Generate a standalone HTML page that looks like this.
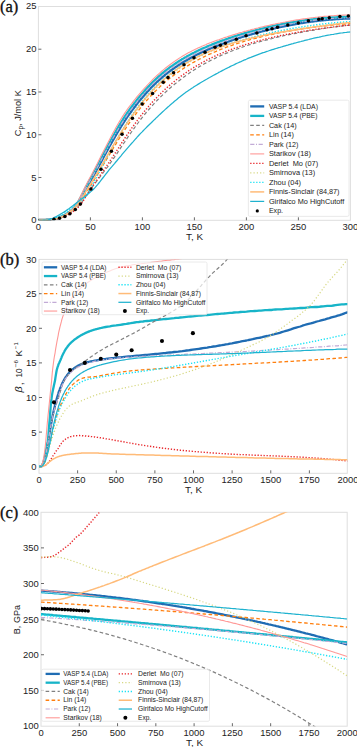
<!DOCTYPE html>
<html><head><meta charset="utf-8"><style>
html,body{margin:0;padding:0;background:#fff;}
body{width:357px;height:747px;overflow:hidden;}
svg{display:block;}
</style></head><body>
<svg width="357" height="747" viewBox="0 0 357 747">
<defs>
<clipPath id="ca"><rect x="38.4" y="6.5" width="312" height="213.8"/></clipPath>
<clipPath id="cb"><rect x="39" y="259.4" width="308.3" height="214"/></clipPath>
<clipPath id="cc"><rect x="41" y="512.3" width="306.2" height="213.9"/></clipPath>
</defs>
<rect x="38.4" y="6.5" width="312.0" height="213.8" fill="none" stroke="#dedede" stroke-width="1"/>
<line x1="38.4" y1="177.53" x2="41.4" y2="177.53" stroke="#444" stroke-width="0.8"/>
<line x1="38.4" y1="134.75" x2="41.4" y2="134.75" stroke="#444" stroke-width="0.8"/>
<line x1="38.4" y1="91.98" x2="41.4" y2="91.98" stroke="#444" stroke-width="0.8"/>
<line x1="38.4" y1="49.20" x2="41.4" y2="49.20" stroke="#444" stroke-width="0.8"/>
<line x1="90.40" y1="217.3" x2="90.40" y2="220.3" stroke="#444" stroke-width="0.8"/>
<line x1="142.40" y1="217.3" x2="142.40" y2="220.3" stroke="#444" stroke-width="0.8"/>
<line x1="194.40" y1="217.3" x2="194.40" y2="220.3" stroke="#444" stroke-width="0.8"/>
<line x1="246.40" y1="217.3" x2="246.40" y2="220.3" stroke="#444" stroke-width="0.8"/>
<line x1="298.40" y1="217.3" x2="298.40" y2="220.3" stroke="#444" stroke-width="0.8"/>
<line x1="38.4" y1="219.6" x2="51" y2="219.6" stroke="#111" stroke-width="1.6"/>
<path d="M38.9,220.3 L40.2,220.3 L41.5,220.2 L42.8,220.2 L44.1,220.2 L45.4,220.1 L46.7,220.0 L48.0,219.9 L49.3,219.8 L50.6,219.6 L52.0,219.5 L53.3,219.2 L54.6,219.0 L55.9,218.6 L57.2,218.3 L58.5,217.9 L59.8,217.4 L61.1,216.9 L62.4,216.4 L63.7,215.7 L65.0,215.0 L66.3,214.3 L67.6,213.5 L68.9,212.6 L70.2,211.6 L71.5,210.6 L72.8,209.4 L74.1,208.1 L75.4,206.6 L76.7,204.9 L78.0,203.1 L79.3,201.0 L80.6,198.8 L81.9,196.4 L83.2,194.0 L84.5,191.6 L85.8,189.3 L87.1,186.9 L88.4,184.6 L89.7,182.3 L91.1,180.1 L92.4,177.7 L93.7,175.4 L95.0,173.1 L96.3,170.7 L97.6,168.3 L98.9,165.9 L100.2,163.5 L101.5,161.1 L102.8,158.7 L104.1,156.3 L105.4,153.9 L106.7,151.5 L108.0,149.2 L109.3,146.8 L110.6,144.5 L111.9,142.2 L113.2,139.9 L114.5,137.6 L115.8,135.4 L117.1,133.1 L118.4,131.0 L119.7,128.8 L121.0,126.7 L122.3,124.6 L123.6,122.6 L124.9,120.6 L126.2,118.7 L127.5,116.7 L128.8,114.8 L130.1,113.0 L131.5,111.2 L132.8,109.4 L134.1,107.7 L135.4,106.0 L136.7,104.3 L138.0,102.6 L139.3,101.0 L140.6,99.4 L141.9,97.9 L143.2,96.4 L144.5,94.9 L145.8,93.4 L147.1,92.0 L148.4,90.6 L149.7,89.2 L151.0,87.8 L152.3,86.5 L153.6,85.2 L154.9,83.9 L156.2,82.7 L157.5,81.5 L158.8,80.3 L160.1,79.1 L161.4,78.0 L162.7,76.9 L164.0,75.8 L165.3,74.7 L166.6,73.7 L167.9,72.7 L169.2,71.7 L170.5,70.7 L171.9,69.7 L173.2,68.8 L174.5,67.9 L175.8,67.0 L177.1,66.1 L178.4,65.3 L179.7,64.4 L181.0,63.6 L182.3,62.8 L183.6,62.0 L184.9,61.2 L186.2,60.4 L187.5,59.7 L188.8,59.0 L190.1,58.2 L191.4,57.5 L192.7,56.9 L194.0,56.2 L195.3,55.5 L196.6,54.8 L197.9,54.2 L199.2,53.6 L200.5,52.9 L201.8,52.3 L203.1,51.7 L204.4,51.1 L205.7,50.6 L207.0,50.0 L208.3,49.4 L209.6,48.9 L211.0,48.3 L212.3,47.8 L213.6,47.2 L214.9,46.7 L216.2,46.2 L217.5,45.7 L218.8,45.2 L220.1,44.7 L221.4,44.2 L222.7,43.7 L224.0,43.2 L225.3,42.7 L226.6,42.2 L227.9,41.8 L229.2,41.3 L230.5,40.9 L231.8,40.4 L233.1,40.0 L234.4,39.5 L235.7,39.1 L237.0,38.7 L238.3,38.3 L239.6,37.8 L240.9,37.4 L242.2,37.0 L243.5,36.6 L244.8,36.2 L246.1,35.8 L247.4,35.4 L248.7,35.1 L250.0,34.7 L251.4,34.3 L252.7,33.9 L254.0,33.6 L255.3,33.2 L256.6,32.9 L257.9,32.5 L259.2,32.1 L260.5,31.8 L261.8,31.5 L263.1,31.1 L264.4,30.8 L265.7,30.5 L267.0,30.1 L268.3,29.8 L269.6,29.5 L270.9,29.2 L272.2,28.9 L273.5,28.6 L274.8,28.3 L276.1,28.0 L277.4,27.7 L278.7,27.4 L280.0,27.1 L281.3,26.9 L282.6,26.6 L283.9,26.3 L285.2,26.1 L286.5,25.8 L287.8,25.5 L289.1,25.3 L290.4,25.0 L291.8,24.8 L293.1,24.6 L294.4,24.3 L295.7,24.1 L297.0,23.9 L298.3,23.6 L299.6,23.4 L300.9,23.2 L302.2,23.0 L303.5,22.8 L304.8,22.6 L306.1,22.4 L307.4,22.2 L308.7,22.0 L310.0,21.8 L311.3,21.7 L312.6,21.5 L313.9,21.3 L315.2,21.2 L316.5,21.0 L317.8,20.9 L319.1,20.7 L320.4,20.6 L321.7,20.4 L323.0,20.3 L324.3,20.2 L325.6,20.0 L326.9,19.9 L328.2,19.8 L329.5,19.7 L330.9,19.6 L332.2,19.5 L333.5,19.4 L334.8,19.3 L336.1,19.2 L337.4,19.1 L338.7,19.0 L340.0,18.9 L341.3,18.9 L342.6,18.8 L343.9,18.7 L345.2,18.7 L346.5,18.6 L347.8,18.6 L349.1,18.6 L350.4,18.5" fill="none" stroke="#1f6cb3" stroke-width="2.3" stroke-linecap="butt" stroke-linejoin="round" clip-path="url(#ca)"/>
<path d="M38.9,220.3 L40.2,220.3 L41.5,220.2 L42.8,220.2 L44.1,220.2 L45.4,220.1 L46.7,220.0 L48.0,219.9 L49.3,219.8 L50.6,219.6 L52.0,219.4 L53.3,219.2 L54.6,218.9 L55.9,218.6 L57.2,218.2 L58.5,217.8 L59.8,217.4 L61.1,216.8 L62.4,216.3 L63.7,215.6 L65.0,214.9 L66.3,214.1 L67.6,213.3 L68.9,212.4 L70.2,211.4 L71.5,210.3 L72.8,209.1 L74.1,207.7 L75.4,206.0 L76.7,204.2 L78.0,202.2 L79.3,199.9 L80.6,197.5 L81.9,195.0 L83.2,192.4 L84.5,189.9 L85.8,187.4 L87.1,185.0 L88.4,182.6 L89.7,180.2 L91.1,177.8 L92.4,175.4 L93.7,173.0 L95.0,170.5 L96.3,168.1 L97.6,165.6 L98.9,163.1 L100.2,160.6 L101.5,158.1 L102.8,155.6 L104.1,153.1 L105.4,150.6 L106.7,148.1 L108.0,145.6 L109.3,143.2 L110.6,140.8 L111.9,138.4 L113.2,136.0 L114.5,133.7 L115.8,131.4 L117.1,129.1 L118.4,126.9 L119.7,124.7 L121.0,122.6 L122.3,120.5 L123.6,118.4 L124.9,116.4 L126.2,114.5 L127.5,112.5 L128.8,110.7 L130.1,108.8 L131.5,107.0 L132.8,105.3 L134.1,103.5 L135.4,101.9 L136.7,100.2 L138.0,98.6 L139.3,97.0 L140.6,95.4 L141.9,93.9 L143.2,92.4 L144.5,90.9 L145.8,89.5 L147.1,88.0 L148.4,86.6 L149.7,85.3 L151.0,83.9 L152.3,82.6 L153.6,81.3 L154.9,80.0 L156.2,78.8 L157.5,77.6 L158.8,76.4 L160.1,75.3 L161.4,74.1 L162.7,73.0 L164.0,72.0 L165.3,70.9 L166.6,69.9 L167.9,68.9 L169.2,67.9 L170.5,66.9 L171.9,66.0 L173.2,65.1 L174.5,64.2 L175.8,63.3 L177.1,62.4 L178.4,61.6 L179.7,60.8 L181.0,59.9 L182.3,59.1 L183.6,58.4 L184.9,57.6 L186.2,56.9 L187.5,56.1 L188.8,55.4 L190.1,54.7 L191.4,54.0 L192.7,53.3 L194.0,52.7 L195.3,52.0 L196.6,51.4 L197.9,50.7 L199.2,50.1 L200.5,49.5 L201.8,48.9 L203.1,48.3 L204.4,47.7 L205.7,47.2 L207.0,46.6 L208.3,46.0 L209.6,45.5 L211.0,45.0 L212.3,44.4 L213.6,43.9 L214.9,43.4 L216.2,42.9 L217.5,42.4 L218.8,41.9 L220.1,41.4 L221.4,40.9 L222.7,40.4 L224.0,40.0 L225.3,39.5 L226.6,39.0 L227.9,38.6 L229.2,38.1 L230.5,37.7 L231.8,37.3 L233.1,36.8 L234.4,36.4 L235.7,36.0 L237.0,35.6 L238.3,35.2 L239.6,34.8 L240.9,34.4 L242.2,34.0 L243.5,33.6 L244.8,33.2 L246.1,32.8 L247.4,32.4 L248.7,32.1 L250.0,31.7 L251.4,31.3 L252.7,31.0 L254.0,30.6 L255.3,30.3 L256.6,29.9 L257.9,29.6 L259.2,29.3 L260.5,28.9 L261.8,28.6 L263.1,28.3 L264.4,28.0 L265.7,27.7 L267.0,27.3 L268.3,27.0 L269.6,26.7 L270.9,26.4 L272.2,26.2 L273.5,25.9 L274.8,25.6 L276.1,25.3 L277.4,25.0 L278.7,24.8 L280.0,24.5 L281.3,24.2 L282.6,24.0 L283.9,23.7 L285.2,23.5 L286.5,23.2 L287.8,23.0 L289.1,22.8 L290.4,22.5 L291.8,22.3 L293.1,22.1 L294.4,21.9 L295.7,21.7 L297.0,21.4 L298.3,21.2 L299.6,21.0 L300.9,20.8 L302.2,20.6 L303.5,20.5 L304.8,20.3 L306.1,20.1 L307.4,19.9 L308.7,19.8 L310.0,19.6 L311.3,19.4 L312.6,19.3 L313.9,19.1 L315.2,19.0 L316.5,18.8 L317.8,18.7 L319.1,18.6 L320.4,18.4 L321.7,18.3 L323.0,18.2 L324.3,18.1 L325.6,18.0 L326.9,17.9 L328.2,17.8 L329.5,17.7 L330.9,17.6 L332.2,17.5 L333.5,17.4 L334.8,17.3 L336.1,17.3 L337.4,17.2 L338.7,17.1 L340.0,17.1 L341.3,17.0 L342.6,17.0 L343.9,16.9 L345.2,16.9 L346.5,16.9 L347.8,16.8 L349.1,16.8 L350.4,16.8" fill="none" stroke="#17b4c8" stroke-width="2.3" stroke-linecap="butt" stroke-linejoin="round" clip-path="url(#ca)"/>
<path d="M38.9,220.3 L40.2,220.3 L41.5,220.3 L42.8,220.2 L44.1,220.2 L45.4,220.1 L46.7,220.1 L48.0,220.0 L49.3,219.9 L50.6,219.8 L52.0,219.6 L53.3,219.4 L54.6,219.2 L55.9,218.9 L57.2,218.6 L58.5,218.3 L59.8,217.9 L61.1,217.5 L62.4,217.0 L63.7,216.5 L65.0,215.9 L66.3,215.2 L67.6,214.6 L68.9,213.8 L70.2,213.0 L71.5,212.1 L72.8,211.2 L74.1,210.2 L75.4,209.1 L76.7,208.0 L78.0,206.7 L79.3,205.2 L80.6,203.7 L81.9,202.0 L83.2,200.1 L84.5,198.2 L85.8,196.3 L87.1,194.3 L88.4,192.4 L89.7,190.5 L91.1,188.7 L92.4,186.9 L93.7,185.2 L95.0,183.4 L96.3,181.7 L97.6,180.0 L98.9,178.3 L100.2,176.6 L101.5,174.9 L102.8,173.2 L104.1,171.5 L105.4,169.8 L106.7,168.0 L108.0,166.3 L109.3,164.5 L110.6,162.7 L111.9,160.8 L113.2,159.0 L114.5,157.1 L115.8,155.2 L117.1,153.3 L118.4,151.3 L119.7,149.4 L121.0,147.4 L122.3,145.5 L123.6,143.5 L124.9,141.6 L126.2,139.7 L127.5,137.7 L128.8,135.8 L130.1,133.9 L131.5,132.0 L132.8,130.2 L134.1,128.3 L135.4,126.5 L136.7,124.7 L138.0,123.0 L139.3,121.2 L140.6,119.5 L141.9,117.9 L143.2,116.2 L144.5,114.6 L145.8,113.0 L147.1,111.5 L148.4,110.0 L149.7,108.5 L151.0,107.0 L152.3,105.6 L153.6,104.1 L154.9,102.8 L156.2,101.4 L157.5,100.0 L158.8,98.7 L160.1,97.4 L161.4,96.1 L162.7,94.8 L164.0,93.6 L165.3,92.4 L166.6,91.2 L167.9,90.0 L169.2,88.8 L170.5,87.7 L171.9,86.5 L173.2,85.4 L174.5,84.3 L175.8,83.3 L177.1,82.2 L178.4,81.2 L179.7,80.2 L181.0,79.2 L182.3,78.2 L183.6,77.2 L184.9,76.3 L186.2,75.3 L187.5,74.4 L188.8,73.5 L190.1,72.6 L191.4,71.7 L192.7,70.9 L194.0,70.0 L195.3,69.2 L196.6,68.4 L197.9,67.6 L199.2,66.8 L200.5,66.0 L201.8,65.3 L203.1,64.5 L204.4,63.8 L205.7,63.1 L207.0,62.4 L208.3,61.7 L209.6,61.0 L211.0,60.3 L212.3,59.7 L213.6,59.0 L214.9,58.4 L216.2,57.7 L217.5,57.1 L218.8,56.5 L220.1,55.9 L221.4,55.3 L222.7,54.8 L224.0,54.2 L225.3,53.6 L226.6,53.1 L227.9,52.6 L229.2,52.0 L230.5,51.5 L231.8,51.0 L233.1,50.5 L234.4,50.0 L235.7,49.5 L237.0,49.0 L238.3,48.6 L239.6,48.1 L240.9,47.6 L242.2,47.2 L243.5,46.7 L244.8,46.3 L246.1,45.9 L247.4,45.5 L248.7,45.0 L250.0,44.6 L251.4,44.2 L252.7,43.8 L254.0,43.4 L255.3,43.0 L256.6,42.7 L257.9,42.3 L259.2,41.9 L260.5,41.5 L261.8,41.2 L263.1,40.8 L264.4,40.5 L265.7,40.1 L267.0,39.8 L268.3,39.5 L269.6,39.1 L270.9,38.8 L272.2,38.5 L273.5,38.1 L274.8,37.8 L276.1,37.5 L277.4,37.2 L278.7,36.9 L280.0,36.6 L281.3,36.3 L282.6,36.0 L283.9,35.7 L285.2,35.5 L286.5,35.2 L287.8,34.9 L289.1,34.6 L290.4,34.4 L291.8,34.1 L293.1,33.8 L294.4,33.6 L295.7,33.3 L297.0,33.1 L298.3,32.8 L299.6,32.6 L300.9,32.3 L302.2,32.1 L303.5,31.9 L304.8,31.6 L306.1,31.4 L307.4,31.2 L308.7,30.9 L310.0,30.7 L311.3,30.5 L312.6,30.3 L313.9,30.1 L315.2,29.8 L316.5,29.6 L317.8,29.4 L319.1,29.2 L320.4,29.0 L321.7,28.8 L323.0,28.6 L324.3,28.4 L325.6,28.2 L326.9,28.0 L328.2,27.9 L329.5,27.7 L330.9,27.5 L332.2,27.3 L333.5,27.1 L334.8,26.9 L336.1,26.8 L337.4,26.6 L338.7,26.4 L340.0,26.2 L341.3,26.1 L342.6,25.9 L343.9,25.7 L345.2,25.6 L346.5,25.4 L347.8,25.3 L349.1,25.2 L350.4,25.1" fill="none" stroke="#808080" stroke-width="1.2" stroke-dasharray="3.6,2.4" stroke-linecap="butt" stroke-linejoin="round" clip-path="url(#ca)"/>
<path d="M38.9,220.3 L40.2,220.3 L41.5,220.3 L42.8,220.2 L44.1,220.2 L45.4,220.1 L46.7,220.1 L48.0,220.0 L49.3,219.8 L50.6,219.7 L52.0,219.5 L53.3,219.3 L54.6,219.1 L55.9,218.8 L57.2,218.4 L58.5,218.1 L59.8,217.6 L61.1,217.1 L62.4,216.6 L63.7,216.0 L65.0,215.4 L66.3,214.6 L67.6,213.9 L68.9,213.0 L70.2,212.1 L71.5,211.1 L72.8,210.0 L74.1,208.8 L75.4,207.5 L76.7,206.1 L78.0,204.5 L79.3,202.8 L80.6,201.0 L81.9,199.1 L83.2,197.1 L84.5,195.1 L85.8,193.0 L87.1,191.0 L88.4,188.9 L89.7,186.8 L91.1,184.8 L92.4,182.7 L93.7,180.6 L95.0,178.5 L96.3,176.4 L97.6,174.3 L98.9,172.1 L100.2,170.0 L101.5,167.8 L102.8,165.7 L104.1,163.5 L105.4,161.3 L106.7,159.2 L108.0,157.0 L109.3,154.8 L110.6,152.7 L111.9,150.5 L113.2,148.4 L114.5,146.2 L115.8,144.1 L117.1,141.9 L118.4,139.8 L119.7,137.7 L121.0,135.7 L122.3,133.6 L123.6,131.6 L124.9,129.6 L126.2,127.6 L127.5,125.7 L128.8,123.7 L130.1,121.9 L131.5,120.0 L132.8,118.2 L134.1,116.4 L135.4,114.6 L136.7,112.8 L138.0,111.1 L139.3,109.4 L140.6,107.8 L141.9,106.2 L143.2,104.6 L144.5,103.0 L145.8,101.5 L147.1,100.0 L148.4,98.6 L149.7,97.1 L151.0,95.7 L152.3,94.3 L153.6,93.0 L154.9,91.7 L156.2,90.4 L157.5,89.1 L158.8,87.9 L160.1,86.6 L161.4,85.4 L162.7,84.3 L164.0,83.1 L165.3,82.0 L166.6,80.9 L167.9,79.8 L169.2,78.8 L170.5,77.7 L171.9,76.7 L173.2,75.7 L174.5,74.7 L175.8,73.8 L177.1,72.8 L178.4,71.9 L179.7,71.0 L181.0,70.1 L182.3,69.2 L183.6,68.4 L184.9,67.5 L186.2,66.7 L187.5,65.9 L188.8,65.1 L190.1,64.3 L191.4,63.6 L192.7,62.8 L194.0,62.1 L195.3,61.4 L196.6,60.6 L197.9,59.9 L199.2,59.2 L200.5,58.6 L201.8,57.9 L203.1,57.3 L204.4,56.6 L205.7,56.0 L207.0,55.4 L208.3,54.7 L209.6,54.2 L211.0,53.6 L212.3,53.0 L213.6,52.4 L214.9,51.9 L216.2,51.3 L217.5,50.8 L218.8,50.2 L220.1,49.7 L221.4,49.2 L222.7,48.7 L224.0,48.2 L225.3,47.7 L226.6,47.2 L227.9,46.7 L229.2,46.3 L230.5,45.8 L231.8,45.4 L233.1,44.9 L234.4,44.5 L235.7,44.0 L237.0,43.6 L238.3,43.2 L239.6,42.8 L240.9,42.4 L242.2,42.0 L243.5,41.6 L244.8,41.2 L246.1,40.8 L247.4,40.4 L248.7,40.1 L250.0,39.7 L251.4,39.3 L252.7,39.0 L254.0,38.6 L255.3,38.3 L256.6,38.0 L257.9,37.6 L259.2,37.3 L260.5,37.0 L261.8,36.7 L263.1,36.3 L264.4,36.0 L265.7,35.7 L267.0,35.4 L268.3,35.1 L269.6,34.9 L270.9,34.6 L272.2,34.3 L273.5,34.0 L274.8,33.7 L276.1,33.5 L277.4,33.2 L278.7,32.9 L280.0,32.7 L281.3,32.4 L282.6,32.2 L283.9,31.9 L285.2,31.7 L286.5,31.5 L287.8,31.2 L289.1,31.0 L290.4,30.8 L291.8,30.5 L293.1,30.3 L294.4,30.1 L295.7,29.9 L297.0,29.7 L298.3,29.5 L299.6,29.3 L300.9,29.1 L302.2,28.9 L303.5,28.7 L304.8,28.5 L306.1,28.3 L307.4,28.1 L308.7,27.9 L310.0,27.7 L311.3,27.6 L312.6,27.4 L313.9,27.2 L315.2,27.1 L316.5,26.9 L317.8,26.7 L319.1,26.6 L320.4,26.4 L321.7,26.3 L323.0,26.1 L324.3,26.0 L325.6,25.8 L326.9,25.7 L328.2,25.5 L329.5,25.4 L330.9,25.3 L332.2,25.1 L333.5,25.0 L334.8,24.9 L336.1,24.8 L337.4,24.6 L338.7,24.5 L340.0,24.4 L341.3,24.3 L342.6,24.2 L343.9,24.1 L345.2,24.0 L346.5,23.9 L347.8,23.8 L349.1,23.7 L350.4,23.7" fill="none" stroke="#ff7f0e" stroke-width="1.3" stroke-dasharray="3.6,2.4" stroke-linecap="butt" stroke-linejoin="round" clip-path="url(#ca)"/>
<path d="M38.9,220.3 L40.2,220.3 L41.5,220.2 L42.8,220.2 L44.1,220.2 L45.4,220.1 L46.7,220.0 L48.0,219.9 L49.3,219.8 L50.6,219.6 L52.0,219.4 L53.3,219.2 L54.6,218.9 L55.9,218.6 L57.2,218.3 L58.5,217.9 L59.8,217.4 L61.1,216.9 L62.4,216.3 L63.7,215.7 L65.0,215.0 L66.3,214.2 L67.6,213.4 L68.9,212.5 L70.2,211.5 L71.5,210.5 L72.8,209.3 L74.1,207.9 L75.4,206.4 L76.7,204.6 L78.0,202.7 L79.3,200.5 L80.6,198.2 L81.9,195.7 L83.2,193.3 L84.5,190.8 L85.8,188.4 L87.1,186.0 L88.4,183.7 L89.7,181.3 L91.1,179.0 L92.4,176.6 L93.7,174.2 L95.0,171.8 L96.3,169.4 L97.6,167.0 L98.9,164.5 L100.2,162.1 L101.5,159.6 L102.8,157.2 L104.1,154.7 L105.4,152.3 L106.7,149.9 L108.0,147.4 L109.3,145.0 L110.6,142.7 L111.9,140.3 L113.2,138.0 L114.5,135.7 L115.8,133.4 L117.1,131.2 L118.4,129.0 L119.7,126.8 L121.0,124.7 L122.3,122.6 L123.6,120.6 L124.9,118.6 L126.2,116.6 L127.5,114.7 L128.8,112.8 L130.1,110.9 L131.5,109.1 L132.8,107.4 L134.1,105.6 L135.4,103.9 L136.7,102.3 L138.0,100.6 L139.3,99.0 L140.6,97.5 L141.9,95.9 L143.2,94.4 L144.5,92.9 L145.8,91.4 L147.1,90.0 L148.4,88.6 L149.7,87.2 L151.0,85.9 L152.3,84.5 L153.6,83.2 L154.9,82.0 L156.2,80.7 L157.5,79.5 L158.8,78.3 L160.1,77.2 L161.4,76.1 L162.7,74.9 L164.0,73.9 L165.3,72.8 L166.6,71.8 L167.9,70.8 L169.2,69.8 L170.5,68.8 L171.9,67.8 L173.2,66.9 L174.5,66.0 L175.8,65.1 L177.1,64.2 L178.4,63.4 L179.7,62.5 L181.0,61.7 L182.3,60.9 L183.6,60.1 L184.9,59.4 L186.2,58.6 L187.5,57.9 L188.8,57.1 L190.1,56.4 L191.4,55.7 L192.7,55.0 L194.0,54.4 L195.3,53.7 L196.6,53.1 L197.9,52.4 L199.2,51.8 L200.5,51.2 L201.8,50.6 L203.1,50.0 L204.4,49.4 L205.7,48.8 L207.0,48.2 L208.3,47.7 L209.6,47.1 L211.0,46.6 L212.3,46.0 L213.6,45.5 L214.9,45.0 L216.2,44.5 L217.5,44.0 L218.8,43.5 L220.1,43.0 L221.4,42.5 L222.7,42.0 L224.0,41.5 L225.3,41.1 L226.6,40.6 L227.9,40.2 L229.2,39.7 L230.5,39.3 L231.8,38.8 L233.1,38.4 L234.4,38.0 L235.7,37.5 L237.0,37.1 L238.3,36.7 L239.6,36.3 L240.9,35.9 L242.2,35.5 L243.5,35.1 L244.8,34.7 L246.1,34.3 L247.4,33.9 L248.7,33.6 L250.0,33.2 L251.4,32.8 L252.7,32.4 L254.0,32.1 L255.3,31.7 L256.6,31.4 L257.9,31.0 L259.2,30.7 L260.5,30.4 L261.8,30.0 L263.1,29.7 L264.4,29.4 L265.7,29.1 L267.0,28.7 L268.3,28.4 L269.6,28.1 L270.9,27.8 L272.2,27.5 L273.5,27.2 L274.8,26.9 L276.1,26.7 L277.4,26.4 L278.7,26.1 L280.0,25.8 L281.3,25.6 L282.6,25.3 L283.9,25.0 L285.2,24.8 L286.5,24.5 L287.8,24.3 L289.1,24.0 L290.4,23.8 L291.8,23.6 L293.1,23.3 L294.4,23.1 L295.7,22.9 L297.0,22.7 L298.3,22.4 L299.6,22.2 L300.9,22.0 L302.2,21.8 L303.5,21.6 L304.8,21.4 L306.1,21.3 L307.4,21.1 L308.7,20.9 L310.0,20.7 L311.3,20.6 L312.6,20.4 L313.9,20.2 L315.2,20.1 L316.5,19.9 L317.8,19.8 L319.1,19.6 L320.4,19.5 L321.7,19.4 L323.0,19.2 L324.3,19.1 L325.6,19.0 L326.9,18.9 L328.2,18.8 L329.5,18.7 L330.9,18.6 L332.2,18.5 L333.5,18.4 L334.8,18.3 L336.1,18.2 L337.4,18.2 L338.7,18.1 L340.0,18.0 L341.3,18.0 L342.6,17.9 L343.9,17.8 L345.2,17.8 L346.5,17.8 L347.8,17.7 L349.1,17.7 L350.4,17.7" fill="none" stroke="#c2abd6" stroke-width="1.2" stroke-dasharray="4.2,1.6,1,1.6" stroke-linecap="butt" stroke-linejoin="round" clip-path="url(#ca)"/>
<path d="M38.9,220.3 L40.2,220.3 L41.5,220.2 L42.8,220.2 L44.1,220.2 L45.4,220.1 L46.7,220.0 L48.0,219.9 L49.3,219.8 L50.6,219.6 L52.0,219.4 L53.3,219.2 L54.6,218.9 L55.9,218.6 L57.2,218.2 L58.5,217.8 L59.8,217.3 L61.1,216.8 L62.4,216.2 L63.7,215.5 L65.0,214.8 L66.3,214.0 L67.6,213.2 L68.9,212.2 L70.2,211.2 L71.5,210.1 L72.8,208.8 L74.1,207.3 L75.4,205.5 L76.7,203.5 L78.0,201.2 L79.3,198.7 L80.6,196.1 L81.9,193.4 L83.2,190.7 L84.5,188.1 L85.8,185.5 L87.1,183.0 L88.4,180.5 L89.7,178.0 L91.1,175.6 L92.4,173.1 L93.7,170.5 L95.0,168.0 L96.3,165.5 L97.6,162.9 L98.9,160.3 L100.2,157.7 L101.5,155.1 L102.8,152.6 L104.1,150.0 L105.4,147.4 L106.7,144.9 L108.0,142.4 L109.3,139.9 L110.6,137.4 L111.9,134.9 L113.2,132.5 L114.5,130.2 L115.8,127.8 L117.1,125.5 L118.4,123.3 L119.7,121.1 L121.0,119.0 L122.3,116.9 L123.6,114.9 L124.9,112.9 L126.2,111.0 L127.5,109.1 L128.8,107.3 L130.1,105.5 L131.5,103.8 L132.8,102.1 L134.1,100.4 L135.4,98.8 L136.7,97.2 L138.0,95.6 L139.3,94.1 L140.6,92.6 L141.9,91.1 L143.2,89.6 L144.5,88.2 L145.8,86.8 L147.1,85.4 L148.4,84.0 L149.7,82.6 L151.0,81.3 L152.3,80.0 L153.6,78.7 L154.9,77.4 L156.2,76.2 L157.5,75.0 L158.8,73.8 L160.1,72.6 L161.4,71.5 L162.7,70.4 L164.0,69.3 L165.3,68.2 L166.6,67.2 L167.9,66.2 L169.2,65.2 L170.5,64.2 L171.9,63.2 L173.2,62.3 L174.5,61.4 L175.8,60.5 L177.1,59.6 L178.4,58.8 L179.7,57.9 L181.0,57.1 L182.3,56.3 L183.6,55.5 L184.9,54.8 L186.2,54.0 L187.5,53.3 L188.8,52.6 L190.1,51.9 L191.4,51.2 L192.7,50.6 L194.0,49.9 L195.3,49.3 L196.6,48.7 L197.9,48.1 L199.2,47.5 L200.5,46.9 L201.8,46.3 L203.1,45.8 L204.4,45.2 L205.7,44.7 L207.0,44.1 L208.3,43.6 L209.6,43.1 L211.0,42.6 L212.3,42.1 L213.6,41.6 L214.9,41.1 L216.2,40.6 L217.5,40.1 L218.8,39.7 L220.1,39.2 L221.4,38.7 L222.7,38.3 L224.0,37.8 L225.3,37.4 L226.6,37.0 L227.9,36.5 L229.2,36.1 L230.5,35.7 L231.8,35.3 L233.1,34.9 L234.4,34.5 L235.7,34.1 L237.0,33.7 L238.3,33.3 L239.6,32.9 L240.9,32.5 L242.2,32.2 L243.5,31.8 L244.8,31.4 L246.1,31.1 L247.4,30.7 L248.7,30.3 L250.0,30.0 L251.4,29.6 L252.7,29.3 L254.0,29.0 L255.3,28.6 L256.6,28.3 L257.9,28.0 L259.2,27.6 L260.5,27.3 L261.8,27.0 L263.1,26.7 L264.4,26.4 L265.7,26.1 L267.0,25.8 L268.3,25.5 L269.6,25.2 L270.9,24.9 L272.2,24.6 L273.5,24.3 L274.8,24.1 L276.1,23.8 L277.4,23.5 L278.7,23.2 L280.0,23.0 L281.3,22.7 L282.6,22.5 L283.9,22.2 L285.2,22.0 L286.5,21.7 L287.8,21.5 L289.1,21.2 L290.4,21.0 L291.8,20.8 L293.1,20.6 L294.4,20.3 L295.7,20.1 L297.0,19.9 L298.3,19.7 L299.6,19.5 L300.9,19.3 L302.2,19.1 L303.5,18.9 L304.8,18.7 L306.1,18.5 L307.4,18.4 L308.7,18.2 L310.0,18.0 L311.3,17.8 L312.6,17.7 L313.9,17.5 L315.2,17.4 L316.5,17.2 L317.8,17.1 L319.1,16.9 L320.4,16.8 L321.7,16.7 L323.0,16.5 L324.3,16.4 L325.6,16.3 L326.9,16.2 L328.2,16.1 L329.5,15.9 L330.9,15.8 L332.2,15.7 L333.5,15.7 L334.8,15.6 L336.1,15.5 L337.4,15.4 L338.7,15.3 L340.0,15.2 L341.3,15.2 L342.6,15.1 L343.9,15.1 L345.2,15.0 L346.5,15.0 L347.8,14.9 L349.1,14.9 L350.4,14.9" fill="none" stroke="#ff9896" stroke-width="1.1" stroke-linecap="butt" stroke-linejoin="round" clip-path="url(#ca)"/>
<path d="M38.9,220.3 L40.2,220.3 L41.5,220.3 L42.8,220.2 L44.1,220.2 L45.4,220.2 L46.7,220.1 L48.0,220.0 L49.3,219.9 L50.6,219.8 L52.0,219.7 L53.3,219.5 L54.6,219.3 L55.9,219.1 L57.2,218.8 L58.5,218.5 L59.8,218.2 L61.1,217.8 L62.4,217.3 L63.7,216.8 L65.0,216.3 L66.3,215.7 L67.6,215.1 L68.9,214.4 L70.2,213.6 L71.5,212.8 L72.8,212.0 L74.1,211.0 L75.4,210.0 L76.7,208.8 L78.0,207.6 L79.3,206.1 L80.6,204.5 L81.9,202.8 L83.2,200.9 L84.5,198.8 L85.8,196.7 L87.1,194.5 L88.4,192.4 L89.7,190.4 L91.1,188.4 L92.4,186.4 L93.7,184.5 L95.0,182.6 L96.3,180.8 L97.6,178.9 L98.9,177.1 L100.2,175.2 L101.5,173.4 L102.8,171.5 L104.1,169.6 L105.4,167.7 L106.7,165.8 L108.0,163.9 L109.3,162.0 L110.6,160.0 L111.9,158.1 L113.2,156.1 L114.5,154.1 L115.8,152.1 L117.1,150.1 L118.4,148.1 L119.7,146.0 L121.0,144.0 L122.3,142.0 L123.6,140.1 L124.9,138.1 L126.2,136.1 L127.5,134.2 L128.8,132.3 L130.1,130.4 L131.5,128.5 L132.8,126.7 L134.1,124.9 L135.4,123.1 L136.7,121.3 L138.0,119.5 L139.3,117.8 L140.6,116.1 L141.9,114.5 L143.2,112.9 L144.5,111.2 L145.8,109.7 L147.1,108.1 L148.4,106.6 L149.7,105.1 L151.0,103.7 L152.3,102.2 L153.6,100.8 L154.9,99.4 L156.2,98.1 L157.5,96.7 L158.8,95.4 L160.1,94.1 L161.4,92.8 L162.7,91.6 L164.0,90.4 L165.3,89.1 L166.6,88.0 L167.9,86.8 L169.2,85.6 L170.5,84.5 L171.9,83.4 L173.2,82.3 L174.5,81.3 L175.8,80.2 L177.1,79.2 L178.4,78.2 L179.7,77.2 L181.0,76.2 L182.3,75.3 L183.6,74.3 L184.9,73.4 L186.2,72.5 L187.5,71.6 L188.8,70.7 L190.1,69.9 L191.4,69.0 L192.7,68.2 L194.0,67.4 L195.3,66.6 L196.6,65.8 L197.9,65.0 L199.2,64.3 L200.5,63.5 L201.8,62.8 L203.1,62.1 L204.4,61.4 L205.7,60.7 L207.0,60.0 L208.3,59.4 L209.6,58.7 L211.0,58.1 L212.3,57.4 L213.6,56.8 L214.9,56.2 L216.2,55.6 L217.5,55.0 L218.8,54.5 L220.1,53.9 L221.4,53.3 L222.7,52.8 L224.0,52.3 L225.3,51.7 L226.6,51.2 L227.9,50.7 L229.2,50.2 L230.5,49.7 L231.8,49.2 L233.1,48.7 L234.4,48.3 L235.7,47.8 L237.0,47.4 L238.3,46.9 L239.6,46.5 L240.9,46.1 L242.2,45.6 L243.5,45.2 L244.8,44.8 L246.1,44.4 L247.4,44.0 L248.7,43.6 L250.0,43.2 L251.4,42.8 L252.7,42.5 L254.0,42.1 L255.3,41.7 L256.6,41.4 L257.9,41.0 L259.2,40.7 L260.5,40.3 L261.8,40.0 L263.1,39.7 L264.4,39.3 L265.7,39.0 L267.0,38.7 L268.3,38.4 L269.6,38.1 L270.9,37.7 L272.2,37.4 L273.5,37.1 L274.8,36.9 L276.1,36.6 L277.4,36.3 L278.7,36.0 L280.0,35.7 L281.3,35.4 L282.6,35.2 L283.9,34.9 L285.2,34.6 L286.5,34.4 L287.8,34.1 L289.1,33.9 L290.4,33.6 L291.8,33.4 L293.1,33.1 L294.4,32.9 L295.7,32.6 L297.0,32.4 L298.3,32.2 L299.6,31.9 L300.9,31.7 L302.2,31.5 L303.5,31.3 L304.8,31.1 L306.1,30.9 L307.4,30.6 L308.7,30.4 L310.0,30.2 L311.3,30.0 L312.6,29.8 L313.9,29.6 L315.2,29.4 L316.5,29.2 L317.8,29.0 L319.1,28.9 L320.4,28.7 L321.7,28.5 L323.0,28.3 L324.3,28.1 L325.6,27.9 L326.9,27.8 L328.2,27.6 L329.5,27.4 L330.9,27.3 L332.2,27.1 L333.5,26.9 L334.8,26.8 L336.1,26.6 L337.4,26.4 L338.7,26.3 L340.0,26.1 L341.3,26.0 L342.6,25.8 L343.9,25.7 L345.2,25.5 L346.5,25.4 L347.8,25.3 L349.1,25.2 L350.4,25.1" fill="none" stroke="#e8262a" stroke-width="1.4" stroke-dasharray="1.3,1.7" stroke-linecap="butt" stroke-linejoin="round" clip-path="url(#ca)"/>
<path d="M38.9,220.3 L40.2,220.3 L41.5,220.3 L42.8,220.2 L44.1,220.2 L45.4,220.1 L46.7,220.1 L48.0,220.0 L49.3,219.8 L50.6,219.7 L52.0,219.5 L53.3,219.3 L54.6,219.0 L55.9,218.8 L57.2,218.4 L58.5,218.0 L59.8,217.6 L61.1,217.1 L62.4,216.6 L63.7,216.0 L65.0,215.3 L66.3,214.6 L67.6,213.8 L68.9,212.9 L70.2,212.0 L71.5,210.9 L72.8,209.8 L74.1,208.6 L75.4,207.2 L76.7,205.7 L78.0,204.0 L79.3,202.2 L80.6,200.3 L81.9,198.2 L83.2,196.1 L84.5,193.9 L85.8,191.7 L87.1,189.6 L88.4,187.5 L89.7,185.3 L91.1,183.2 L92.4,181.1 L93.7,179.0 L95.0,176.8 L96.3,174.7 L97.6,172.5 L98.9,170.4 L100.2,168.2 L101.5,166.0 L102.8,163.8 L104.1,161.6 L105.4,159.4 L106.7,157.2 L108.0,155.0 L109.3,152.8 L110.6,150.6 L111.9,148.5 L113.2,146.3 L114.5,144.1 L115.8,141.9 L117.1,139.8 L118.4,137.7 L119.7,135.6 L121.0,133.5 L122.3,131.4 L123.6,129.4 L124.9,127.4 L126.2,125.4 L127.5,123.4 L128.8,121.5 L130.1,119.6 L131.5,117.7 L132.8,115.9 L134.1,114.1 L135.4,112.3 L136.7,110.6 L138.0,108.9 L139.3,107.2 L140.6,105.5 L141.9,103.9 L143.2,102.3 L144.5,100.8 L145.8,99.2 L147.1,97.7 L148.4,96.3 L149.7,94.8 L151.0,93.4 L152.3,92.0 L153.6,90.6 L154.9,89.3 L156.2,88.0 L157.5,86.7 L158.8,85.4 L160.1,84.2 L161.4,83.0 L162.7,81.8 L164.0,80.6 L165.3,79.5 L166.6,78.4 L167.9,77.3 L169.2,76.2 L170.5,75.2 L171.9,74.1 L173.2,73.1 L174.5,72.1 L175.8,71.2 L177.1,70.2 L178.4,69.3 L179.7,68.4 L181.0,67.5 L182.3,66.6 L183.6,65.8 L184.9,64.9 L186.2,64.1 L187.5,63.3 L188.8,62.5 L190.1,61.7 L191.4,61.0 L192.7,60.2 L194.0,59.5 L195.3,58.8 L196.6,58.1 L197.9,57.4 L199.2,56.8 L200.5,56.1 L201.8,55.4 L203.1,54.8 L204.4,54.2 L205.7,53.6 L207.0,53.0 L208.3,52.4 L209.6,51.8 L211.0,51.3 L212.3,50.7 L213.6,50.2 L214.9,49.6 L216.2,49.1 L217.5,48.6 L218.8,48.1 L220.1,47.6 L221.4,47.1 L222.7,46.6 L224.0,46.2 L225.3,45.7 L226.6,45.3 L227.9,44.8 L229.2,44.4 L230.5,44.0 L231.8,43.5 L233.1,43.1 L234.4,42.7 L235.7,42.3 L237.0,41.9 L238.3,41.5 L239.6,41.2 L240.9,40.8 L242.2,40.4 L243.5,40.1 L244.8,39.7 L246.1,39.3 L247.4,39.0 L248.7,38.7 L250.0,38.3 L251.4,38.0 L252.7,37.7 L254.0,37.4 L255.3,37.0 L256.6,36.7 L257.9,36.4 L259.2,36.1 L260.5,35.8 L261.8,35.5 L263.1,35.3 L264.4,35.0 L265.7,34.7 L267.0,34.4 L268.3,34.1 L269.6,33.9 L270.9,33.6 L272.2,33.3 L273.5,33.1 L274.8,32.8 L276.1,32.6 L277.4,32.3 L278.7,32.1 L280.0,31.8 L281.3,31.6 L282.6,31.4 L283.9,31.1 L285.2,30.9 L286.5,30.7 L287.8,30.4 L289.1,30.2 L290.4,30.0 L291.8,29.8 L293.1,29.6 L294.4,29.4 L295.7,29.1 L297.0,28.9 L298.3,28.7 L299.6,28.5 L300.9,28.3 L302.2,28.1 L303.5,27.9 L304.8,27.7 L306.1,27.5 L307.4,27.3 L308.7,27.2 L310.0,27.0 L311.3,26.8 L312.6,26.6 L313.9,26.4 L315.2,26.2 L316.5,26.1 L317.8,25.9 L319.1,25.7 L320.4,25.5 L321.7,25.3 L323.0,25.2 L324.3,25.0 L325.6,24.8 L326.9,24.7 L328.2,24.5 L329.5,24.3 L330.9,24.2 L332.2,24.0 L333.5,23.8 L334.8,23.7 L336.1,23.5 L337.4,23.4 L338.7,23.2 L340.0,23.0 L341.3,22.9 L342.6,22.7 L343.9,22.6 L345.2,22.4 L346.5,22.3 L347.8,22.2 L349.1,22.1 L350.4,22.0" fill="none" stroke="#d6d882" stroke-width="1.2" stroke-dasharray="1.2,2.1" stroke-linecap="butt" stroke-linejoin="round" clip-path="url(#ca)"/>
<path d="M38.9,220.3 L40.2,220.3 L41.5,220.3 L42.8,220.3 L44.1,220.2 L45.4,220.2 L46.7,220.1 L48.0,220.0 L49.3,219.8 L50.6,219.5 L52.0,219.2 L53.3,218.8 L54.6,218.3 L55.9,217.8 L57.2,217.3 L58.5,216.7 L59.8,216.1 L61.1,215.3 L62.4,214.5 L63.7,213.7 L65.0,212.8 L66.3,212.0 L67.6,211.1 L68.9,210.1 L70.2,209.2 L71.5,208.2 L72.8,207.2 L74.1,206.2 L75.4,205.3 L76.7,204.3 L78.0,203.4 L79.3,202.4 L80.6,201.3 L81.9,200.2 L83.2,198.9 L84.5,197.6 L85.8,196.0 L87.1,194.0 L88.4,191.8 L89.7,189.4 L91.1,187.1 L92.4,184.8 L93.7,182.4 L95.0,180.1 L96.3,177.7 L97.6,175.2 L98.9,172.8 L100.2,170.3 L101.5,167.8 L102.8,165.3 L104.1,162.9 L105.4,160.4 L106.7,157.9 L108.0,155.5 L109.3,153.0 L110.6,150.6 L111.9,148.2 L113.2,145.8 L114.5,143.5 L115.8,141.2 L117.1,138.9 L118.4,136.6 L119.7,134.4 L121.0,132.2 L122.3,130.0 L123.6,127.9 L124.9,125.8 L126.2,123.7 L127.5,121.7 L128.8,119.7 L130.1,117.7 L131.5,115.8 L132.8,113.9 L134.1,112.0 L135.4,110.2 L136.7,108.4 L138.0,106.6 L139.3,104.9 L140.6,103.2 L141.9,101.6 L143.2,99.9 L144.5,98.4 L145.8,96.8 L147.1,95.3 L148.4,93.8 L149.7,92.4 L151.0,91.0 L152.3,89.6 L153.6,88.2 L154.9,86.9 L156.2,85.6 L157.5,84.4 L158.8,83.1 L160.1,81.9 L161.4,80.8 L162.7,79.6 L164.0,78.5 L165.3,77.4 L166.6,76.4 L167.9,75.3 L169.2,74.3 L170.5,73.3 L171.9,72.3 L173.2,71.4 L174.5,70.5 L175.8,69.6 L177.1,68.7 L178.4,67.8 L179.7,66.9 L181.0,66.1 L182.3,65.3 L183.6,64.5 L184.9,63.7 L186.2,63.0 L187.5,62.2 L188.8,61.5 L190.1,60.7 L191.4,60.0 L192.7,59.3 L194.0,58.7 L195.3,58.0 L196.6,57.3 L197.9,56.7 L199.2,56.0 L200.5,55.4 L201.8,54.8 L203.1,54.2 L204.4,53.6 L205.7,53.0 L207.0,52.5 L208.3,51.9 L209.6,51.4 L211.0,50.8 L212.3,50.3 L213.6,49.8 L214.9,49.2 L216.2,48.7 L217.5,48.2 L218.8,47.7 L220.1,47.2 L221.4,46.8 L222.7,46.3 L224.0,45.8 L225.3,45.4 L226.6,44.9 L227.9,44.5 L229.2,44.0 L230.5,43.6 L231.8,43.2 L233.1,42.8 L234.4,42.3 L235.7,41.9 L237.0,41.5 L238.3,41.1 L239.6,40.7 L240.9,40.3 L242.2,40.0 L243.5,39.6 L244.8,39.2 L246.1,38.8 L247.4,38.5 L248.7,38.1 L250.0,37.8 L251.4,37.4 L252.7,37.1 L254.0,36.7 L255.3,36.4 L256.6,36.1 L257.9,35.7 L259.2,35.4 L260.5,35.1 L261.8,34.8 L263.1,34.5 L264.4,34.2 L265.7,33.9 L267.0,33.6 L268.3,33.3 L269.6,33.0 L270.9,32.7 L272.2,32.4 L273.5,32.1 L274.8,31.8 L276.1,31.6 L277.4,31.3 L278.7,31.0 L280.0,30.8 L281.3,30.5 L282.6,30.3 L283.9,30.0 L285.2,29.8 L286.5,29.5 L287.8,29.3 L289.1,29.0 L290.4,28.8 L291.8,28.6 L293.1,28.3 L294.4,28.1 L295.7,27.9 L297.0,27.7 L298.3,27.4 L299.6,27.2 L300.9,27.0 L302.2,26.8 L303.5,26.6 L304.8,26.4 L306.1,26.2 L307.4,26.0 L308.7,25.8 L310.0,25.6 L311.3,25.4 L312.6,25.3 L313.9,25.1 L315.2,24.9 L316.5,24.7 L317.8,24.6 L319.1,24.4 L320.4,24.2 L321.7,24.1 L323.0,23.9 L324.3,23.8 L325.6,23.6 L326.9,23.5 L328.2,23.3 L329.5,23.2 L330.9,23.1 L332.2,22.9 L333.5,22.8 L334.8,22.7 L336.1,22.6 L337.4,22.4 L338.7,22.3 L340.0,22.2 L341.3,22.1 L342.6,22.0 L343.9,21.9 L345.2,21.8 L346.5,21.8 L347.8,21.7 L349.1,21.6 L350.4,21.6" fill="none" stroke="#1de3f5" stroke-width="1.4" stroke-dasharray="1.3,1.7" stroke-linecap="butt" stroke-linejoin="round" clip-path="url(#ca)"/>
<path d="M38.9,220.3 L40.2,220.3 L41.5,220.3 L42.8,220.2 L44.1,220.2 L45.4,220.1 L46.7,220.1 L48.0,220.0 L49.3,219.8 L50.6,219.7 L52.0,219.5 L53.3,219.3 L54.6,219.0 L55.9,218.7 L57.2,218.4 L58.5,218.0 L59.8,217.6 L61.1,217.1 L62.4,216.6 L63.7,216.0 L65.0,215.3 L66.3,214.6 L67.6,213.8 L68.9,212.9 L70.2,211.9 L71.5,210.9 L72.8,209.8 L74.1,208.6 L75.4,207.2 L76.7,205.7 L78.0,204.0 L79.3,202.2 L80.6,200.3 L81.9,198.2 L83.2,196.1 L84.5,193.9 L85.8,191.7 L87.1,189.6 L88.4,187.4 L89.7,185.3 L91.1,183.1 L92.4,181.0 L93.7,178.8 L95.0,176.7 L96.3,174.5 L97.6,172.3 L98.9,170.1 L100.2,167.8 L101.5,165.6 L102.8,163.4 L104.1,161.1 L105.4,158.9 L106.7,156.7 L108.0,154.4 L109.3,152.2 L110.6,149.9 L111.9,147.7 L113.2,145.5 L114.5,143.3 L115.8,141.1 L117.1,138.9 L118.4,136.8 L119.7,134.6 L121.0,132.5 L122.3,130.4 L123.6,128.3 L124.9,126.3 L126.2,124.3 L127.5,122.3 L128.8,120.4 L130.1,118.5 L131.5,116.6 L132.8,114.7 L134.1,112.9 L135.4,111.1 L136.7,109.4 L138.0,107.6 L139.3,105.9 L140.6,104.3 L141.9,102.6 L143.2,101.0 L144.5,99.5 L145.8,97.9 L147.1,96.4 L148.4,94.9 L149.7,93.5 L151.0,92.1 L152.3,90.7 L153.6,89.3 L154.9,88.0 L156.2,86.7 L157.5,85.4 L158.8,84.1 L160.1,82.9 L161.4,81.7 L162.7,80.5 L164.0,79.4 L165.3,78.2 L166.6,77.1 L167.9,76.1 L169.2,75.0 L170.5,74.0 L171.9,73.0 L173.2,72.0 L174.5,71.0 L175.8,70.0 L177.1,69.1 L178.4,68.2 L179.7,67.3 L181.0,66.4 L182.3,65.6 L183.6,64.7 L184.9,63.9 L186.2,63.1 L187.5,62.3 L188.8,61.6 L190.1,60.8 L191.4,60.1 L192.7,59.4 L194.0,58.7 L195.3,58.0 L196.6,57.3 L197.9,56.6 L199.2,56.0 L200.5,55.4 L201.8,54.7 L203.1,54.1 L204.4,53.5 L205.7,52.9 L207.0,52.4 L208.3,51.8 L209.6,51.2 L211.0,50.7 L212.3,50.2 L213.6,49.7 L214.9,49.2 L216.2,48.7 L217.5,48.2 L218.8,47.7 L220.1,47.2 L221.4,46.8 L222.7,46.3 L224.0,45.9 L225.3,45.4 L226.6,45.0 L227.9,44.6 L229.2,44.2 L230.5,43.8 L231.8,43.4 L233.1,43.0 L234.4,42.6 L235.7,42.2 L237.0,41.8 L238.3,41.5 L239.6,41.1 L240.9,40.8 L242.2,40.4 L243.5,40.1 L244.8,39.7 L246.1,39.4 L247.4,39.1 L248.7,38.8 L250.0,38.5 L251.4,38.1 L252.7,37.8 L254.0,37.5 L255.3,37.2 L256.6,37.0 L257.9,36.7 L259.2,36.4 L260.5,36.1 L261.8,35.8 L263.1,35.6 L264.4,35.3 L265.7,35.0 L267.0,34.8 L268.3,34.5 L269.6,34.3 L270.9,34.0 L272.2,33.8 L273.5,33.5 L274.8,33.3 L276.1,33.1 L277.4,32.8 L278.7,32.6 L280.0,32.4 L281.3,32.1 L282.6,31.9 L283.9,31.7 L285.2,31.5 L286.5,31.2 L287.8,31.0 L289.1,30.8 L290.4,30.6 L291.8,30.4 L293.1,30.2 L294.4,30.0 L295.7,29.8 L297.0,29.6 L298.3,29.4 L299.6,29.2 L300.9,29.0 L302.2,28.8 L303.5,28.6 L304.8,28.4 L306.1,28.2 L307.4,28.0 L308.7,27.9 L310.0,27.7 L311.3,27.5 L312.6,27.3 L313.9,27.1 L315.2,26.9 L316.5,26.8 L317.8,26.6 L319.1,26.4 L320.4,26.2 L321.7,26.1 L323.0,25.9 L324.3,25.7 L325.6,25.5 L326.9,25.4 L328.2,25.2 L329.5,25.0 L330.9,24.9 L332.2,24.7 L333.5,24.5 L334.8,24.4 L336.1,24.2 L337.4,24.0 L338.7,23.9 L340.0,23.7 L341.3,23.5 L342.6,23.4 L343.9,23.2 L345.2,23.1 L346.5,22.9 L347.8,22.8 L349.1,22.7 L350.4,22.6" fill="none" stroke="#ffbb78" stroke-width="1.5" stroke-linecap="butt" stroke-linejoin="round" clip-path="url(#ca)"/>
<path d="M38.9,220.3 L40.2,220.3 L41.5,220.3 L42.8,220.3 L44.1,220.2 L45.4,220.2 L46.7,220.1 L48.0,219.9 L49.3,219.5 L50.6,219.1 L52.0,218.6 L53.3,218.1 L54.6,217.4 L55.9,216.7 L57.2,216.0 L58.5,215.3 L59.8,214.6 L61.1,213.8 L62.4,213.0 L63.7,212.2 L65.0,211.4 L66.3,210.5 L67.6,209.6 L68.9,208.7 L70.2,207.7 L71.5,206.7 L72.8,205.8 L74.1,204.8 L75.4,203.8 L76.7,202.8 L78.0,201.8 L79.3,200.7 L80.6,199.7 L81.9,198.7 L83.2,197.7 L84.5,196.7 L85.8,195.7 L87.1,194.7 L88.4,193.7 L89.7,192.6 L91.1,191.4 L92.4,190.2 L93.7,189.0 L95.0,187.6 L96.3,186.1 L97.6,184.6 L98.9,183.0 L100.2,181.4 L101.5,179.7 L102.8,178.0 L104.1,176.3 L105.4,174.6 L106.7,173.0 L108.0,171.3 L109.3,169.7 L110.6,168.2 L111.9,166.7 L113.2,165.1 L114.5,163.6 L115.8,162.0 L117.1,160.5 L118.4,158.9 L119.7,157.3 L121.0,155.8 L122.3,154.2 L123.6,152.7 L124.9,151.2 L126.2,149.6 L127.5,148.1 L128.8,146.6 L130.1,145.1 L131.5,143.5 L132.8,142.1 L134.1,140.6 L135.4,139.1 L136.7,137.7 L138.0,136.2 L139.3,134.8 L140.6,133.4 L141.9,132.1 L143.2,130.7 L144.5,129.4 L145.8,128.1 L147.1,126.8 L148.4,125.5 L149.7,124.2 L151.0,123.0 L152.3,121.7 L153.6,120.4 L154.9,119.2 L156.2,117.9 L157.5,116.7 L158.8,115.4 L160.1,114.2 L161.4,113.0 L162.7,111.8 L164.0,110.6 L165.3,109.4 L166.6,108.2 L167.9,107.0 L169.2,105.9 L170.5,104.7 L171.9,103.6 L173.2,102.5 L174.5,101.3 L175.8,100.3 L177.1,99.2 L178.4,98.1 L179.7,97.1 L181.0,96.0 L182.3,95.0 L183.6,94.0 L184.9,93.1 L186.2,92.1 L187.5,91.2 L188.8,90.3 L190.1,89.4 L191.4,88.5 L192.7,87.7 L194.0,86.8 L195.3,86.0 L196.6,85.2 L197.9,84.4 L199.2,83.6 L200.5,82.8 L201.8,82.0 L203.1,81.3 L204.4,80.5 L205.7,79.7 L207.0,79.0 L208.3,78.2 L209.6,77.5 L211.0,76.7 L212.3,76.0 L213.6,75.3 L214.9,74.6 L216.2,73.9 L217.5,73.2 L218.8,72.4 L220.1,71.8 L221.4,71.1 L222.7,70.4 L224.0,69.7 L225.3,69.0 L226.6,68.4 L227.9,67.7 L229.2,67.1 L230.5,66.4 L231.8,65.8 L233.1,65.2 L234.4,64.6 L235.7,63.9 L237.0,63.3 L238.3,62.7 L239.6,62.1 L240.9,61.6 L242.2,61.0 L243.5,60.4 L244.8,59.8 L246.1,59.3 L247.4,58.7 L248.7,58.2 L250.0,57.7 L251.4,57.1 L252.7,56.6 L254.0,56.1 L255.3,55.6 L256.6,55.1 L257.9,54.6 L259.2,54.1 L260.5,53.7 L261.8,53.2 L263.1,52.7 L264.4,52.3 L265.7,51.8 L267.0,51.4 L268.3,51.0 L269.6,50.5 L270.9,50.1 L272.2,49.7 L273.5,49.3 L274.8,48.9 L276.1,48.5 L277.4,48.1 L278.7,47.7 L280.0,47.4 L281.3,47.0 L282.6,46.6 L283.9,46.2 L285.2,45.8 L286.5,45.4 L287.8,45.1 L289.1,44.7 L290.4,44.3 L291.8,43.9 L293.1,43.6 L294.4,43.2 L295.7,42.9 L297.0,42.5 L298.3,42.1 L299.6,41.8 L300.9,41.5 L302.2,41.1 L303.5,40.8 L304.8,40.4 L306.1,40.1 L307.4,39.8 L308.7,39.5 L310.0,39.1 L311.3,38.8 L312.6,38.5 L313.9,38.2 L315.2,37.9 L316.5,37.6 L317.8,37.3 L319.1,37.1 L320.4,36.8 L321.7,36.5 L323.0,36.2 L324.3,36.0 L325.6,35.7 L326.9,35.4 L328.2,35.2 L329.5,35.0 L330.9,34.7 L332.2,34.5 L333.5,34.3 L334.8,34.0 L336.1,33.8 L337.4,33.6 L338.7,33.4 L340.0,33.2 L341.3,33.0 L342.6,32.9 L343.9,32.7 L345.2,32.5 L346.5,32.4 L347.8,32.2 L349.1,32.1 L350.4,31.9" fill="none" stroke="#1fb2cf" stroke-width="1.25" stroke-linecap="butt" stroke-linejoin="round" clip-path="url(#ca)"/>
<g clip-path="url(#ca)"><circle cx="54.00" cy="219.19" r="1.75" fill="#000"/><circle cx="59.51" cy="218.33" r="1.75" fill="#000"/><circle cx="64.92" cy="216.62" r="1.75" fill="#000"/><circle cx="69.91" cy="213.80" r="1.75" fill="#000"/><circle cx="75.32" cy="209.61" r="1.75" fill="#000"/><circle cx="80.42" cy="204.05" r="1.75" fill="#000"/><circle cx="90.92" cy="188.90" r="1.75" fill="#000"/><circle cx="101.01" cy="169.23" r="1.75" fill="#000"/><circle cx="111.41" cy="151.26" r="1.75" fill="#000"/><circle cx="122.02" cy="134.24" r="1.75" fill="#000"/><circle cx="132.42" cy="118.24" r="1.75" fill="#000"/><circle cx="142.19" cy="103.95" r="1.75" fill="#000"/><circle cx="152.59" cy="93.43" r="1.75" fill="#000"/><circle cx="163.20" cy="82.22" r="1.75" fill="#000"/><circle cx="167.98" cy="77.43" r="1.75" fill="#000"/><circle cx="173.60" cy="72.73" r="1.75" fill="#000"/><circle cx="184.00" cy="64.77" r="1.75" fill="#000"/><circle cx="193.98" cy="57.76" r="1.75" fill="#000"/><circle cx="205.01" cy="52.19" r="1.75" fill="#000"/><circle cx="214.99" cy="47.23" r="1.75" fill="#000"/><circle cx="220.40" cy="45.18" r="1.75" fill="#000"/><circle cx="225.39" cy="43.21" r="1.75" fill="#000"/><circle cx="236.31" cy="39.19" r="1.75" fill="#000"/><circle cx="246.09" cy="35.85" r="1.75" fill="#000"/><circle cx="256.90" cy="32.95" r="1.75" fill="#000"/><circle cx="266.99" cy="29.78" r="1.75" fill="#000"/><circle cx="272.09" cy="28.67" r="1.75" fill="#000"/><circle cx="277.50" cy="27.30" r="1.75" fill="#000"/><circle cx="287.79" cy="24.90" r="1.75" fill="#000"/><circle cx="298.30" cy="22.94" r="1.75" fill="#000"/><circle cx="308.38" cy="20.80" r="1.75" fill="#000"/><circle cx="318.78" cy="19.26" r="1.75" fill="#000"/><circle cx="322.22" cy="18.83" r="1.75" fill="#000"/><circle cx="329.29" cy="17.63" r="1.75" fill="#000"/><circle cx="339.90" cy="16.52" r="1.75" fill="#000"/><circle cx="348.32" cy="16.01" r="1.75" fill="#000"/></g>
<g font-family='"Liberation Sans", sans-serif' fill="#222">
<text x="36.50" y="223.30" font-size="9.08" text-anchor="end" textLength="5.25" lengthAdjust="spacingAndGlyphs">0</text>
<text x="36.50" y="180.53" font-size="9.08" text-anchor="end" textLength="5.25" lengthAdjust="spacingAndGlyphs">5</text>
<text x="36.50" y="137.75" font-size="9.08" text-anchor="end" textLength="10.50" lengthAdjust="spacingAndGlyphs">10</text>
<text x="36.50" y="94.98" font-size="9.08" text-anchor="end" textLength="10.50" lengthAdjust="spacingAndGlyphs">15</text>
<text x="36.50" y="52.20" font-size="9.08" text-anchor="end" textLength="10.50" lengthAdjust="spacingAndGlyphs">20</text>
<text x="36.50" y="9.43" font-size="9.08" text-anchor="end" textLength="10.50" lengthAdjust="spacingAndGlyphs">25</text>
<text x="38.40" y="229.60" font-size="9.08" text-anchor="middle" textLength="5.25" lengthAdjust="spacingAndGlyphs">0</text>
<text x="90.40" y="229.60" font-size="9.08" text-anchor="middle" textLength="10.50" lengthAdjust="spacingAndGlyphs">50</text>
<text x="142.40" y="229.60" font-size="9.08" text-anchor="middle" textLength="15.75" lengthAdjust="spacingAndGlyphs">100</text>
<text x="194.40" y="229.60" font-size="9.08" text-anchor="middle" textLength="15.75" lengthAdjust="spacingAndGlyphs">150</text>
<text x="246.40" y="229.60" font-size="9.08" text-anchor="middle" textLength="15.75" lengthAdjust="spacingAndGlyphs">200</text>
<text x="298.40" y="229.60" font-size="9.08" text-anchor="middle" textLength="15.75" lengthAdjust="spacingAndGlyphs">250</text>
<text x="350.40" y="229.60" font-size="9.08" text-anchor="middle" textLength="15.75" lengthAdjust="spacingAndGlyphs">300</text>
<text x="194.70" y="240.30" font-size="9.45" text-anchor="middle" textLength="17.12" lengthAdjust="spacingAndGlyphs">T, K</text>
<text transform="translate(21.2,113.2) rotate(-90)" font-size="9.2" text-anchor="middle">C<tspan font-size="6.5" dy="2">p</tspan><tspan dy="-2">, J/mol K</tspan></text>
</g>
<rect x="248.4" y="100.2" width="100.6" height="116.2" fill="#fff" fill-opacity="0.85" stroke="#e4e4e4" stroke-width="0.8" rx="1.5"/>
<g font-family='"Liberation Sans", sans-serif' fill="#222">
<path d="M250.2,106.40 L264.2,106.40" fill="none" stroke="#1f6cb3" stroke-width="2.3" stroke-linecap="butt" stroke-linejoin="round"/>
<text x="268.90" y="108.80" font-size="7.16" text-anchor="start" textLength="49.10" lengthAdjust="spacingAndGlyphs">VASP 5.4 (LDA)</text>
<path d="M250.2,115.90 L264.2,115.90" fill="none" stroke="#17b4c8" stroke-width="2.3" stroke-linecap="butt" stroke-linejoin="round"/>
<text x="268.90" y="118.30" font-size="7.16" text-anchor="start" textLength="48.63" lengthAdjust="spacingAndGlyphs">VASP 5.4 (PBE)</text>
<path d="M250.2,125.40 L264.2,125.40" fill="none" stroke="#808080" stroke-width="1.2" stroke-dasharray="3.6,2.4" stroke-linecap="butt" stroke-linejoin="round"/>
<text x="268.90" y="127.80" font-size="7.16" text-anchor="start" textLength="27.74" lengthAdjust="spacingAndGlyphs">Cak (14)</text>
<path d="M250.2,134.90 L264.2,134.90" fill="none" stroke="#ff7f0e" stroke-width="1.3" stroke-dasharray="3.6,2.4" stroke-linecap="butt" stroke-linejoin="round"/>
<text x="268.90" y="137.30" font-size="7.16" text-anchor="start" textLength="24.99" lengthAdjust="spacingAndGlyphs">Lin (14)</text>
<path d="M250.2,144.40 L264.2,144.40" fill="none" stroke="#c2abd6" stroke-width="1.2" stroke-dasharray="4.2,1.6,1,1.6" stroke-linecap="butt" stroke-linejoin="round"/>
<text x="268.90" y="146.80" font-size="7.16" text-anchor="start" textLength="29.50" lengthAdjust="spacingAndGlyphs">Park (12)</text>
<path d="M250.2,153.90 L264.2,153.90" fill="none" stroke="#ff9896" stroke-width="1.1" stroke-linecap="butt" stroke-linejoin="round"/>
<text x="268.90" y="156.30" font-size="7.16" text-anchor="start" textLength="41.97" lengthAdjust="spacingAndGlyphs">Starikov (18)</text>
<path d="M250.2,163.40 L264.2,163.40" fill="none" stroke="#e8262a" stroke-width="1.4" stroke-dasharray="1.3,1.7" stroke-linecap="butt" stroke-linejoin="round"/>
<text x="268.90" y="165.80" font-size="7.16" text-anchor="start" textLength="49.23" lengthAdjust="spacingAndGlyphs">Derlet&#160; Mo (07)</text>
<path d="M250.2,172.90 L264.2,172.90" fill="none" stroke="#d6d882" stroke-width="1.2" stroke-dasharray="1.2,2.1" stroke-linecap="butt" stroke-linejoin="round"/>
<text x="268.90" y="175.30" font-size="7.16" text-anchor="start" textLength="46.23" lengthAdjust="spacingAndGlyphs">Smirnova (13)</text>
<path d="M250.2,182.40 L264.2,182.40" fill="none" stroke="#1de3f5" stroke-width="1.4" stroke-dasharray="1.3,1.7" stroke-linecap="butt" stroke-linejoin="round"/>
<text x="268.90" y="184.80" font-size="7.16" text-anchor="start" textLength="32.13" lengthAdjust="spacingAndGlyphs">Zhou (04)</text>
<path d="M250.2,191.90 L264.2,191.90" fill="none" stroke="#ffbb78" stroke-width="1.5" stroke-linecap="butt" stroke-linejoin="round"/>
<text x="268.90" y="194.30" font-size="7.16" text-anchor="start" textLength="70.60" lengthAdjust="spacingAndGlyphs">Finnis-Sinclair (84,87)</text>
<path d="M250.2,201.40 L264.2,201.40" fill="none" stroke="#1fb2cf" stroke-width="1.25" stroke-linecap="butt" stroke-linejoin="round"/>
<text x="268.90" y="203.80" font-size="7.16" text-anchor="start" textLength="75.38" lengthAdjust="spacingAndGlyphs">Girifalco Mo HighCutoff</text>
<circle cx="257.3" cy="210.90" r="1.6" fill="#000"/>
<text x="268.90" y="213.30" font-size="7.16" text-anchor="start" textLength="14.17" lengthAdjust="spacingAndGlyphs">Exp.</text>
</g>
<text x="0" y="11.6" font-family='"Liberation Serif", serif' font-size="16.5" fill="#111" stroke="#111" stroke-width="0.35">(a)</text>
<rect x="39" y="259.4" width="308.3" height="213.90000000000003" fill="none" stroke="#dedede" stroke-width="1"/>
<line x1="39" y1="466.70" x2="42" y2="466.70" stroke="#444" stroke-width="0.8"/>
<line x1="39" y1="432.10" x2="42" y2="432.10" stroke="#444" stroke-width="0.8"/>
<line x1="39" y1="397.50" x2="42" y2="397.50" stroke="#444" stroke-width="0.8"/>
<line x1="39" y1="362.90" x2="42" y2="362.90" stroke="#444" stroke-width="0.8"/>
<line x1="39" y1="328.30" x2="42" y2="328.30" stroke="#444" stroke-width="0.8"/>
<line x1="39" y1="293.70" x2="42" y2="293.70" stroke="#444" stroke-width="0.8"/>
<line x1="77.62" y1="470.3" x2="77.62" y2="473.3" stroke="#444" stroke-width="0.8"/>
<line x1="116.25" y1="470.3" x2="116.25" y2="473.3" stroke="#444" stroke-width="0.8"/>
<line x1="154.88" y1="470.3" x2="154.88" y2="473.3" stroke="#444" stroke-width="0.8"/>
<line x1="193.50" y1="470.3" x2="193.50" y2="473.3" stroke="#444" stroke-width="0.8"/>
<line x1="232.12" y1="470.3" x2="232.12" y2="473.3" stroke="#444" stroke-width="0.8"/>
<line x1="270.75" y1="470.3" x2="270.75" y2="473.3" stroke="#444" stroke-width="0.8"/>
<line x1="309.38" y1="470.3" x2="309.38" y2="473.3" stroke="#444" stroke-width="0.8"/>
<path d="M39.2,466.7 L39.5,466.7 L39.9,466.7 L40.3,466.6 L40.7,466.5 L41.1,466.3 L41.5,466.0 L41.9,465.6 L42.3,465.1 L42.6,464.5 L43.0,463.7 L43.4,462.8 L43.8,461.7 L44.2,460.4 L44.6,458.9 L45.0,457.3 L45.4,455.7 L45.7,454.1 L46.1,452.4 L46.5,450.6 L46.9,448.6 L47.3,446.5 L47.7,444.4 L48.1,442.2 L48.5,439.8 L48.8,437.5 L49.2,435.1 L49.6,432.8 L50.0,430.4 L50.4,428.1 L50.8,425.8 L51.2,423.6 L51.6,421.4 L51.9,419.3 L52.3,417.3 L52.7,415.4 L53.1,413.5 L53.5,411.7 L53.9,410.0 L54.3,408.3 L54.7,406.7 L55.1,405.1 L55.4,403.6 L55.8,402.1 L56.2,400.7 L56.6,399.3 L57.0,397.9 L57.4,396.6 L57.8,395.3 L58.2,394.1 L58.5,392.9 L58.9,391.7 L59.3,390.6 L59.7,389.6 L60.1,388.5 L60.5,387.5 L60.9,386.6 L61.3,385.6 L61.6,384.7 L62.0,383.9 L62.4,383.0 L62.8,382.2 L63.2,381.5 L63.6,380.7 L64.0,380.0 L64.4,379.4 L64.7,378.7 L65.1,378.1 L65.5,377.5 L65.9,376.9 L66.3,376.4 L66.7,375.8 L67.1,375.3 L67.5,374.8 L67.8,374.3 L68.2,373.8 L68.6,373.4 L69.0,372.9 L69.4,372.5 L69.8,372.1 L70.2,371.7 L70.6,371.3 L70.9,370.9 L71.3,370.5 L71.7,370.2 L72.1,369.9 L72.5,369.5 L72.9,369.2 L73.3,368.9 L73.7,368.6 L74.0,368.3 L74.4,368.0 L74.8,367.7 L75.2,367.5 L75.6,367.2 L76.0,367.0 L76.4,366.7 L76.8,366.5 L77.1,366.2 L77.5,366.0 L77.9,365.8 L78.3,365.6 L78.7,365.4 L79.1,365.2 L79.5,365.0 L79.9,364.8 L80.3,364.6 L80.6,364.5 L81.0,364.3 L81.4,364.1 L81.8,364.0 L82.2,363.8 L82.6,363.7 L83.0,363.6 L83.4,363.4 L83.7,363.3 L84.1,363.2 L84.5,363.0 L84.9,362.9 L85.3,362.8 L85.7,362.7 L86.1,362.6 L86.5,362.5 L86.8,362.4 L87.2,362.3 L87.6,362.2 L88.0,362.1 L88.4,362.0 L88.8,361.9 L89.2,361.8 L89.6,361.7 L89.9,361.6 L90.3,361.5 L90.7,361.5 L91.1,361.4 L91.5,361.3 L91.9,361.2 L92.3,361.2 L92.7,361.1 L93.0,361.0 L93.4,360.9 L93.8,360.9 L94.2,360.8 L94.6,360.7 L95.0,360.7 L95.4,360.6 L95.8,360.5 L96.1,360.5 L96.5,360.4 L96.9,360.3 L97.3,360.3 L97.7,360.2 L98.1,360.1 L98.5,360.1 L98.9,360.0 L99.2,359.9 L99.6,359.9 L100.0,359.8 L100.4,359.7 L100.8,359.7 L101.6,359.6 L103.6,359.2 L105.7,359.0 L107.8,358.7 L109.9,358.4 L111.9,358.2 L114.0,358.0 L116.1,357.7 L118.1,357.5 L120.2,357.3 L122.3,357.1 L124.4,356.9 L126.4,356.7 L128.5,356.5 L130.6,356.3 L132.6,356.1 L134.7,355.9 L136.8,355.7 L138.8,355.6 L140.9,355.4 L143.0,355.2 L145.1,355.0 L147.1,354.8 L149.2,354.6 L151.3,354.4 L153.3,354.2 L155.4,354.0 L157.5,353.8 L159.6,353.6 L161.6,353.4 L163.7,353.2 L165.8,353.0 L167.8,352.7 L169.9,352.5 L172.0,352.3 L174.1,352.0 L176.1,351.8 L178.2,351.6 L180.3,351.3 L182.3,351.1 L184.4,350.8 L186.5,350.5 L188.5,350.3 L190.6,350.0 L192.7,349.7 L194.8,349.4 L196.8,349.1 L198.9,348.8 L201.0,348.5 L203.0,348.2 L205.1,347.9 L207.2,347.6 L209.3,347.2 L211.3,346.9 L213.4,346.5 L215.5,346.3 L217.5,345.9 L219.6,345.5 L221.7,345.2 L223.8,344.8 L225.8,344.4 L227.9,344.1 L230.0,343.6 L232.0,343.3 L234.1,342.9 L236.2,342.5 L238.2,342.1 L240.3,341.7 L242.4,341.2 L244.5,340.8 L246.5,340.5 L248.6,340.0 L250.7,339.6 L252.7,339.2 L254.8,338.7 L256.9,338.2 L259.0,337.8 L261.0,337.5 L263.1,336.9 L265.2,336.4 L267.2,336.0 L269.3,335.5 L271.4,335.0 L273.5,334.4 L275.5,333.9 L277.6,333.4 L279.7,332.8 L281.7,332.1 L283.8,331.5 L285.9,330.9 L287.9,330.3 L290.0,329.7 L292.1,328.9 L294.2,328.2 L296.2,327.6 L298.3,327.0 L300.4,326.5 L302.4,325.7 L304.5,325.0 L306.6,324.4 L308.7,323.9 L310.7,323.4 L312.8,322.8 L314.9,322.2 L316.9,321.5 L319.0,321.0 L321.1,320.4 L323.2,319.9 L325.2,319.4 L327.3,318.7 L329.4,318.1 L331.4,317.4 L333.5,316.8 L335.6,316.3 L337.6,315.7 L339.7,315.1 L341.8,314.4 L343.9,313.6 L345.9,312.8 L348.0,312.1" fill="none" stroke="#1f6cb3" stroke-width="2.3" stroke-linecap="butt" stroke-linejoin="round" clip-path="url(#cb)"/>
<path d="M39.2,466.7 L39.5,466.7 L39.9,466.7 L40.3,466.6 L40.7,466.4 L41.1,466.2 L41.5,465.9 L41.9,465.5 L42.3,464.9 L42.6,464.2 L43.0,463.3 L43.4,462.2 L43.8,460.9 L44.2,459.5 L44.6,457.9 L45.0,456.1 L45.4,454.2 L45.7,452.2 L46.1,450.1 L46.5,447.9 L46.9,445.7 L47.3,443.6 L47.7,441.5 L48.1,438.8 L48.5,434.3 L48.8,429.7 L49.2,425.1 L49.6,420.4 L50.0,415.5 L50.4,410.1 L50.8,405.0 L51.2,401.0 L51.6,398.2 L51.9,395.7 L52.3,393.4 L52.7,391.3 L53.1,389.3 L53.5,387.5 L53.9,385.6 L54.3,383.8 L54.7,382.0 L55.1,380.1 L55.4,377.9 L55.8,375.4 L56.2,373.0 L56.6,370.8 L57.0,369.1 L57.4,367.7 L57.8,366.5 L58.2,365.4 L58.5,364.4 L58.9,363.5 L59.3,362.7 L59.7,361.8 L60.1,360.9 L60.5,360.0 L60.9,359.0 L61.3,358.1 L61.6,357.2 L62.0,356.3 L62.4,355.4 L62.8,354.6 L63.2,353.8 L63.6,353.0 L64.0,352.2 L64.4,351.5 L64.7,350.8 L65.1,350.2 L65.5,349.5 L65.9,348.9 L66.3,348.3 L66.7,347.7 L67.1,347.2 L67.5,346.7 L67.8,346.2 L68.2,345.7 L68.6,345.2 L69.0,344.7 L69.4,344.3 L69.8,343.9 L70.2,343.5 L70.6,343.1 L70.9,342.7 L71.3,342.3 L71.7,342.0 L72.1,341.6 L72.5,341.3 L72.9,341.0 L73.3,340.6 L73.7,340.3 L74.0,340.0 L74.4,339.7 L74.8,339.4 L75.2,339.1 L75.6,338.9 L76.0,338.6 L76.4,338.3 L76.8,338.0 L77.1,337.8 L77.5,337.5 L77.9,337.3 L78.3,337.0 L78.7,336.7 L79.1,336.5 L79.5,336.2 L79.9,336.0 L80.3,335.8 L80.6,335.5 L81.0,335.3 L81.4,335.1 L81.8,334.9 L82.2,334.7 L82.6,334.5 L83.0,334.3 L83.4,334.0 L83.7,333.9 L84.1,333.7 L84.5,333.5 L84.9,333.3 L85.3,333.1 L85.7,332.9 L86.1,332.7 L86.5,332.6 L86.8,332.4 L87.2,332.2 L87.6,332.1 L88.0,331.9 L88.4,331.7 L88.8,331.6 L89.2,331.4 L89.6,331.3 L89.9,331.1 L90.3,331.0 L90.7,330.9 L91.1,330.7 L91.5,330.6 L91.9,330.5 L92.3,330.3 L92.7,330.2 L93.0,330.1 L93.4,330.0 L93.8,329.8 L94.2,329.7 L94.6,329.6 L95.0,329.5 L95.4,329.4 L95.8,329.3 L96.1,329.2 L96.5,329.1 L96.9,329.0 L97.3,328.9 L97.7,328.8 L98.1,328.7 L98.5,328.6 L98.9,328.5 L99.2,328.4 L99.6,328.3 L100.0,328.2 L100.4,328.1 L100.8,328.0 L101.6,327.8 L103.6,327.4 L105.7,327.0 L107.8,326.6 L109.9,326.3 L111.9,325.9 L114.0,325.6 L116.1,325.4 L118.1,325.1 L120.2,324.8 L122.3,324.5 L124.4,324.2 L126.4,323.9 L128.5,323.5 L130.6,323.2 L132.6,322.8 L134.7,322.5 L136.8,322.2 L138.8,322.0 L140.9,321.7 L143.0,321.5 L145.1,321.2 L147.1,321.0 L149.2,320.8 L151.3,320.5 L153.3,320.3 L155.4,320.1 L157.5,319.9 L159.6,319.7 L161.6,319.4 L163.7,319.2 L165.8,319.0 L167.8,318.8 L169.9,318.6 L172.0,318.4 L174.1,318.2 L176.1,317.9 L178.2,317.8 L180.3,317.5 L182.3,317.3 L184.4,317.1 L186.5,316.9 L188.5,316.7 L190.6,316.5 L192.7,316.3 L194.8,316.1 L196.8,315.9 L198.9,315.7 L201.0,315.5 L203.0,315.4 L205.1,315.1 L207.2,315.0 L209.3,314.8 L211.3,314.6 L213.4,314.4 L215.5,314.2 L217.5,314.0 L219.6,313.8 L221.7,313.6 L223.8,313.5 L225.8,313.3 L227.9,313.1 L230.0,312.9 L232.0,312.8 L234.1,312.5 L236.2,312.4 L238.2,312.3 L240.3,312.0 L242.4,311.8 L244.5,311.8 L246.5,311.6 L248.6,311.3 L250.7,311.2 L252.7,311.2 L254.8,311.0 L256.9,310.8 L259.0,310.6 L261.0,310.6 L263.1,310.4 L265.2,310.2 L267.2,310.1 L269.3,310.0 L271.4,310.0 L273.5,309.7 L275.5,309.5 L277.6,309.4 L279.7,309.4 L281.7,309.3 L283.8,309.1 L285.9,308.9 L287.9,308.8 L290.0,308.7 L292.1,308.7 L294.2,308.5 L296.2,308.3 L298.3,308.1 L300.4,308.0 L302.4,308.0 L304.5,307.9 L306.6,307.6 L308.7,307.4 L310.7,307.2 L312.8,307.1 L314.9,307.0 L316.9,307.0 L319.0,306.8 L321.1,306.5 L323.2,306.3 L325.2,306.1 L327.3,305.9 L329.4,305.8 L331.4,305.8 L333.5,305.5 L335.6,305.2 L337.6,304.9 L339.7,304.6 L341.8,304.4 L343.9,304.3 L345.9,304.1 L348.0,304.1" fill="none" stroke="#17b4c8" stroke-width="2.3" stroke-linecap="butt" stroke-linejoin="round" clip-path="url(#cb)"/>
<path d="M39.2,466.7 L39.5,466.7 L39.9,466.7 L40.3,466.6 L40.7,466.5 L41.1,466.3 L41.5,466.1 L41.9,465.7 L42.3,465.2 L42.6,464.7 L43.0,463.9 L43.4,463.1 L43.8,462.0 L44.2,460.8 L44.6,459.5 L45.0,458.0 L45.4,456.3 L45.7,454.5 L46.1,452.6 L46.5,450.6 L46.9,448.6 L47.3,446.4 L47.7,444.3 L48.1,442.1 L48.5,439.8 L48.8,437.5 L49.2,435.2 L49.6,432.9 L50.0,430.7 L50.4,428.5 L50.8,426.4 L51.2,424.3 L51.6,422.3 L51.9,420.4 L52.3,418.6 L52.7,416.9 L53.1,415.2 L53.5,413.7 L53.9,412.2 L54.3,410.9 L54.7,409.5 L55.1,408.3 L55.4,407.1 L55.8,405.9 L56.2,404.7 L56.6,403.6 L57.0,402.4 L57.4,401.3 L57.8,400.1 L58.2,398.9 L58.5,397.7 L58.9,396.4 L59.3,395.1 L59.7,393.8 L60.1,392.4 L60.5,391.1 L60.9,389.8 L61.3,388.5 L61.6,387.3 L62.0,386.1 L62.4,384.9 L62.8,383.9 L63.2,382.9 L63.6,382.0 L64.0,381.2 L64.4,380.4 L64.7,379.8 L65.1,379.1 L65.5,378.5 L65.9,377.9 L66.3,377.3 L66.7,376.7 L67.1,376.2 L67.5,375.7 L67.8,375.2 L68.2,374.7 L68.6,374.2 L69.0,373.8 L69.4,373.4 L69.8,373.0 L70.2,372.6 L70.6,372.2 L70.9,371.8 L71.3,371.5 L71.7,371.1 L72.1,370.8 L72.5,370.4 L72.9,370.1 L73.3,369.8 L73.7,369.5 L74.0,369.2 L74.4,368.9 L74.8,368.6 L75.2,368.4 L75.6,368.1 L76.0,367.8 L76.4,367.5 L76.8,367.3 L77.1,367.0 L77.5,366.7 L77.9,366.5 L78.3,366.2 L78.7,365.9 L79.1,365.7 L79.5,365.4 L79.9,365.1 L80.3,364.9 L80.6,364.6 L81.0,364.3 L81.4,364.0 L81.8,363.7 L82.2,363.4 L82.6,363.1 L83.0,362.8 L83.4,362.5 L83.7,362.2 L84.1,361.9 L84.5,361.6 L84.9,361.3 L85.3,361.0 L85.7,360.7 L86.1,360.4 L86.5,360.2 L86.8,359.9 L87.2,359.6 L87.6,359.3 L88.0,359.0 L88.4,358.7 L88.8,358.4 L89.2,358.1 L89.6,357.9 L89.9,357.6 L90.3,357.3 L90.7,357.0 L91.1,356.7 L91.5,356.5 L91.9,356.2 L92.3,355.9 L92.7,355.6 L93.0,355.4 L93.4,355.1 L93.8,354.8 L94.2,354.6 L94.6,354.3 L95.0,354.1 L95.4,353.8 L95.8,353.5 L96.1,353.3 L96.5,353.0 L96.9,352.8 L97.3,352.5 L97.7,352.3 L98.1,352.1 L98.5,351.8 L98.9,351.6 L99.2,351.3 L99.6,351.1 L100.0,350.9 L100.4,350.6 L100.8,350.4 L101.6,349.9 L103.6,348.7 L105.7,347.5 L107.8,346.4 L109.9,345.3 L111.9,344.3 L114.0,343.2 L116.1,342.2 L118.1,341.1 L120.2,340.1 L122.3,339.0 L124.4,338.0 L126.4,336.9 L128.5,335.8 L130.6,334.7 L132.6,333.7 L134.7,332.6 L136.8,331.5 L138.8,330.3 L140.9,329.2 L143.0,328.0 L145.1,326.8 L147.1,325.5 L149.2,324.3 L151.3,323.1 L153.3,321.9 L155.4,320.8 L157.5,319.7 L159.6,318.6 L161.6,317.5 L163.7,316.4 L165.8,315.2 L167.8,314.1 L169.9,312.9 L172.0,311.7 L174.1,310.4 L176.1,309.1 L178.2,307.7 L180.3,306.2 L182.3,304.7 L184.4,303.1 L186.5,301.3 L188.5,299.3 L190.6,297.3 L192.7,295.1 L194.8,292.9 L196.8,290.5 L198.9,288.2 L201.0,285.8 L203.0,283.4 L205.1,281.1 L207.2,278.7 L209.3,276.6 L211.3,274.3 L213.4,272.4 L215.5,270.6 L217.5,268.7 L219.6,266.9 L221.7,265.0 L223.8,263.0 L225.8,260.9 L227.9,258.5 L230.0,255.9 L232.0,253.4 L234.1,250.7 L236.2,247.9 L238.2,245.2 L240.3,242.5 L242.4,239.5 L244.5,236.5 L246.5,233.7 L248.6,230.6 L250.7,227.4 L252.7,224.3 L254.8,221.2 L256.9,217.9 L259.0,214.4 L261.0,211.1 L263.1,207.8 L265.2,204.2 L267.2,200.5 L269.3,196.8 L271.4,193.2 L273.5,189.7 L275.5,185.6 L277.6,181.6 L279.7,177.6 L281.7,173.7 L283.8,169.8 L285.9,165.3 L287.9,161.0 L290.0,156.6 L292.1,152.3 L294.2,148.1 L296.2,143.4 L298.3,138.6 L300.4,133.8 L302.4,129.1 L304.5,124.4 L306.6,119.7 L308.7,114.5 L310.7,109.2 L312.8,103.9 L314.9,98.7 L316.9,93.5 L319.0,88.3 L321.1,82.9 L323.2,77.0 L325.2,71.2 L327.3,65.3 L329.4,59.5 L331.4,53.8 L333.5,48.0 L335.6,42.2 L337.6,35.6 L339.7,29.1 L341.8,22.5 L343.9,16.0 L345.9,9.5 L348.0,3.1" fill="none" stroke="#808080" stroke-width="1.2" stroke-dasharray="3.6,2.4" stroke-linecap="butt" stroke-linejoin="round" clip-path="url(#cb)"/>
<path d="M39.2,466.7 L39.5,466.7 L39.9,466.7 L40.3,466.6 L40.7,466.6 L41.1,466.5 L41.5,466.3 L41.9,466.1 L42.3,465.9 L42.6,465.5 L43.0,465.1 L43.4,464.6 L43.8,464.1 L44.2,463.4 L44.6,462.6 L45.0,461.7 L45.4,460.7 L45.7,459.6 L46.1,458.3 L46.5,457.0 L46.9,455.6 L47.3,454.2 L47.7,452.6 L48.1,451.0 L48.5,449.4 L48.8,447.7 L49.2,445.9 L49.6,444.2 L50.0,442.5 L50.4,440.7 L50.8,438.9 L51.2,437.2 L51.6,435.5 L51.9,433.8 L52.3,432.1 L52.7,430.5 L53.1,428.8 L53.5,427.2 L53.9,425.7 L54.3,424.2 L54.7,422.7 L55.1,421.3 L55.4,419.9 L55.8,418.5 L56.2,417.2 L56.6,416.0 L57.0,414.7 L57.4,413.5 L57.8,412.4 L58.2,411.3 L58.5,410.2 L58.9,409.1 L59.3,408.1 L59.7,407.2 L60.1,406.2 L60.5,405.3 L60.9,404.4 L61.3,403.6 L61.6,402.8 L62.0,402.0 L62.4,401.3 L62.8,400.5 L63.2,399.8 L63.6,398.9 L64.0,398.0 L64.4,397.2 L64.7,396.4 L65.1,395.6 L65.5,394.8 L65.9,394.1 L66.3,393.4 L66.7,392.7 L67.1,392.0 L67.5,391.3 L67.8,390.7 L68.2,390.1 L68.6,389.5 L69.0,389.0 L69.4,388.4 L69.8,387.9 L70.2,387.4 L70.6,386.9 L70.9,386.5 L71.3,386.0 L71.7,385.6 L72.1,385.2 L72.5,384.8 L72.9,384.4 L73.3,384.1 L73.7,383.7 L74.0,383.3 L74.4,383.0 L74.8,382.7 L75.2,382.4 L75.6,382.0 L76.0,381.7 L76.4,381.5 L76.8,381.2 L77.1,380.9 L77.5,380.6 L77.9,380.4 L78.3,380.1 L78.7,379.9 L79.1,379.7 L79.5,379.5 L79.9,379.3 L80.3,379.1 L80.6,378.9 L81.0,378.7 L81.4,378.6 L81.8,378.5 L82.2,378.3 L82.6,378.2 L83.0,378.1 L83.4,378.0 L83.7,377.9 L84.1,377.8 L84.5,377.7 L84.9,377.6 L85.3,377.6 L85.7,377.5 L86.1,377.4 L86.5,377.4 L86.8,377.3 L87.2,377.3 L87.6,377.2 L88.0,377.2 L88.4,377.2 L88.8,377.1 L89.2,377.1 L89.6,377.1 L89.9,377.0 L90.3,377.0 L90.7,377.0 L91.1,377.0 L91.5,376.9 L91.9,376.9 L92.3,376.9 L92.7,376.9 L93.0,376.8 L93.4,376.8 L93.8,376.8 L94.2,376.7 L94.6,376.7 L95.0,376.7 L95.4,376.6 L95.8,376.6 L96.1,376.5 L96.5,376.5 L96.9,376.4 L97.3,376.3 L97.7,376.2 L98.1,376.2 L98.5,376.1 L98.9,376.0 L99.2,375.9 L99.6,375.8 L100.0,375.8 L100.4,375.7 L100.8,375.6 L101.6,375.5 L103.6,375.1 L105.7,374.7 L107.8,374.3 L109.9,373.9 L111.9,373.6 L114.0,373.2 L116.1,372.9 L118.1,372.6 L120.2,372.2 L122.3,372.0 L124.4,371.7 L126.4,371.4 L128.5,371.1 L130.6,370.9 L132.6,370.7 L134.7,370.4 L136.8,370.3 L138.8,370.1 L140.9,369.9 L143.0,369.8 L145.1,369.6 L147.1,369.5 L149.2,369.4 L151.3,369.2 L153.3,369.1 L155.4,368.9 L157.5,368.8 L159.6,368.7 L161.6,368.6 L163.7,368.4 L165.8,368.3 L167.8,368.2 L169.9,368.1 L172.0,367.9 L174.1,367.8 L176.1,367.7 L178.2,367.6 L180.3,367.5 L182.3,367.4 L184.4,367.2 L186.5,367.1 L188.5,367.0 L190.6,366.9 L192.7,366.8 L194.8,366.7 L196.8,366.5 L198.9,366.4 L201.0,366.3 L203.0,366.2 L205.1,366.1 L207.2,366.0 L209.3,365.9 L211.3,365.8 L213.4,365.6 L215.5,365.5 L217.5,365.4 L219.6,365.3 L221.7,365.2 L223.8,365.1 L225.8,365.0 L227.9,364.9 L230.0,364.8 L232.0,364.6 L234.1,364.5 L236.2,364.4 L238.2,364.3 L240.3,364.2 L242.4,364.0 L244.5,363.9 L246.5,363.9 L248.6,363.7 L250.7,363.6 L252.7,363.5 L254.8,363.4 L256.9,363.2 L259.0,363.2 L261.0,363.1 L263.1,362.9 L265.2,362.8 L267.2,362.8 L269.3,362.6 L271.4,362.4 L273.5,362.4 L275.5,362.3 L277.6,362.1 L279.7,362.0 L281.7,361.9 L283.8,361.8 L285.9,361.6 L287.9,361.5 L290.0,361.4 L292.1,361.3 L294.2,361.2 L296.2,361.0 L298.3,360.9 L300.4,360.8 L302.4,360.7 L304.5,360.5 L306.6,360.3 L308.7,360.2 L310.7,360.1 L312.8,360.0 L314.9,359.8 L316.9,359.6 L319.0,359.5 L321.1,359.4 L323.2,359.3 L325.2,359.1 L327.3,358.9 L329.4,358.7 L331.4,358.6 L333.5,358.5 L335.6,358.4 L337.6,358.2 L339.7,358.0 L341.8,357.8 L343.9,357.6 L345.9,357.4 L348.0,357.3" fill="none" stroke="#ff7f0e" stroke-width="1.3" stroke-dasharray="3.6,2.4" stroke-linecap="butt" stroke-linejoin="round" clip-path="url(#cb)"/>
<path d="M39.2,466.7 L39.5,466.7 L39.9,466.7 L40.3,466.6 L40.7,466.5 L41.1,466.3 L41.5,466.1 L41.9,465.7 L42.3,465.3 L42.6,464.7 L43.0,464.0 L43.4,463.2 L43.8,462.2 L44.2,461.0 L44.6,459.7 L45.0,458.2 L45.4,456.6 L45.7,454.9 L46.1,453.0 L46.5,451.0 L46.9,448.9 L47.3,446.7 L47.7,444.4 L48.1,442.2 L48.5,439.8 L48.8,437.4 L49.2,435.1 L49.6,432.7 L50.0,430.4 L50.4,428.2 L50.8,426.0 L51.2,423.8 L51.6,421.7 L51.9,419.7 L52.3,417.8 L52.7,416.0 L53.1,414.3 L53.5,412.7 L53.9,411.2 L54.3,409.8 L54.7,408.5 L55.1,407.2 L55.4,405.9 L55.8,404.7 L56.2,403.5 L56.6,402.2 L57.0,401.0 L57.4,399.8 L57.8,398.5 L58.2,397.2 L58.5,396.0 L58.9,394.7 L59.3,393.5 L59.7,392.2 L60.1,391.0 L60.5,389.8 L60.9,388.7 L61.3,387.6 L61.6,386.5 L62.0,385.4 L62.4,384.5 L62.8,383.5 L63.2,382.7 L63.6,381.9 L64.0,381.1 L64.4,380.5 L64.7,379.8 L65.1,379.2 L65.5,378.6 L65.9,378.0 L66.3,377.5 L66.7,377.0 L67.1,376.5 L67.5,376.0 L67.8,375.5 L68.2,375.0 L68.6,374.6 L69.0,374.1 L69.4,373.7 L69.8,373.3 L70.2,372.9 L70.6,372.6 L70.9,372.2 L71.3,371.8 L71.7,371.5 L72.1,371.2 L72.5,370.9 L72.9,370.5 L73.3,370.2 L73.7,369.9 L74.0,369.7 L74.4,369.4 L74.8,369.1 L75.2,368.9 L75.6,368.6 L76.0,368.4 L76.4,368.1 L76.8,367.9 L77.1,367.6 L77.5,367.4 L77.9,367.2 L78.3,367.0 L78.7,366.8 L79.1,366.6 L79.5,366.4 L79.9,366.2 L80.3,366.0 L80.6,365.8 L81.0,365.6 L81.4,365.4 L81.8,365.3 L82.2,365.1 L82.6,364.9 L83.0,364.8 L83.4,364.6 L83.7,364.5 L84.1,364.3 L84.5,364.2 L84.9,364.0 L85.3,363.9 L85.7,363.7 L86.1,363.6 L86.5,363.5 L86.8,363.4 L87.2,363.2 L87.6,363.1 L88.0,363.0 L88.4,362.9 L88.8,362.8 L89.2,362.7 L89.6,362.5 L89.9,362.4 L90.3,362.3 L90.7,362.2 L91.1,362.1 L91.5,362.0 L91.9,361.9 L92.3,361.8 L92.7,361.8 L93.0,361.7 L93.4,361.6 L93.8,361.5 L94.2,361.4 L94.6,361.3 L95.0,361.2 L95.4,361.2 L95.8,361.1 L96.1,361.0 L96.5,360.9 L96.9,360.8 L97.3,360.8 L97.7,360.7 L98.1,360.6 L98.5,360.6 L98.9,360.5 L99.2,360.4 L99.6,360.4 L100.0,360.3 L100.4,360.2 L100.8,360.2 L101.6,360.0 L103.6,359.7 L105.7,359.4 L107.8,359.2 L109.9,358.9 L111.9,358.7 L114.0,358.5 L116.1,358.3 L118.1,358.1 L120.2,357.9 L122.3,357.8 L124.4,357.6 L126.4,357.4 L128.5,357.3 L130.6,357.2 L132.6,357.0 L134.7,356.9 L136.8,356.8 L138.8,356.6 L140.9,356.5 L143.0,356.4 L145.1,356.3 L147.1,356.1 L149.2,356.0 L151.3,355.9 L153.3,355.8 L155.4,355.7 L157.5,355.6 L159.6,355.5 L161.6,355.4 L163.7,355.3 L165.8,355.2 L167.8,355.1 L169.9,355.0 L172.0,354.9 L174.1,354.8 L176.1,354.7 L178.2,354.7 L180.3,354.5 L182.3,354.5 L184.4,354.4 L186.5,354.2 L188.5,354.2 L190.6,354.1 L192.7,354.0 L194.8,353.9 L196.8,353.8 L198.9,353.7 L201.0,353.6 L203.0,353.5 L205.1,353.4 L207.2,353.3 L209.3,353.2 L211.3,353.1 L213.4,353.0 L215.5,352.9 L217.5,352.8 L219.6,352.7 L221.7,352.6 L223.8,352.5 L225.8,352.4 L227.9,352.3 L230.0,352.2 L232.0,352.1 L234.1,352.0 L236.2,351.9 L238.2,351.8 L240.3,351.7 L242.4,351.5 L244.5,351.5 L246.5,351.4 L248.6,351.2 L250.7,351.1 L252.7,351.1 L254.8,350.9 L256.9,350.8 L259.0,350.7 L261.0,350.6 L263.1,350.4 L265.2,350.3 L267.2,350.2 L269.3,350.2 L271.4,350.0 L273.5,349.8 L275.5,349.7 L277.6,349.7 L279.7,349.5 L281.7,349.3 L283.8,349.2 L285.9,349.1 L287.9,349.1 L290.0,348.9 L292.1,348.7 L294.2,348.6 L296.2,348.5 L298.3,348.4 L300.4,348.3 L302.4,348.1 L304.5,347.9 L306.6,347.8 L308.7,347.7 L310.7,347.6 L312.8,347.5 L314.9,347.2 L316.9,347.1 L319.0,346.9 L321.1,346.8 L323.2,346.8 L325.2,346.6 L327.3,346.4 L329.4,346.2 L331.4,346.1 L333.5,345.9 L335.6,345.8 L337.6,345.8 L339.7,345.6 L341.8,345.4 L343.9,345.2 L345.9,345.0 L348.0,344.9" fill="none" stroke="#c2abd6" stroke-width="1.2" stroke-dasharray="4.2,1.6,1,1.6" stroke-linecap="butt" stroke-linejoin="round" clip-path="url(#cb)"/>
<path d="M39.2,466.7 L39.5,466.7 L39.9,466.6 L40.3,466.5 L40.7,466.3 L41.1,465.9 L41.5,465.3 L41.9,464.6 L42.3,463.6 L42.6,462.4 L43.0,460.8 L43.4,459.0 L43.8,456.8 L44.2,454.3 L44.6,451.5 L45.0,448.5 L45.4,445.1 L45.7,441.6 L46.1,437.2 L46.5,432.4 L46.9,427.7 L47.3,423.1 L47.7,418.8 L48.1,414.9 L48.5,411.3 L48.8,407.8 L49.2,404.2 L49.6,400.4 L50.0,396.3 L50.4,392.4 L50.8,388.5 L51.2,384.7 L51.6,381.0 L51.9,377.1 L52.3,372.6 L52.7,368.9 L53.1,365.6 L53.5,362.5 L53.9,359.6 L54.3,357.0 L54.7,354.9 L55.1,352.8 L55.4,350.6 L55.8,348.2 L56.2,345.9 L56.6,343.6 L57.0,341.4 L57.4,339.3 L57.8,337.3 L58.2,335.3 L58.5,333.4 L58.9,331.5 L59.3,329.8 L59.7,328.1 L60.1,326.4 L60.5,324.8 L60.9,323.3 L61.3,321.9 L61.6,320.5 L62.0,319.2 L62.4,317.9 L62.8,316.7 L63.2,315.5 L63.6,314.4 L64.0,313.3 L64.4,312.3 L64.7,311.3 L65.1,310.3 L65.5,309.4 L65.9,308.5 L66.3,307.6 L66.7,306.8 L67.1,306.0 L67.5,305.3 L67.8,304.5 L68.2,303.8 L68.6,303.1 L69.0,302.4 L69.4,301.8 L69.8,301.2 L70.2,300.6 L70.6,300.0 L70.9,299.4 L71.3,298.8 L71.7,298.3 L72.1,297.7 L72.5,297.2 L72.9,296.7 L73.3,296.2 L73.7,295.7 L74.0,295.2 L74.4,294.8 L74.8,294.3 L75.2,293.8 L75.6,293.4 L76.0,292.9 L76.4,292.5 L76.8,292.1 L77.1,291.6 L77.5,291.2 L77.9,290.8 L78.3,290.4 L78.7,290.0 L79.1,289.6 L79.5,289.2 L79.9,288.9 L80.3,288.5 L80.6,288.1 L81.0,287.8 L81.4,287.4 L81.8,287.1 L82.2,286.8 L82.6,286.4 L83.0,286.1 L83.4,285.8 L83.7,285.4 L84.1,285.1 L84.5,284.8 L84.9,284.5 L85.3,284.2 L85.7,283.9 L86.1,283.6 L86.5,283.3 L86.8,283.1 L87.2,282.8 L87.6,282.5 L88.0,282.2 L88.4,282.0 L88.8,281.7 L89.2,281.4 L89.6,281.2 L89.9,280.9 L90.3,280.7 L90.7,280.4 L91.1,280.2 L91.5,280.0 L91.9,279.7 L92.3,279.5 L92.7,279.2 L93.0,279.0 L93.4,278.8 L93.8,278.6 L94.2,278.4 L94.6,278.1 L95.0,277.9 L95.4,277.7 L95.8,277.5 L96.1,277.3 L96.5,277.1 L96.9,276.9 L97.3,276.7 L97.7,276.5 L98.1,276.3 L98.5,276.1 L98.9,275.9 L99.2,275.7 L99.6,275.5 L100.0,275.3 L100.4,275.1 L100.8,274.9 L101.6,274.6 L103.6,273.6 L105.7,272.6 L107.8,271.7 L109.9,270.9 L111.9,270.1 L114.0,269.3 L116.1,268.6 L118.1,267.9 L120.2,267.3 L122.3,266.8 L124.4,266.3 L126.4,265.9 L128.5,265.5 L130.6,265.2 L132.6,264.8 L134.7,264.5 L136.8,264.3 L138.8,264.0 L140.9,263.8 L143.0,263.5 L145.1,263.2 L147.1,263.0 L149.2,262.7 L151.3,262.4 L153.3,262.1 L155.4,261.8 L157.5,261.5 L159.6,261.3 L161.6,261.1 L163.7,260.8 L165.8,260.5 L167.8,260.3 L169.9,260.1 L172.0,259.8 L174.1,259.6 L176.1,259.3 L178.2,259.1 L180.3,258.8 L182.3,258.5 L184.4,258.3 L186.5,257.9 L188.5,257.7 L190.6,257.4 L192.7,257.1 L194.8,256.8 L196.8,256.5 L198.9,256.3 L201.0,256.0 L203.0,255.8 L205.1,255.4 L207.2,255.2 L209.3,254.9 L211.3,254.7 L213.4,254.5 L215.5,254.2 L217.5,254.0 L219.6,253.9 L221.7,253.6 L223.8,253.6 L225.8,253.5 L227.9,253.2 L230.0,253.2 L232.0,253.2 L234.1,252.9 L236.2,252.8 L238.2,252.8 L240.3,252.7 L242.4,252.5 L244.5,252.4 L246.5,252.5 L248.6,252.3 L250.7,252.2 L252.7,252.2 L254.8,252.3 L256.9,252.1 L259.0,251.9 L261.0,251.9 L263.1,252.0 L265.2,252.0 L267.2,251.8 L269.3,251.7 L271.4,251.8 L273.5,252.0 L275.5,251.8 L277.6,251.7 L279.7,251.7 L281.7,251.8 L283.8,251.9 L285.9,251.9 L287.9,251.8 L290.0,251.7 L292.1,251.8 L294.2,251.9 L296.2,252.2 L298.3,252.0 L300.4,251.9 L302.4,251.9 L304.5,252.0 L306.6,252.2 L308.7,252.5 L310.7,252.4 L312.8,252.3 L314.9,252.3 L316.9,252.4 L319.0,252.6 L321.1,252.8 L323.2,253.1 L325.2,253.0 L327.3,253.0 L329.4,253.0 L331.4,253.1 L333.5,253.3 L335.6,253.5 L337.6,253.8 L339.7,254.0 L341.8,254.0 L343.9,254.0 L345.9,254.1 L348.0,254.2" fill="none" stroke="#ff9896" stroke-width="1.1" stroke-linecap="butt" stroke-linejoin="round" clip-path="url(#cb)"/>
<path d="M39.2,466.7 L39.5,466.7 L39.9,466.7 L40.3,466.7 L40.7,466.7 L41.1,466.6 L41.5,466.6 L41.9,466.6 L42.3,466.5 L42.6,466.4 L43.0,466.3 L43.4,466.2 L43.8,466.1 L44.2,465.9 L44.6,465.8 L45.0,465.6 L45.4,465.3 L45.7,465.1 L46.1,464.8 L46.5,464.5 L46.9,464.1 L47.3,463.8 L47.7,463.4 L48.1,462.9 L48.5,462.5 L48.8,462.0 L49.2,461.5 L49.6,461.0 L50.0,460.4 L50.4,459.9 L50.8,459.3 L51.2,458.7 L51.6,458.1 L51.9,457.5 L52.3,456.9 L52.7,456.3 L53.1,455.7 L53.5,455.1 L53.9,454.5 L54.3,453.9 L54.7,453.3 L55.1,452.7 L55.4,452.1 L55.8,451.6 L56.2,451.0 L56.6,450.5 L57.0,449.9 L57.4,449.4 L57.8,448.9 L58.2,448.4 L58.5,447.7 L58.9,447.1 L59.3,446.4 L59.7,445.8 L60.1,445.2 L60.5,444.6 L60.9,444.0 L61.3,443.5 L61.6,443.0 L62.0,442.5 L62.4,442.0 L62.8,441.5 L63.2,441.1 L63.6,440.7 L64.0,440.4 L64.4,440.0 L64.7,439.7 L65.1,439.5 L65.5,439.2 L65.9,438.9 L66.3,438.7 L66.7,438.4 L67.1,438.2 L67.5,438.0 L67.8,437.8 L68.2,437.6 L68.6,437.4 L69.0,437.3 L69.4,437.1 L69.8,437.0 L70.2,436.8 L70.6,436.7 L70.9,436.6 L71.3,436.5 L71.7,436.4 L72.1,436.3 L72.5,436.2 L72.9,436.1 L73.3,436.0 L73.7,436.0 L74.0,435.9 L74.4,435.9 L74.8,435.8 L75.2,435.8 L75.6,435.7 L76.0,435.7 L76.4,435.7 L76.8,435.6 L77.1,435.6 L77.5,435.6 L77.9,435.6 L78.3,435.6 L78.7,435.5 L79.1,435.5 L79.5,435.5 L79.9,435.6 L80.3,435.6 L80.6,435.6 L81.0,435.6 L81.4,435.6 L81.8,435.6 L82.2,435.7 L82.6,435.7 L83.0,435.7 L83.4,435.8 L83.7,435.8 L84.1,435.8 L84.5,435.9 L84.9,435.9 L85.3,436.0 L85.7,436.0 L86.1,436.0 L86.5,436.1 L86.8,436.1 L87.2,436.2 L87.6,436.2 L88.0,436.2 L88.4,436.3 L88.8,436.3 L89.2,436.3 L89.6,436.4 L89.9,436.4 L90.3,436.5 L90.7,436.5 L91.1,436.6 L91.5,436.6 L91.9,436.6 L92.3,436.7 L92.7,436.7 L93.0,436.8 L93.4,436.8 L93.8,436.9 L94.2,436.9 L94.6,437.0 L95.0,437.0 L95.4,437.1 L95.8,437.1 L96.1,437.2 L96.5,437.2 L96.9,437.3 L97.3,437.4 L97.7,437.4 L98.1,437.5 L98.5,437.5 L98.9,437.6 L99.2,437.6 L99.6,437.7 L100.0,437.8 L100.4,437.8 L100.8,437.9 L101.6,438.0 L103.6,438.3 L105.7,438.7 L107.8,439.0 L109.9,439.4 L111.9,439.7 L114.0,440.1 L116.1,440.5 L118.1,440.9 L120.2,441.2 L122.3,441.6 L124.4,442.0 L126.4,442.4 L128.5,442.8 L130.6,443.1 L132.6,443.5 L134.7,443.9 L136.8,444.2 L138.8,444.6 L140.9,444.9 L143.0,445.2 L145.1,445.6 L147.1,445.9 L149.2,446.2 L151.3,446.5 L153.3,446.8 L155.4,447.1 L157.5,447.4 L159.6,447.7 L161.6,448.0 L163.7,448.3 L165.8,448.5 L167.8,448.8 L169.9,449.0 L172.0,449.3 L174.1,449.5 L176.1,449.7 L178.2,450.0 L180.3,450.2 L182.3,450.4 L184.4,450.6 L186.5,450.8 L188.5,451.0 L190.6,451.2 L192.7,451.4 L194.8,451.6 L196.8,451.7 L198.9,451.9 L201.0,452.1 L203.0,452.2 L205.1,452.4 L207.2,452.5 L209.3,452.7 L211.3,452.9 L213.4,453.0 L215.5,453.1 L217.5,453.3 L219.6,453.4 L221.7,453.6 L223.8,453.7 L225.8,453.8 L227.9,453.9 L230.0,454.0 L232.0,454.2 L234.1,454.3 L236.2,454.4 L238.2,454.5 L240.3,454.6 L242.4,454.6 L244.5,454.7 L246.5,454.8 L248.6,454.9 L250.7,455.0 L252.7,455.1 L254.8,455.2 L256.9,455.2 L259.0,455.3 L261.0,455.4 L263.1,455.5 L265.2,455.6 L267.2,455.6 L269.3,455.7 L271.4,455.8 L273.5,455.9 L275.5,456.0 L277.6,456.0 L279.7,456.1 L281.7,456.2 L283.8,456.3 L285.9,456.4 L287.9,456.5 L290.0,456.6 L292.1,456.7 L294.2,456.8 L296.2,456.9 L298.3,457.0 L300.4,457.1 L302.4,457.2 L304.5,457.3 L306.6,457.5 L308.7,457.6 L310.7,457.7 L312.8,457.9 L314.9,458.0 L316.9,458.2 L319.0,458.3 L321.1,458.5 L323.2,458.6 L325.2,458.8 L327.3,459.0 L329.4,459.2 L331.4,459.3 L333.5,459.5 L335.6,459.7 L337.6,460.0 L339.7,460.2 L341.8,460.4 L343.9,460.6 L345.9,460.9 L348.0,461.1" fill="none" stroke="#e8262a" stroke-width="1.4" stroke-dasharray="1.3,1.7" stroke-linecap="butt" stroke-linejoin="round" clip-path="url(#cb)"/>
<path d="M39.2,466.7 L39.5,466.7 L39.9,466.7 L40.3,466.6 L40.7,466.6 L41.1,466.5 L41.5,466.3 L41.9,466.1 L42.3,465.9 L42.6,465.6 L43.0,465.1 L43.4,464.6 L43.8,464.1 L44.2,463.4 L44.6,462.6 L45.0,461.7 L45.4,460.8 L45.7,459.7 L46.1,458.6 L46.5,457.4 L46.9,456.2 L47.3,454.9 L47.7,453.5 L48.1,452.2 L48.5,450.8 L48.8,449.4 L49.2,448.0 L49.6,446.7 L50.0,445.3 L50.4,443.9 L50.8,442.6 L51.2,441.3 L51.6,440.0 L51.9,438.7 L52.3,437.5 L52.7,436.3 L53.1,435.1 L53.5,434.0 L53.9,432.9 L54.3,431.8 L54.7,430.7 L55.1,429.7 L55.4,428.6 L55.8,427.6 L56.2,426.6 L56.6,425.7 L57.0,424.8 L57.4,423.9 L57.8,423.0 L58.2,422.2 L58.5,421.4 L58.9,420.6 L59.3,419.8 L59.7,419.1 L60.1,418.4 L60.5,417.7 L60.9,417.0 L61.3,416.3 L61.6,415.6 L62.0,415.0 L62.4,414.4 L62.8,413.8 L63.2,413.2 L63.6,412.6 L64.0,412.0 L64.4,411.5 L64.7,411.0 L65.1,410.5 L65.5,410.0 L65.9,409.5 L66.3,409.0 L66.7,408.6 L67.1,408.2 L67.5,407.8 L67.8,407.4 L68.2,407.0 L68.6,406.7 L69.0,406.3 L69.4,406.0 L69.8,405.7 L70.2,405.4 L70.6,405.2 L70.9,404.9 L71.3,404.7 L71.7,404.5 L72.1,404.3 L72.5,404.1 L72.9,403.9 L73.3,403.7 L73.7,403.5 L74.0,403.4 L74.4,403.2 L74.8,403.1 L75.2,402.9 L75.6,402.8 L76.0,402.7 L76.4,402.5 L76.8,402.4 L77.1,402.3 L77.5,402.1 L77.9,402.0 L78.3,401.9 L78.7,401.8 L79.1,401.7 L79.5,401.5 L79.9,401.4 L80.3,401.3 L80.6,401.1 L81.0,401.0 L81.4,400.8 L81.8,400.7 L82.2,400.5 L82.6,400.4 L83.0,400.2 L83.4,400.0 L83.7,399.9 L84.1,399.7 L84.5,399.5 L84.9,399.3 L85.3,399.2 L85.7,399.0 L86.1,398.8 L86.5,398.7 L86.8,398.5 L87.2,398.3 L87.6,398.2 L88.0,398.0 L88.4,397.8 L88.8,397.7 L89.2,397.5 L89.6,397.4 L89.9,397.2 L90.3,397.1 L90.7,396.9 L91.1,396.7 L91.5,396.6 L91.9,396.4 L92.3,396.3 L92.7,396.1 L93.0,396.0 L93.4,395.9 L93.8,395.7 L94.2,395.6 L94.6,395.4 L95.0,395.3 L95.4,395.2 L95.8,395.0 L96.1,394.9 L96.5,394.8 L96.9,394.7 L97.3,394.5 L97.7,394.4 L98.1,394.3 L98.5,394.2 L98.9,394.1 L99.2,394.0 L99.6,393.8 L100.0,393.7 L100.4,393.6 L100.8,393.5 L101.6,393.3 L103.6,392.7 L105.7,392.2 L107.8,391.7 L109.9,391.2 L111.9,390.7 L114.0,390.2 L116.1,389.7 L118.1,389.2 L120.2,388.8 L122.3,388.3 L124.4,387.9 L126.4,387.5 L128.5,387.0 L130.6,386.6 L132.6,386.2 L134.7,385.7 L136.8,385.3 L138.8,384.9 L140.9,384.4 L143.0,384.0 L145.1,383.5 L147.1,383.1 L149.2,382.6 L151.3,382.1 L153.3,381.6 L155.4,381.1 L157.5,380.6 L159.6,380.1 L161.6,379.5 L163.7,379.0 L165.8,378.5 L167.8,377.9 L169.9,377.3 L172.0,376.8 L174.1,376.2 L176.1,375.6 L178.2,375.0 L180.3,374.4 L182.3,373.7 L184.4,373.1 L186.5,372.4 L188.5,371.7 L190.6,371.1 L192.7,370.4 L194.8,369.7 L196.8,368.9 L198.9,368.2 L201.0,367.5 L203.0,366.7 L205.1,365.9 L207.2,365.1 L209.3,364.4 L211.3,363.5 L213.4,362.7 L215.5,361.9 L217.5,361.0 L219.6,360.2 L221.7,359.2 L223.8,358.4 L225.8,357.5 L227.9,356.5 L230.0,355.6 L232.0,354.6 L234.1,353.6 L236.2,352.7 L238.2,351.7 L240.3,350.6 L242.4,349.7 L244.5,348.8 L246.5,347.8 L248.6,346.8 L250.7,345.9 L252.7,344.9 L254.8,343.9 L256.9,342.9 L259.0,342.0 L261.0,340.9 L263.1,339.8 L265.2,338.7 L267.2,337.6 L269.3,336.3 L271.4,335.0 L273.5,333.7 L275.5,332.4 L277.6,331.0 L279.7,329.5 L281.7,328.0 L283.8,326.5 L285.9,325.1 L287.9,323.5 L290.0,321.9 L292.1,320.3 L294.2,318.8 L296.2,317.4 L298.3,315.9 L300.4,314.1 L302.4,312.4 L304.5,310.6 L306.6,308.9 L308.7,307.1 L310.7,305.0 L312.8,302.5 L314.9,299.9 L316.9,297.0 L319.0,294.2 L321.1,291.3 L323.2,288.5 L325.2,285.5 L327.3,282.9 L329.4,280.5 L331.4,278.2 L333.5,276.0 L335.6,273.8 L337.6,271.6 L339.7,269.1 L341.8,266.6 L343.9,264.0 L345.9,261.4 L348.0,258.8" fill="none" stroke="#d6d882" stroke-width="1.2" stroke-dasharray="1.2,2.1" stroke-linecap="butt" stroke-linejoin="round" clip-path="url(#cb)"/>
<path d="M39.2,466.7 L39.5,466.7 L39.9,466.7 L40.3,466.6 L40.7,466.6 L41.1,466.5 L41.5,466.3 L41.9,466.1 L42.3,465.9 L42.6,465.5 L43.0,465.1 L43.4,464.6 L43.8,464.0 L44.2,463.3 L44.6,462.5 L45.0,461.6 L45.4,460.6 L45.7,459.5 L46.1,458.3 L46.5,457.0 L46.9,455.6 L47.3,454.1 L47.7,452.6 L48.1,451.0 L48.5,449.4 L48.8,447.7 L49.2,446.1 L49.6,444.4 L50.0,442.7 L50.4,441.0 L50.8,439.3 L51.2,437.6 L51.6,435.9 L51.9,434.3 L52.3,432.7 L52.7,431.1 L53.1,429.5 L53.5,428.0 L53.9,426.5 L54.3,425.1 L54.7,423.7 L55.1,422.3 L55.4,421.0 L55.8,419.7 L56.2,418.4 L56.6,417.2 L57.0,416.0 L57.4,414.9 L57.8,413.8 L58.2,412.7 L58.5,411.7 L58.9,410.7 L59.3,409.7 L59.7,408.8 L60.1,407.9 L60.5,407.0 L60.9,406.2 L61.3,405.3 L61.6,404.6 L62.0,403.8 L62.4,403.1 L62.8,402.3 L63.2,401.7 L63.6,401.0 L64.0,400.3 L64.4,399.7 L64.7,399.0 L65.1,398.3 L65.5,397.6 L65.9,397.0 L66.3,396.3 L66.7,395.7 L67.1,395.1 L67.5,394.6 L67.8,394.0 L68.2,393.5 L68.6,392.9 L69.0,392.4 L69.4,391.9 L69.8,391.5 L70.2,391.0 L70.6,390.5 L70.9,390.1 L71.3,389.7 L71.7,389.2 L72.1,388.8 L72.5,388.4 L72.9,388.1 L73.3,387.7 L73.7,387.3 L74.0,387.0 L74.4,386.6 L74.8,386.3 L75.2,386.0 L75.6,385.7 L76.0,385.3 L76.4,385.0 L76.8,384.8 L77.1,384.5 L77.5,384.2 L77.9,383.9 L78.3,383.7 L78.7,383.4 L79.1,383.2 L79.5,382.9 L79.9,382.7 L80.3,382.5 L80.6,382.3 L81.0,382.1 L81.4,381.9 L81.8,381.7 L82.2,381.5 L82.6,381.3 L83.0,381.1 L83.4,380.9 L83.7,380.8 L84.1,380.6 L84.5,380.5 L84.9,380.3 L85.3,380.2 L85.7,380.1 L86.1,379.9 L86.5,379.8 L86.8,379.7 L87.2,379.6 L87.6,379.5 L88.0,379.4 L88.4,379.3 L88.8,379.2 L89.2,379.1 L89.6,379.0 L89.9,378.9 L90.3,378.8 L90.7,378.8 L91.1,378.7 L91.5,378.6 L91.9,378.5 L92.3,378.5 L92.7,378.4 L93.0,378.3 L93.4,378.3 L93.8,378.2 L94.2,378.1 L94.6,378.1 L95.0,378.0 L95.4,377.9 L95.8,377.9 L96.1,377.8 L96.5,377.7 L96.9,377.6 L97.3,377.6 L97.7,377.5 L98.1,377.4 L98.5,377.3 L98.9,377.3 L99.2,377.2 L99.6,377.1 L100.0,377.0 L100.4,377.0 L100.8,376.9 L101.6,376.8 L103.6,376.4 L105.7,376.1 L107.8,375.8 L109.9,375.5 L111.9,375.2 L114.0,374.9 L116.1,374.7 L118.1,374.4 L120.2,374.2 L122.3,373.9 L124.4,373.6 L126.4,373.4 L128.5,373.1 L130.6,372.9 L132.6,372.6 L134.7,372.3 L136.8,372.1 L138.8,371.8 L140.9,371.5 L143.0,371.2 L145.1,370.9 L147.1,370.6 L149.2,370.3 L151.3,370.0 L153.3,369.7 L155.4,369.4 L157.5,369.1 L159.6,368.7 L161.6,368.4 L163.7,368.1 L165.8,367.7 L167.8,367.4 L169.9,367.1 L172.0,366.7 L174.1,366.4 L176.1,366.0 L178.2,365.7 L180.3,365.3 L182.3,364.9 L184.4,364.6 L186.5,364.2 L188.5,363.8 L190.6,363.5 L192.7,363.1 L194.8,362.7 L196.8,362.3 L198.9,362.0 L201.0,361.6 L203.0,361.2 L205.1,360.9 L207.2,360.5 L209.3,360.1 L211.3,359.7 L213.4,359.3 L215.5,359.0 L217.5,358.6 L219.6,358.3 L221.7,357.9 L223.8,357.5 L225.8,357.1 L227.9,356.8 L230.0,356.4 L232.0,356.0 L234.1,355.7 L236.2,355.4 L238.2,355.0 L240.3,354.6 L242.4,354.3 L244.5,353.9 L246.5,353.6 L248.6,353.3 L250.7,352.9 L252.7,352.5 L254.8,352.2 L256.9,351.8 L259.0,351.5 L261.0,351.2 L263.1,350.8 L265.2,350.4 L267.2,350.0 L269.3,349.8 L271.4,349.3 L273.5,348.9 L275.5,348.6 L277.6,348.3 L279.7,347.9 L281.7,347.5 L283.8,347.1 L285.9,346.8 L287.9,346.4 L290.0,345.9 L292.1,345.6 L294.2,345.2 L296.2,344.9 L298.3,344.4 L300.4,344.0 L302.4,343.6 L304.5,343.2 L306.6,342.9 L308.7,342.4 L310.7,341.9 L312.8,341.5 L314.9,341.2 L316.9,340.8 L319.0,340.3 L321.1,339.8 L323.2,339.4 L325.2,338.9 L327.3,338.6 L329.4,338.2 L331.4,337.7 L333.5,337.1 L335.6,336.7 L337.6,336.2 L339.7,335.8 L341.8,335.4 L343.9,334.9 L345.9,334.3 L348.0,333.8" fill="none" stroke="#1de3f5" stroke-width="1.4" stroke-dasharray="1.3,1.7" stroke-linecap="butt" stroke-linejoin="round" clip-path="url(#cb)"/>
<path d="M39.2,466.7 L39.5,466.7 L39.9,466.7 L40.3,466.7 L40.7,466.7 L41.1,466.6 L41.5,466.6 L41.9,466.5 L42.3,466.5 L42.6,466.4 L43.0,466.3 L43.4,466.1 L43.8,466.0 L44.2,465.8 L44.6,465.6 L45.0,465.4 L45.4,465.1 L45.7,464.9 L46.1,464.6 L46.5,464.3 L46.9,463.9 L47.3,463.6 L47.7,463.3 L48.1,462.9 L48.5,462.6 L48.8,462.3 L49.2,462.0 L49.6,461.7 L50.0,461.4 L50.4,461.1 L50.8,460.8 L51.2,460.5 L51.6,460.2 L51.9,460.0 L52.3,459.7 L52.7,459.4 L53.1,459.2 L53.5,459.0 L53.9,458.7 L54.3,458.5 L54.7,458.3 L55.1,458.1 L55.4,457.9 L55.8,457.7 L56.2,457.5 L56.6,457.4 L57.0,457.2 L57.4,457.0 L57.8,456.9 L58.2,456.7 L58.5,456.6 L58.9,456.5 L59.3,456.3 L59.7,456.2 L60.1,456.1 L60.5,456.0 L60.9,455.9 L61.3,455.8 L61.6,455.7 L62.0,455.6 L62.4,455.5 L62.8,455.4 L63.2,455.3 L63.6,455.2 L64.0,455.2 L64.4,455.1 L64.7,455.0 L65.1,455.0 L65.5,454.9 L65.9,454.8 L66.3,454.8 L66.7,454.7 L67.1,454.7 L67.5,454.6 L67.8,454.5 L68.2,454.5 L68.6,454.4 L69.0,454.4 L69.4,454.4 L69.8,454.3 L70.2,454.3 L70.6,454.2 L70.9,454.2 L71.3,454.1 L71.7,454.1 L72.1,454.0 L72.5,454.0 L72.9,453.9 L73.3,453.9 L73.7,453.9 L74.0,453.8 L74.4,453.8 L74.8,453.7 L75.2,453.7 L75.6,453.6 L76.0,453.6 L76.4,453.6 L76.8,453.5 L77.1,453.5 L77.5,453.5 L77.9,453.4 L78.3,453.4 L78.7,453.3 L79.1,453.3 L79.5,453.3 L79.9,453.2 L80.3,453.2 L80.6,453.2 L81.0,453.2 L81.4,453.1 L81.8,453.1 L82.2,453.1 L82.6,453.0 L83.0,453.0 L83.4,453.0 L83.7,453.0 L84.1,453.0 L84.5,452.9 L84.9,452.9 L85.3,452.9 L85.7,452.9 L86.1,452.9 L86.5,452.9 L86.8,452.9 L87.2,452.9 L87.6,452.9 L88.0,452.9 L88.4,452.9 L88.8,452.9 L89.2,452.9 L89.6,452.9 L89.9,452.9 L90.3,452.9 L90.7,452.9 L91.1,452.9 L91.5,452.9 L91.9,452.9 L92.3,452.9 L92.7,452.9 L93.0,452.9 L93.4,452.9 L93.8,453.0 L94.2,453.0 L94.6,453.0 L95.0,453.0 L95.4,453.0 L95.8,453.0 L96.1,453.0 L96.5,453.1 L96.9,453.1 L97.3,453.1 L97.7,453.1 L98.1,453.1 L98.5,453.1 L98.9,453.2 L99.2,453.2 L99.6,453.2 L100.0,453.2 L100.4,453.2 L100.8,453.3 L101.6,453.3 L103.6,453.4 L105.7,453.5 L107.8,453.7 L109.9,453.8 L111.9,453.9 L114.0,454.0 L116.1,454.0 L118.1,454.1 L120.2,454.2 L122.3,454.2 L124.4,454.3 L126.4,454.4 L128.5,454.4 L130.6,454.5 L132.6,454.5 L134.7,454.6 L136.8,454.7 L138.8,454.7 L140.9,454.8 L143.0,454.8 L145.1,454.9 L147.1,455.0 L149.2,455.0 L151.3,455.1 L153.3,455.1 L155.4,455.2 L157.5,455.3 L159.6,455.3 L161.6,455.4 L163.7,455.4 L165.8,455.5 L167.8,455.6 L169.9,455.6 L172.0,455.7 L174.1,455.7 L176.1,455.8 L178.2,455.8 L180.3,455.9 L182.3,456.0 L184.4,456.0 L186.5,456.1 L188.5,456.1 L190.6,456.2 L192.7,456.2 L194.8,456.3 L196.8,456.4 L198.9,456.4 L201.0,456.5 L203.0,456.5 L205.1,456.6 L207.2,456.6 L209.3,456.7 L211.3,456.7 L213.4,456.8 L215.5,456.8 L217.5,456.9 L219.6,456.9 L221.7,457.0 L223.8,457.1 L225.8,457.1 L227.9,457.2 L230.0,457.2 L232.0,457.3 L234.1,457.3 L236.2,457.4 L238.2,457.4 L240.3,457.5 L242.4,457.5 L244.5,457.6 L246.5,457.6 L248.6,457.7 L250.7,457.8 L252.7,457.8 L254.8,457.9 L256.9,457.9 L259.0,458.0 L261.0,458.0 L263.1,458.1 L265.2,458.1 L267.2,458.2 L269.3,458.2 L271.4,458.3 L273.5,458.3 L275.5,458.4 L277.6,458.4 L279.7,458.4 L281.7,458.5 L283.8,458.5 L285.9,458.6 L287.9,458.6 L290.0,458.7 L292.1,458.7 L294.2,458.8 L296.2,458.8 L298.3,458.9 L300.4,458.9 L302.4,458.9 L304.5,459.0 L306.6,459.0 L308.7,459.1 L310.7,459.1 L312.8,459.1 L314.9,459.2 L316.9,459.2 L319.0,459.3 L321.1,459.3 L323.2,459.3 L325.2,459.4 L327.3,459.4 L329.4,459.5 L331.4,459.5 L333.5,459.5 L335.6,459.6 L337.6,459.6 L339.7,459.6 L341.8,459.7 L343.9,459.7 L345.9,459.8 L348.0,459.8" fill="none" stroke="#ffbb78" stroke-width="1.5" stroke-linecap="butt" stroke-linejoin="round" clip-path="url(#cb)"/>
<path d="M39.2,466.7 L39.5,466.7 L39.9,466.7 L40.3,466.6 L40.7,466.6 L41.1,466.5 L41.5,466.3 L41.9,466.2 L42.3,465.9 L42.6,465.6 L43.0,465.2 L43.4,464.7 L43.8,464.1 L44.2,463.5 L44.6,462.7 L45.0,461.8 L45.4,460.8 L45.7,459.7 L46.1,458.5 L46.5,457.2 L46.9,455.8 L47.3,454.3 L47.7,452.8 L48.1,451.2 L48.5,449.5 L48.8,447.8 L49.2,446.0 L49.6,444.2 L50.0,442.4 L50.4,440.6 L50.8,438.6 L51.2,436.7 L51.6,434.7 L51.9,432.7 L52.3,430.8 L52.7,428.9 L53.1,427.1 L53.5,425.3 L53.9,423.5 L54.3,421.8 L54.7,420.2 L55.1,418.6 L55.4,417.1 L55.8,415.6 L56.2,414.2 L56.6,412.8 L57.0,411.4 L57.4,410.1 L57.8,408.9 L58.2,407.7 L58.5,406.5 L58.9,405.3 L59.3,404.2 L59.7,403.1 L60.1,402.1 L60.5,401.1 L60.9,400.1 L61.3,399.1 L61.6,398.1 L62.0,397.2 L62.4,396.3 L62.8,395.5 L63.2,394.6 L63.6,393.8 L64.0,393.1 L64.4,392.3 L64.7,391.6 L65.1,390.8 L65.5,390.2 L65.9,389.5 L66.3,388.8 L66.7,388.2 L67.1,387.6 L67.5,387.0 L67.8,386.4 L68.2,385.8 L68.6,385.3 L69.0,384.8 L69.4,384.2 L69.8,383.7 L70.2,383.2 L70.6,382.8 L70.9,382.3 L71.3,381.8 L71.7,381.4 L72.1,380.9 L72.5,380.5 L72.9,380.1 L73.3,379.7 L73.7,379.3 L74.0,378.9 L74.4,378.5 L74.8,378.2 L75.2,377.8 L75.6,377.5 L76.0,377.1 L76.4,376.8 L76.8,376.5 L77.1,376.1 L77.5,375.8 L77.9,375.5 L78.3,375.2 L78.7,374.9 L79.1,374.6 L79.5,374.4 L79.9,374.1 L80.3,373.8 L80.6,373.6 L81.0,373.3 L81.4,373.0 L81.8,372.8 L82.2,372.6 L82.6,372.3 L83.0,372.1 L83.4,371.9 L83.7,371.6 L84.1,371.4 L84.5,371.2 L84.9,371.0 L85.3,370.8 L85.7,370.6 L86.1,370.4 L86.5,370.2 L86.8,370.0 L87.2,369.8 L87.6,369.6 L88.0,369.4 L88.4,369.3 L88.8,369.1 L89.2,368.9 L89.6,368.7 L89.9,368.6 L90.3,368.4 L90.7,368.3 L91.1,368.1 L91.5,367.9 L91.9,367.8 L92.3,367.6 L92.7,367.5 L93.0,367.3 L93.4,367.2 L93.8,367.1 L94.2,366.9 L94.6,366.8 L95.0,366.7 L95.4,366.5 L95.8,366.4 L96.1,366.3 L96.5,366.1 L96.9,366.0 L97.3,365.9 L97.7,365.8 L98.1,365.6 L98.5,365.5 L98.9,365.4 L99.2,365.3 L99.6,365.2 L100.0,365.1 L100.4,365.0 L100.8,364.9 L101.6,364.6 L103.6,364.1 L105.7,363.6 L107.8,363.1 L109.9,362.6 L111.9,362.1 L114.0,361.7 L116.1,361.3 L118.1,360.9 L120.2,360.5 L122.3,360.2 L124.4,359.8 L126.4,359.5 L128.5,359.2 L130.6,358.9 L132.6,358.7 L134.7,358.4 L136.8,358.2 L138.8,358.0 L140.9,357.8 L143.0,357.6 L145.1,357.4 L147.1,357.2 L149.2,357.1 L151.3,356.9 L153.3,356.8 L155.4,356.6 L157.5,356.5 L159.6,356.4 L161.6,356.2 L163.7,356.1 L165.8,356.0 L167.8,355.9 L169.9,355.8 L172.0,355.7 L174.1,355.6 L176.1,355.5 L178.2,355.4 L180.3,355.3 L182.3,355.2 L184.4,355.2 L186.5,355.1 L188.5,355.0 L190.6,354.9 L192.7,354.9 L194.8,354.8 L196.8,354.7 L198.9,354.7 L201.0,354.6 L203.0,354.5 L205.1,354.4 L207.2,354.4 L209.3,354.3 L211.3,354.3 L213.4,354.2 L215.5,354.2 L217.5,354.0 L219.6,354.0 L221.7,353.9 L223.8,353.9 L225.8,353.8 L227.9,353.7 L230.0,353.7 L232.0,353.6 L234.1,353.5 L236.2,353.5 L238.2,353.4 L240.3,353.3 L242.4,353.2 L244.5,353.1 L246.5,353.1 L248.6,353.0 L250.7,352.9 L252.7,352.9 L254.8,352.7 L256.9,352.6 L259.0,352.6 L261.0,352.5 L263.1,352.3 L265.2,352.3 L267.2,352.2 L269.3,352.1 L271.4,352.0 L273.5,351.9 L275.5,351.8 L277.6,351.7 L279.7,351.6 L281.7,351.6 L283.8,351.5 L285.9,351.3 L287.9,351.2 L290.0,351.2 L292.1,351.1 L294.2,351.0 L296.2,350.9 L298.3,350.8 L300.4,350.8 L302.4,350.6 L304.5,350.5 L306.6,350.4 L308.7,350.4 L310.7,350.3 L312.8,350.2 L314.9,350.1 L316.9,350.0 L319.0,349.9 L321.1,349.9 L323.2,349.8 L325.2,349.7 L327.3,349.6 L329.4,349.5 L331.4,349.5 L333.5,349.5 L335.6,349.4 L337.6,349.2 L339.7,349.2 L341.8,349.1 L343.9,349.1 L345.9,349.2 L348.0,349.0" fill="none" stroke="#1fb2cf" stroke-width="1.25" stroke-linecap="butt" stroke-linejoin="round" clip-path="url(#cb)"/>
<g clip-path="url(#cb)"><circle cx="53.99" cy="402.34" r="2.05" fill="#000"/><circle cx="69.99" cy="370.03" r="2.05" fill="#000"/><circle cx="84.81" cy="362.90" r="2.05" fill="#000"/><circle cx="100.80" cy="358.75" r="2.05" fill="#000"/><circle cx="116.25" cy="354.60" r="2.05" fill="#000"/><circle cx="131.64" cy="350.24" r="2.05" fill="#000"/><circle cx="161.98" cy="340.96" r="2.05" fill="#000"/><circle cx="192.88" cy="333.14" r="2.05" fill="#000"/></g>
<g font-family='"Liberation Sans", sans-serif' fill="#222">
<text x="36.50" y="470.10" font-size="9.08" text-anchor="end" textLength="5.25" lengthAdjust="spacingAndGlyphs">0</text>
<text x="36.50" y="435.50" font-size="9.08" text-anchor="end" textLength="5.25" lengthAdjust="spacingAndGlyphs">5</text>
<text x="36.50" y="400.90" font-size="9.08" text-anchor="end" textLength="10.50" lengthAdjust="spacingAndGlyphs">10</text>
<text x="36.50" y="366.30" font-size="9.08" text-anchor="end" textLength="10.50" lengthAdjust="spacingAndGlyphs">15</text>
<text x="36.50" y="331.70" font-size="9.08" text-anchor="end" textLength="10.50" lengthAdjust="spacingAndGlyphs">20</text>
<text x="36.50" y="297.10" font-size="9.08" text-anchor="end" textLength="10.50" lengthAdjust="spacingAndGlyphs">25</text>
<text x="36.50" y="262.50" font-size="9.08" text-anchor="end" textLength="10.50" lengthAdjust="spacingAndGlyphs">30</text>
<text x="39.00" y="482.80" font-size="9.08" text-anchor="middle" textLength="5.25" lengthAdjust="spacingAndGlyphs">0</text>
<text x="77.62" y="482.80" font-size="9.08" text-anchor="middle" textLength="15.75" lengthAdjust="spacingAndGlyphs">250</text>
<text x="116.25" y="482.80" font-size="9.08" text-anchor="middle" textLength="15.75" lengthAdjust="spacingAndGlyphs">500</text>
<text x="154.88" y="482.80" font-size="9.08" text-anchor="middle" textLength="15.75" lengthAdjust="spacingAndGlyphs">750</text>
<text x="193.50" y="482.80" font-size="9.08" text-anchor="middle" textLength="21.00" lengthAdjust="spacingAndGlyphs">1000</text>
<text x="232.12" y="482.80" font-size="9.08" text-anchor="middle" textLength="21.00" lengthAdjust="spacingAndGlyphs">1250</text>
<text x="270.75" y="482.80" font-size="9.08" text-anchor="middle" textLength="21.00" lengthAdjust="spacingAndGlyphs">1500</text>
<text x="309.38" y="482.80" font-size="9.08" text-anchor="middle" textLength="21.00" lengthAdjust="spacingAndGlyphs">1750</text>
<text x="348.00" y="482.80" font-size="9.08" text-anchor="middle" textLength="21.00" lengthAdjust="spacingAndGlyphs">2000</text>
<text x="193.50" y="492.90" font-size="9.45" text-anchor="middle" textLength="17.12" lengthAdjust="spacingAndGlyphs">T, K</text>
<g transform="translate(21.9,392.4) rotate(-90)"><text x="0" y="0" font-size="9.6" font-style="italic" textLength="6.2" lengthAdjust="spacingAndGlyphs">β</text><text x="7.2" y="0.6" font-size="10.5">,</text><text x="14.8" y="0" font-size="9.4" textLength="9.3" lengthAdjust="spacingAndGlyphs">10</text><text x="25.2" y="-4.0" font-size="6.2" textLength="7.2" lengthAdjust="spacingAndGlyphs">−6</text><text x="35.9" y="0" font-size="9.4" textLength="6.5" lengthAdjust="spacingAndGlyphs">K</text><text x="43.5" y="-4.0" font-size="6.2" textLength="6.5" lengthAdjust="spacingAndGlyphs">−1</text></g>
</g>
<text x="0" y="264.7" font-family='"Liberation Serif", serif' font-size="16.5" fill="#111" stroke="#111" stroke-width="0.35">(b)</text>
<rect x="42" y="262" width="165" height="52.69999999999999" fill="#fff" fill-opacity="0.7" stroke="#e4e4e4" stroke-width="0.8" rx="1.5"/>
<g font-family='"Liberation Sans", sans-serif' fill="#222">
<path d="M43.9,267.30 L57.2,267.30" fill="none" stroke="#1f6cb3" stroke-width="2.3" stroke-linecap="butt" stroke-linejoin="round"/>
<text x="61.10" y="269.50" font-size="6.60" text-anchor="start" textLength="45.25" lengthAdjust="spacingAndGlyphs">VASP 5.4 (LDA)</text>
<path d="M43.9,276.05 L57.2,276.05" fill="none" stroke="#17b4c8" stroke-width="2.3" stroke-linecap="butt" stroke-linejoin="round"/>
<text x="61.10" y="278.25" font-size="6.60" text-anchor="start" textLength="44.82" lengthAdjust="spacingAndGlyphs">VASP 5.4 (PBE)</text>
<path d="M43.9,284.80 L57.2,284.80" fill="none" stroke="#808080" stroke-width="1.2" stroke-dasharray="3.6,2.4" stroke-linecap="butt" stroke-linejoin="round"/>
<text x="61.10" y="287.00" font-size="6.60" text-anchor="start" textLength="25.57" lengthAdjust="spacingAndGlyphs">Cak (14)</text>
<path d="M43.9,293.55 L57.2,293.55" fill="none" stroke="#ff7f0e" stroke-width="1.3" stroke-dasharray="3.6,2.4" stroke-linecap="butt" stroke-linejoin="round"/>
<text x="61.10" y="295.75" font-size="6.60" text-anchor="start" textLength="23.04" lengthAdjust="spacingAndGlyphs">Lin (14)</text>
<path d="M43.9,302.30 L57.2,302.30" fill="none" stroke="#c2abd6" stroke-width="1.2" stroke-dasharray="4.2,1.6,1,1.6" stroke-linecap="butt" stroke-linejoin="round"/>
<text x="61.10" y="304.50" font-size="6.60" text-anchor="start" textLength="27.19" lengthAdjust="spacingAndGlyphs">Park (12)</text>
<path d="M43.9,311.05 L57.2,311.05" fill="none" stroke="#ff9896" stroke-width="1.1" stroke-linecap="butt" stroke-linejoin="round"/>
<text x="61.10" y="313.25" font-size="6.60" text-anchor="start" textLength="38.68" lengthAdjust="spacingAndGlyphs">Starikov (18)</text>
<path d="M118.4,267.30 L131.4,267.30" fill="none" stroke="#e8262a" stroke-width="1.4" stroke-dasharray="1.3,1.7" stroke-linecap="butt" stroke-linejoin="round"/>
<text x="135.90" y="269.50" font-size="6.60" text-anchor="start" textLength="45.38" lengthAdjust="spacingAndGlyphs">Derlet&#160; Mo (07)</text>
<path d="M118.4,276.05 L131.4,276.05" fill="none" stroke="#d6d882" stroke-width="1.2" stroke-dasharray="1.2,2.1" stroke-linecap="butt" stroke-linejoin="round"/>
<text x="135.90" y="278.25" font-size="6.60" text-anchor="start" textLength="42.61" lengthAdjust="spacingAndGlyphs">Smirnova (13)</text>
<path d="M118.4,284.80 L131.4,284.80" fill="none" stroke="#1de3f5" stroke-width="1.4" stroke-dasharray="1.3,1.7" stroke-linecap="butt" stroke-linejoin="round"/>
<text x="135.90" y="287.00" font-size="6.60" text-anchor="start" textLength="29.61" lengthAdjust="spacingAndGlyphs">Zhou (04)</text>
<path d="M118.4,293.55 L131.4,293.55" fill="none" stroke="#ffbb78" stroke-width="1.5" stroke-linecap="butt" stroke-linejoin="round"/>
<text x="135.90" y="295.75" font-size="6.60" text-anchor="start" textLength="65.07" lengthAdjust="spacingAndGlyphs">Finnis-Sinclair (84,87)</text>
<path d="M118.4,302.30 L131.4,302.30" fill="none" stroke="#1fb2cf" stroke-width="1.25" stroke-linecap="butt" stroke-linejoin="round"/>
<text x="135.90" y="304.50" font-size="6.60" text-anchor="start" textLength="69.48" lengthAdjust="spacingAndGlyphs">Girifalco Mo HighCutoff</text>
<circle cx="124.90" cy="311.05" r="2.0" fill="#000"/>
<text x="135.90" y="313.25" font-size="6.60" text-anchor="start" textLength="13.06" lengthAdjust="spacingAndGlyphs">Exp.</text>
</g>
<rect x="41" y="512.3" width="306.2" height="213.9000000000001" fill="none" stroke="#dedede" stroke-width="1"/>
<line x1="41" y1="690.36" x2="44" y2="690.36" stroke="#444" stroke-width="0.8"/>
<line x1="41" y1="654.74" x2="44" y2="654.74" stroke="#444" stroke-width="0.8"/>
<line x1="41" y1="619.12" x2="44" y2="619.12" stroke="#444" stroke-width="0.8"/>
<line x1="41" y1="583.51" x2="44" y2="583.51" stroke="#444" stroke-width="0.8"/>
<line x1="41" y1="547.89" x2="44" y2="547.89" stroke="#444" stroke-width="0.8"/>
<line x1="79.28" y1="723.2" x2="79.28" y2="726.2" stroke="#444" stroke-width="0.8"/>
<line x1="117.55" y1="723.2" x2="117.55" y2="726.2" stroke="#444" stroke-width="0.8"/>
<line x1="155.83" y1="723.2" x2="155.83" y2="726.2" stroke="#444" stroke-width="0.8"/>
<line x1="194.10" y1="723.2" x2="194.10" y2="726.2" stroke="#444" stroke-width="0.8"/>
<line x1="232.38" y1="723.2" x2="232.38" y2="726.2" stroke="#444" stroke-width="0.8"/>
<line x1="270.65" y1="723.2" x2="270.65" y2="726.2" stroke="#444" stroke-width="0.8"/>
<line x1="308.93" y1="723.2" x2="308.93" y2="726.2" stroke="#444" stroke-width="0.8"/>
<path d="M41.0,590.6 L42.5,590.7 L44.1,590.8 L45.6,590.9 L47.2,591.0 L48.7,591.2 L50.2,591.3 L51.8,591.4 L53.3,591.5 L54.8,591.6 L56.4,591.7 L57.9,591.9 L59.5,592.0 L61.0,592.1 L62.5,592.2 L64.1,592.3 L65.6,592.5 L67.2,592.6 L68.7,592.7 L70.2,592.9 L71.8,593.0 L73.3,593.1 L74.9,593.3 L76.4,593.4 L77.9,593.6 L79.5,593.7 L81.0,593.8 L82.5,594.0 L84.1,594.1 L85.6,594.3 L87.2,594.4 L88.7,594.6 L90.2,594.8 L91.8,594.9 L93.3,595.1 L94.9,595.2 L96.4,595.4 L97.9,595.6 L99.5,595.7 L101.0,595.9 L102.5,596.1 L104.1,596.2 L105.6,596.4 L107.2,596.6 L108.7,596.8 L110.2,596.9 L111.8,597.1 L113.3,597.3 L114.9,597.5 L116.4,597.7 L117.9,597.8 L119.5,598.0 L121.0,598.2 L122.6,598.4 L124.1,598.6 L125.6,598.8 L127.2,599.0 L128.7,599.2 L130.2,599.4 L131.8,599.6 L133.3,599.8 L134.9,600.0 L136.4,600.2 L137.9,600.4 L139.5,600.6 L141.0,600.8 L142.6,601.0 L144.1,601.3 L145.6,601.5 L147.2,601.7 L148.7,601.9 L150.2,602.1 L151.8,602.4 L153.3,602.6 L154.9,602.8 L156.4,603.0 L157.9,603.3 L159.5,603.5 L161.0,603.7 L162.6,604.0 L164.1,604.2 L165.6,604.4 L167.2,604.7 L168.7,604.9 L170.3,605.2 L171.8,605.4 L173.3,605.7 L174.9,605.9 L176.4,606.2 L177.9,606.4 L179.5,606.7 L181.0,606.9 L182.6,607.2 L184.1,607.4 L185.6,607.7 L187.2,608.0 L188.7,608.2 L190.3,608.5 L191.8,608.8 L193.3,609.0 L194.9,609.3 L196.4,609.6 L197.9,609.8 L199.5,610.1 L201.0,610.4 L202.6,610.7 L204.1,611.0 L205.6,611.2 L207.2,611.5 L208.7,611.8 L210.3,612.1 L211.8,612.4 L213.3,612.7 L214.9,613.0 L216.4,613.3 L217.9,613.6 L219.5,613.9 L221.0,614.2 L222.6,614.5 L224.1,614.8 L225.6,615.1 L227.2,615.4 L228.7,615.7 L230.3,616.0 L231.8,616.3 L233.3,616.6 L234.9,616.9 L236.4,617.3 L238.0,617.6 L239.5,617.9 L241.0,618.2 L242.6,618.5 L244.1,618.9 L245.6,619.2 L247.2,619.5 L248.7,619.8 L250.3,620.2 L251.8,620.5 L253.3,620.8 L254.9,621.2 L256.4,621.5 L258.0,621.9 L259.5,622.2 L261.0,622.5 L262.6,622.9 L264.1,623.2 L265.6,623.6 L267.2,623.9 L268.7,624.3 L270.3,624.6 L271.8,625.0 L273.3,625.4 L274.9,625.7 L276.4,626.1 L278.0,626.4 L279.5,626.8 L281.0,627.2 L282.6,627.5 L284.1,627.9 L285.7,628.3 L287.2,628.7 L288.7,629.0 L290.3,629.4 L291.8,629.8 L293.3,630.2 L294.9,630.5 L296.4,630.9 L298.0,631.3 L299.5,631.7 L301.0,632.1 L302.6,632.5 L304.1,632.9 L305.7,633.3 L307.2,633.6 L308.7,634.0 L310.3,634.4 L311.8,634.8 L313.3,635.2 L314.9,635.6 L316.4,636.1 L318.0,636.5 L319.5,636.9 L321.0,637.3 L322.6,637.7 L324.1,638.1 L325.7,638.5 L327.2,638.9 L328.7,639.4 L330.3,639.8 L331.8,640.2 L333.4,640.6 L334.9,641.0 L336.4,641.5 L338.0,641.9 L339.5,642.3 L341.0,642.8 L342.6,643.2 L344.1,643.6 L345.7,644.1 L347.2,644.5" fill="none" stroke="#1f6cb3" stroke-width="2.3" stroke-linecap="butt" stroke-linejoin="round" clip-path="url(#cc)"/>
<path d="M41.0,614.1 L42.5,614.2 L44.1,614.3 L45.6,614.5 L47.2,614.6 L48.7,614.7 L50.2,614.9 L51.8,615.0 L53.3,615.2 L54.8,615.3 L56.4,615.4 L57.9,615.6 L59.5,615.7 L61.0,615.8 L62.5,616.0 L64.1,616.1 L65.6,616.2 L67.2,616.4 L68.7,616.5 L70.2,616.6 L71.8,616.8 L73.3,616.9 L74.9,617.0 L76.4,617.2 L77.9,617.3 L79.5,617.5 L81.0,617.6 L82.5,617.7 L84.1,617.9 L85.6,618.0 L87.2,618.1 L88.7,618.3 L90.2,618.4 L91.8,618.5 L93.3,618.7 L94.9,618.8 L96.4,619.0 L97.9,619.1 L99.5,619.2 L101.0,619.4 L102.5,619.5 L104.1,619.6 L105.6,619.8 L107.2,619.9 L108.7,620.1 L110.2,620.2 L111.8,620.3 L113.3,620.5 L114.9,620.6 L116.4,620.7 L117.9,620.9 L119.5,621.0 L121.0,621.2 L122.6,621.3 L124.1,621.4 L125.6,621.6 L127.2,621.7 L128.7,621.9 L130.2,622.0 L131.8,622.1 L133.3,622.3 L134.9,622.4 L136.4,622.6 L137.9,622.7 L139.5,622.8 L141.0,623.0 L142.6,623.1 L144.1,623.2 L145.6,623.4 L147.2,623.5 L148.7,623.7 L150.2,623.8 L151.8,623.9 L153.3,624.1 L154.9,624.2 L156.4,624.4 L157.9,624.5 L159.5,624.6 L161.0,624.8 L162.6,624.9 L164.1,625.1 L165.6,625.2 L167.2,625.4 L168.7,625.5 L170.3,625.6 L171.8,625.8 L173.3,625.9 L174.9,626.1 L176.4,626.2 L177.9,626.3 L179.5,626.5 L181.0,626.6 L182.6,626.8 L184.1,626.9 L185.6,627.0 L187.2,627.2 L188.7,627.3 L190.3,627.5 L191.8,627.6 L193.3,627.8 L194.9,627.9 L196.4,628.0 L197.9,628.2 L199.5,628.3 L201.0,628.5 L202.6,628.6 L204.1,628.8 L205.6,628.9 L207.2,629.0 L208.7,629.2 L210.3,629.3 L211.8,629.5 L213.3,629.6 L214.9,629.8 L216.4,629.9 L217.9,630.0 L219.5,630.2 L221.0,630.3 L222.6,630.5 L224.1,630.6 L225.6,630.8 L227.2,630.9 L228.7,631.0 L230.3,631.2 L231.8,631.3 L233.3,631.5 L234.9,631.6 L236.4,631.8 L238.0,631.9 L239.5,632.1 L241.0,632.2 L242.6,632.3 L244.1,632.5 L245.6,632.6 L247.2,632.8 L248.7,632.9 L250.3,633.1 L251.8,633.2 L253.3,633.4 L254.9,633.5 L256.4,633.7 L258.0,633.8 L259.5,633.9 L261.0,634.1 L262.6,634.2 L264.1,634.4 L265.6,634.5 L267.2,634.7 L268.7,634.8 L270.3,635.0 L271.8,635.1 L273.3,635.3 L274.9,635.4 L276.4,635.6 L278.0,635.7 L279.5,635.8 L281.0,636.0 L282.6,636.1 L284.1,636.3 L285.7,636.4 L287.2,636.6 L288.7,636.7 L290.3,636.9 L291.8,637.0 L293.3,637.2 L294.9,637.3 L296.4,637.5 L298.0,637.6 L299.5,637.8 L301.0,637.9 L302.6,638.1 L304.1,638.2 L305.7,638.3 L307.2,638.5 L308.7,638.6 L310.3,638.8 L311.8,638.9 L313.3,639.1 L314.9,639.2 L316.4,639.4 L318.0,639.5 L319.5,639.7 L321.0,639.8 L322.6,640.0 L324.1,640.1 L325.7,640.3 L327.2,640.4 L328.7,640.6 L330.3,640.7 L331.8,640.9 L333.4,641.0 L334.9,641.2 L336.4,641.3 L338.0,641.5 L339.5,641.6 L341.0,641.8 L342.6,641.9 L344.1,642.1 L345.7,642.2 L347.2,642.4" fill="none" stroke="#17b4c8" stroke-width="2.3" stroke-linecap="butt" stroke-linejoin="round" clip-path="url(#cc)"/>
<path d="M41.0,619.6 L42.5,619.9 L44.1,620.1 L45.6,620.4 L47.2,620.7 L48.7,621.0 L50.2,621.2 L51.8,621.5 L53.3,621.8 L54.8,622.1 L56.4,622.4 L57.9,622.7 L59.5,623.0 L61.0,623.3 L62.5,623.6 L64.1,623.9 L65.6,624.3 L67.2,624.6 L68.7,624.9 L70.2,625.2 L71.8,625.6 L73.3,625.9 L74.9,626.2 L76.4,626.6 L77.9,626.9 L79.5,627.3 L81.0,627.6 L82.5,628.0 L84.1,628.3 L85.6,628.7 L87.2,629.0 L88.7,629.4 L90.2,629.8 L91.8,630.2 L93.3,630.5 L94.9,630.9 L96.4,631.3 L97.9,631.7 L99.5,632.1 L101.0,632.5 L102.5,632.9 L104.1,633.3 L105.6,633.7 L107.2,634.1 L108.7,634.5 L110.2,635.0 L111.8,635.4 L113.3,635.8 L114.9,636.3 L116.4,636.7 L117.9,637.1 L119.5,637.6 L121.0,638.0 L122.6,638.5 L124.1,638.9 L125.6,639.4 L127.2,639.8 L128.7,640.3 L130.2,640.8 L131.8,641.2 L133.3,641.7 L134.9,642.2 L136.4,642.7 L137.9,643.2 L139.5,643.7 L141.0,644.2 L142.6,644.7 L144.1,645.2 L145.6,645.7 L147.2,646.2 L148.7,646.7 L150.2,647.2 L151.8,647.7 L153.3,648.3 L154.9,648.8 L156.4,649.3 L157.9,649.9 L159.5,650.4 L161.0,651.0 L162.6,651.5 L164.1,652.1 L165.6,652.6 L167.2,653.2 L168.7,653.8 L170.3,654.3 L171.8,654.9 L173.3,655.5 L174.9,656.1 L176.4,656.6 L177.9,657.2 L179.5,657.8 L181.0,658.4 L182.6,659.0 L184.1,659.6 L185.6,660.2 L187.2,660.9 L188.7,661.5 L190.3,662.1 L191.8,662.7 L193.3,663.4 L194.9,664.0 L196.4,664.6 L197.9,665.3 L199.5,665.9 L201.0,666.6 L202.6,667.2 L204.1,667.9 L205.6,668.6 L207.2,669.2 L208.7,669.9 L210.3,670.6 L211.8,671.3 L213.3,671.9 L214.9,672.6 L216.4,673.3 L217.9,674.0 L219.5,674.7 L221.0,675.4 L222.6,676.1 L224.1,676.8 L225.6,677.6 L227.2,678.3 L228.7,679.0 L230.3,679.7 L231.8,680.5 L233.3,681.2 L234.9,682.0 L236.4,682.7 L238.0,683.5 L239.5,684.2 L241.0,685.0 L242.6,685.8 L244.1,686.5 L245.6,687.3 L247.2,688.1 L248.7,688.9 L250.3,689.6 L251.8,690.4 L253.3,691.2 L254.9,692.0 L256.4,692.8 L258.0,693.7 L259.5,694.5 L261.0,695.3 L262.6,696.1 L264.1,696.9 L265.6,697.8 L267.2,698.6 L268.7,699.4 L270.3,700.3 L271.8,701.1 L273.3,702.0 L274.9,702.9 L276.4,703.7 L278.0,704.6 L279.5,705.5 L281.0,706.3 L282.6,707.2 L284.1,708.1 L285.7,709.0 L287.2,709.9 L288.7,710.8 L290.3,711.7 L291.8,712.6 L293.3,713.5 L294.9,714.4 L296.4,715.4 L298.0,716.3 L299.5,717.2 L301.0,718.1 L302.6,719.1 L304.1,720.0 L305.7,721.0 L307.2,721.9 L308.7,722.9 L310.3,723.9 L311.8,724.8 L313.3,725.8 L314.9,726.8 L316.4,727.8 L318.0,728.7 L319.5,729.7 L321.0,730.7 L322.6,731.7 L324.1,732.7 L325.7,733.8 L327.2,734.8 L328.7,735.8 L330.3,736.8 L331.8,737.8 L333.4,738.9 L334.9,739.9 L336.4,741.0 L338.0,742.0 L339.5,743.1 L341.0,744.1 L342.6,745.2 L344.1,746.3 L345.7,747.3 L347.2,748.4" fill="none" stroke="#808080" stroke-width="1.2" stroke-dasharray="3.6,2.4" stroke-linecap="butt" stroke-linejoin="round" clip-path="url(#cc)"/>
<path d="M41.0,602.1 L42.5,602.2 L44.1,602.3 L45.6,602.4 L47.2,602.5 L48.7,602.6 L50.2,602.7 L51.8,602.8 L53.3,602.9 L54.8,603.0 L56.4,603.1 L57.9,603.2 L59.5,603.3 L61.0,603.4 L62.5,603.5 L64.1,603.6 L65.6,603.7 L67.2,603.8 L68.7,603.9 L70.2,604.0 L71.8,604.1 L73.3,604.2 L74.9,604.3 L76.4,604.4 L77.9,604.5 L79.5,604.6 L81.0,604.7 L82.5,604.8 L84.1,604.9 L85.6,605.0 L87.2,605.2 L88.7,605.3 L90.2,605.4 L91.8,605.5 L93.3,605.6 L94.9,605.7 L96.4,605.8 L97.9,605.9 L99.5,606.0 L101.0,606.1 L102.5,606.2 L104.1,606.3 L105.6,606.4 L107.2,606.5 L108.7,606.7 L110.2,606.8 L111.8,606.9 L113.3,607.0 L114.9,607.1 L116.4,607.2 L117.9,607.3 L119.5,607.4 L121.0,607.5 L122.6,607.6 L124.1,607.8 L125.6,607.9 L127.2,608.0 L128.7,608.1 L130.2,608.2 L131.8,608.3 L133.3,608.4 L134.9,608.6 L136.4,608.7 L137.9,608.8 L139.5,608.9 L141.0,609.0 L142.6,609.1 L144.1,609.2 L145.6,609.4 L147.2,609.5 L148.7,609.6 L150.2,609.7 L151.8,609.8 L153.3,609.9 L154.9,610.1 L156.4,610.2 L157.9,610.3 L159.5,610.4 L161.0,610.5 L162.6,610.7 L164.1,610.8 L165.6,610.9 L167.2,611.0 L168.7,611.1 L170.3,611.3 L171.8,611.4 L173.3,611.5 L174.9,611.6 L176.4,611.7 L177.9,611.9 L179.5,612.0 L181.0,612.1 L182.6,612.2 L184.1,612.4 L185.6,612.5 L187.2,612.6 L188.7,612.7 L190.3,612.9 L191.8,613.0 L193.3,613.1 L194.9,613.2 L196.4,613.4 L197.9,613.5 L199.5,613.6 L201.0,613.7 L202.6,613.9 L204.1,614.0 L205.6,614.1 L207.2,614.2 L208.7,614.4 L210.3,614.5 L211.8,614.6 L213.3,614.8 L214.9,614.9 L216.4,615.0 L217.9,615.1 L219.5,615.3 L221.0,615.4 L222.6,615.5 L224.1,615.7 L225.6,615.8 L227.2,615.9 L228.7,616.1 L230.3,616.2 L231.8,616.3 L233.3,616.5 L234.9,616.6 L236.4,616.7 L238.0,616.9 L239.5,617.0 L241.0,617.1 L242.6,617.3 L244.1,617.4 L245.6,617.5 L247.2,617.7 L248.7,617.8 L250.3,617.9 L251.8,618.1 L253.3,618.2 L254.9,618.4 L256.4,618.5 L258.0,618.6 L259.5,618.8 L261.0,618.9 L262.6,619.0 L264.1,619.2 L265.6,619.3 L267.2,619.5 L268.7,619.6 L270.3,619.7 L271.8,619.9 L273.3,620.0 L274.9,620.2 L276.4,620.3 L278.0,620.5 L279.5,620.6 L281.0,620.7 L282.6,620.9 L284.1,621.0 L285.7,621.2 L287.2,621.3 L288.7,621.5 L290.3,621.6 L291.8,621.7 L293.3,621.9 L294.9,622.0 L296.4,622.2 L298.0,622.3 L299.5,622.5 L301.0,622.6 L302.6,622.8 L304.1,622.9 L305.7,623.0 L307.2,623.2 L308.7,623.3 L310.3,623.5 L311.8,623.6 L313.3,623.8 L314.9,623.9 L316.4,624.1 L318.0,624.2 L319.5,624.4 L321.0,624.5 L322.6,624.7 L324.1,624.8 L325.7,625.0 L327.2,625.1 L328.7,625.3 L330.3,625.4 L331.8,625.6 L333.4,625.7 L334.9,625.9 L336.4,626.0 L338.0,626.2 L339.5,626.4 L341.0,626.5 L342.6,626.7 L344.1,626.8 L345.7,627.0 L347.2,627.1" fill="none" stroke="#ff7f0e" stroke-width="1.3" stroke-dasharray="3.6,2.4" stroke-linecap="butt" stroke-linejoin="round" clip-path="url(#cc)"/>
<path d="M41.0,617.4 L42.5,617.5 L44.1,617.6 L45.6,617.7 L47.2,617.8 L48.7,617.9 L50.2,618.0 L51.8,618.0 L53.3,618.1 L54.8,618.2 L56.4,618.3 L57.9,618.4 L59.5,618.5 L61.0,618.6 L62.5,618.7 L64.1,618.8 L65.6,618.9 L67.2,619.0 L68.7,619.1 L70.2,619.2 L71.8,619.3 L73.3,619.4 L74.9,619.5 L76.4,619.6 L77.9,619.7 L79.5,619.8 L81.0,619.9 L82.5,620.0 L84.1,620.1 L85.6,620.3 L87.2,620.4 L88.7,620.5 L90.2,620.6 L91.8,620.7 L93.3,620.8 L94.9,620.9 L96.4,621.0 L97.9,621.1 L99.5,621.2 L101.0,621.3 L102.5,621.4 L104.1,621.5 L105.6,621.6 L107.2,621.8 L108.7,621.9 L110.2,622.0 L111.8,622.1 L113.3,622.2 L114.9,622.3 L116.4,622.4 L117.9,622.5 L119.5,622.6 L121.0,622.8 L122.6,622.9 L124.1,623.0 L125.6,623.1 L127.2,623.2 L128.7,623.3 L130.2,623.4 L131.8,623.6 L133.3,623.7 L134.9,623.8 L136.4,623.9 L137.9,624.0 L139.5,624.1 L141.0,624.3 L142.6,624.4 L144.1,624.5 L145.6,624.6 L147.2,624.7 L148.7,624.9 L150.2,625.0 L151.8,625.1 L153.3,625.2 L154.9,625.3 L156.4,625.5 L157.9,625.6 L159.5,625.7 L161.0,625.8 L162.6,625.9 L164.1,626.1 L165.6,626.2 L167.2,626.3 L168.7,626.4 L170.3,626.6 L171.8,626.7 L173.3,626.8 L174.9,626.9 L176.4,627.1 L177.9,627.2 L179.5,627.3 L181.0,627.5 L182.6,627.6 L184.1,627.7 L185.6,627.8 L187.2,628.0 L188.7,628.1 L190.3,628.2 L191.8,628.4 L193.3,628.5 L194.9,628.6 L196.4,628.8 L197.9,628.9 L199.5,629.0 L201.0,629.2 L202.6,629.3 L204.1,629.4 L205.6,629.6 L207.2,629.7 L208.7,629.8 L210.3,630.0 L211.8,630.1 L213.3,630.2 L214.9,630.4 L216.4,630.5 L217.9,630.6 L219.5,630.8 L221.0,630.9 L222.6,631.1 L224.1,631.2 L225.6,631.3 L227.2,631.5 L228.7,631.6 L230.3,631.7 L231.8,631.9 L233.3,632.0 L234.9,632.2 L236.4,632.3 L238.0,632.5 L239.5,632.6 L241.0,632.7 L242.6,632.9 L244.1,633.0 L245.6,633.2 L247.2,633.3 L248.7,633.5 L250.3,633.6 L251.8,633.7 L253.3,633.9 L254.9,634.0 L256.4,634.2 L258.0,634.3 L259.5,634.5 L261.0,634.6 L262.6,634.8 L264.1,634.9 L265.6,635.1 L267.2,635.2 L268.7,635.4 L270.3,635.5 L271.8,635.7 L273.3,635.8 L274.9,636.0 L276.4,636.1 L278.0,636.3 L279.5,636.4 L281.0,636.6 L282.6,636.7 L284.1,636.9 L285.7,637.0 L287.2,637.2 L288.7,637.4 L290.3,637.5 L291.8,637.7 L293.3,637.8 L294.9,638.0 L296.4,638.1 L298.0,638.3 L299.5,638.4 L301.0,638.6 L302.6,638.8 L304.1,638.9 L305.7,639.1 L307.2,639.2 L308.7,639.4 L310.3,639.6 L311.8,639.7 L313.3,639.9 L314.9,640.0 L316.4,640.2 L318.0,640.4 L319.5,640.5 L321.0,640.7 L322.6,640.8 L324.1,641.0 L325.7,641.2 L327.2,641.3 L328.7,641.5 L330.3,641.7 L331.8,641.8 L333.4,642.0 L334.9,642.2 L336.4,642.3 L338.0,642.5 L339.5,642.7 L341.0,642.8 L342.6,643.0 L344.1,643.2 L345.7,643.3 L347.2,643.5" fill="none" stroke="#c2abd6" stroke-width="1.2" stroke-dasharray="4.2,1.6,1,1.6" stroke-linecap="butt" stroke-linejoin="round" clip-path="url(#cc)"/>
<path d="M41.0,590.1 L42.5,590.2 L44.1,590.3 L45.6,590.5 L47.2,590.6 L48.7,590.8 L50.2,591.0 L51.8,591.1 L53.3,591.3 L54.8,591.4 L56.4,591.6 L57.9,591.8 L59.5,591.9 L61.0,592.1 L62.5,592.3 L64.1,592.4 L65.6,592.6 L67.2,592.8 L68.7,593.0 L70.2,593.2 L71.8,593.3 L73.3,593.5 L74.9,593.7 L76.4,593.9 L77.9,594.1 L79.5,594.3 L81.0,594.5 L82.5,594.7 L84.1,594.9 L85.6,595.1 L87.2,595.3 L88.7,595.5 L90.2,595.7 L91.8,595.9 L93.3,596.1 L94.9,596.3 L96.4,596.5 L97.9,596.7 L99.5,597.0 L101.0,597.2 L102.5,597.4 L104.1,597.6 L105.6,597.8 L107.2,598.1 L108.7,598.3 L110.2,598.5 L111.8,598.8 L113.3,599.0 L114.9,599.2 L116.4,599.5 L117.9,599.7 L119.5,599.9 L121.0,600.2 L122.6,600.4 L124.1,600.7 L125.6,600.9 L127.2,601.2 L128.7,601.4 L130.2,601.7 L131.8,601.9 L133.3,602.2 L134.9,602.5 L136.4,602.7 L137.9,603.0 L139.5,603.3 L141.0,603.5 L142.6,603.8 L144.1,604.1 L145.6,604.3 L147.2,604.6 L148.7,604.9 L150.2,605.2 L151.8,605.4 L153.3,605.7 L154.9,606.0 L156.4,606.3 L157.9,606.6 L159.5,606.9 L161.0,607.2 L162.6,607.5 L164.1,607.8 L165.6,608.1 L167.2,608.4 L168.7,608.7 L170.3,609.0 L171.8,609.3 L173.3,609.6 L174.9,609.9 L176.4,610.2 L177.9,610.5 L179.5,610.8 L181.0,611.1 L182.6,611.5 L184.1,611.8 L185.6,612.1 L187.2,612.4 L188.7,612.8 L190.3,613.1 L191.8,613.4 L193.3,613.8 L194.9,614.1 L196.4,614.4 L197.9,614.8 L199.5,615.1 L201.0,615.4 L202.6,615.8 L204.1,616.1 L205.6,616.5 L207.2,616.8 L208.7,617.2 L210.3,617.5 L211.8,617.9 L213.3,618.2 L214.9,618.6 L216.4,619.0 L217.9,619.3 L219.5,619.7 L221.0,620.1 L222.6,620.4 L224.1,620.8 L225.6,621.2 L227.2,621.5 L228.7,621.9 L230.3,622.3 L231.8,622.7 L233.3,623.1 L234.9,623.4 L236.4,623.8 L238.0,624.2 L239.5,624.6 L241.0,625.0 L242.6,625.4 L244.1,625.8 L245.6,626.2 L247.2,626.6 L248.7,627.0 L250.3,627.4 L251.8,627.8 L253.3,628.2 L254.9,628.6 L256.4,629.0 L258.0,629.4 L259.5,629.8 L261.0,630.3 L262.6,630.7 L264.1,631.1 L265.6,631.5 L267.2,631.9 L268.7,632.4 L270.3,632.8 L271.8,633.2 L273.3,633.7 L274.9,634.1 L276.4,634.5 L278.0,635.0 L279.5,635.4 L281.0,635.8 L282.6,636.3 L284.1,636.7 L285.7,637.2 L287.2,637.6 L288.7,638.1 L290.3,638.5 L291.8,639.0 L293.3,639.4 L294.9,639.9 L296.4,640.4 L298.0,640.8 L299.5,641.3 L301.0,641.7 L302.6,642.2 L304.1,642.7 L305.7,643.1 L307.2,643.6 L308.7,644.1 L310.3,644.6 L311.8,645.0 L313.3,645.5 L314.9,646.0 L316.4,646.5 L318.0,647.0 L319.5,647.5 L321.0,648.0 L322.6,648.5 L324.1,648.9 L325.7,649.4 L327.2,649.9 L328.7,650.4 L330.3,650.9 L331.8,651.4 L333.4,651.9 L334.9,652.5 L336.4,653.0 L338.0,653.5 L339.5,654.0 L341.0,654.5 L342.6,655.0 L344.1,655.5 L345.7,656.1 L347.2,656.6" fill="none" stroke="#ff9896" stroke-width="1.1" stroke-linecap="butt" stroke-linejoin="round" clip-path="url(#cc)"/>
<path d="M41.0,557.5 L41.5,557.5 L42.1,557.5 L42.6,557.5 L43.2,557.5 L43.7,557.5 L44.2,557.4 L44.8,557.4 L45.3,557.4 L45.9,557.3 L46.4,557.3 L46.9,557.3 L47.5,557.2 L48.0,557.2 L48.6,557.1 L49.1,557.1 L49.6,557.0 L50.2,556.9 L50.7,556.8 L51.3,556.7 L51.8,556.5 L52.3,556.3 L52.9,556.1 L53.4,555.8 L54.0,555.5 L54.5,555.3 L55.0,555.0 L55.6,554.7 L56.1,554.4 L56.7,554.0 L57.2,553.7 L57.8,553.3 L58.3,552.9 L58.8,552.5 L59.4,552.1 L59.9,551.7 L60.5,551.3 L61.0,550.9 L61.5,550.5 L62.1,550.1 L62.6,549.6 L63.2,549.2 L63.7,548.7 L64.2,548.3 L64.8,547.8 L65.3,547.4 L65.9,547.0 L66.4,546.6 L66.9,546.2 L67.5,545.8 L68.0,545.5 L68.6,545.0 L69.1,544.6 L69.6,544.1 L70.2,543.6 L70.7,543.1 L71.3,542.5 L71.8,541.9 L72.3,541.3 L72.9,540.7 L73.4,540.1 L74.0,539.5 L74.5,538.9 L75.0,538.3 L75.6,537.8 L76.1,537.3 L76.7,536.8 L77.2,536.4 L77.7,536.0 L78.3,535.7 L78.8,535.3 L79.4,534.9 L79.9,534.4 L80.4,533.9 L81.0,533.4 L81.5,532.8 L82.1,532.3 L82.6,531.7 L83.1,531.1 L83.7,530.5 L84.2,529.9 L84.8,529.3 L85.3,528.6 L85.8,528.0 L86.4,527.4 L86.9,526.7 L87.5,526.1 L88.0,525.5 L88.6,524.9 L89.1,524.3 L89.6,523.7 L90.2,523.1 L90.7,522.4 L91.3,521.8 L91.8,521.2 L92.3,520.6 L92.9,519.9 L93.4,519.3 L94.0,518.7 L94.5,518.0 L95.0,517.4 L95.6,516.7 L96.1,516.1 L96.7,515.5 L97.2,514.8 L97.7,514.2 L98.3,513.5 L98.8,512.9 L99.4,512.3 L99.9,511.6 L100.4,511.0 L101.0,510.3 L101.5,509.7 L102.1,509.1 L102.6,508.4 L103.1,507.8 L103.7,507.1 L104.2,506.5 L104.8,505.8 L105.3,505.2" fill="none" stroke="#e8262a" stroke-width="1.4" stroke-dasharray="1.3,1.7" stroke-linecap="butt" stroke-linejoin="round" clip-path="url(#cc)"/>
<path d="M41.0,557.2 L42.5,557.0 L44.1,556.9 L45.6,556.8 L47.2,556.7 L48.7,556.7 L50.2,556.7 L51.8,556.7 L53.3,556.7 L54.8,556.8 L56.4,556.9 L57.9,557.1 L59.5,557.4 L61.0,557.7 L62.5,558.0 L64.1,558.4 L65.6,558.8 L67.2,559.2 L68.7,559.7 L70.2,560.2 L71.8,560.7 L73.3,561.2 L74.9,561.8 L76.4,562.3 L77.9,562.8 L79.5,563.3 L81.0,563.9 L82.5,564.5 L84.1,565.1 L85.6,565.7 L87.2,566.3 L88.7,566.9 L90.2,567.5 L91.8,568.1 L93.3,568.6 L94.9,569.1 L96.4,569.6 L97.9,570.1 L99.5,570.5 L101.0,570.9 L102.5,571.3 L104.1,571.7 L105.6,572.1 L107.2,572.4 L108.7,572.8 L110.2,573.1 L111.8,573.5 L113.3,573.9 L114.9,574.2 L116.4,574.6 L117.9,575.0 L119.5,575.4 L121.0,575.8 L122.6,576.2 L124.1,576.7 L125.6,577.1 L127.2,577.5 L128.7,578.0 L130.2,578.4 L131.8,578.9 L133.3,579.3 L134.9,579.8 L136.4,580.3 L137.9,580.7 L139.5,581.2 L141.0,581.7 L142.6,582.2 L144.1,582.6 L145.6,583.1 L147.2,583.6 L148.7,584.1 L150.2,584.6 L151.8,585.0 L153.3,585.5 L154.9,586.0 L156.4,586.5 L157.9,587.0 L159.5,587.4 L161.0,587.9 L162.6,588.4 L164.1,588.9 L165.6,589.4 L167.2,589.9 L168.7,590.4 L170.3,590.9 L171.8,591.3 L173.3,591.8 L174.9,592.3 L176.4,592.8 L177.9,593.3 L179.5,593.8 L181.0,594.3 L182.6,594.8 L184.1,595.3 L185.6,595.9 L187.2,596.4 L188.7,596.9 L190.3,597.4 L191.8,597.9 L193.3,598.4 L194.9,599.0 L196.4,599.5 L197.9,600.0 L199.5,600.6 L201.0,601.1 L202.6,601.7 L204.1,602.2 L205.6,602.8 L207.2,603.3 L208.7,603.9 L210.3,604.4 L211.8,605.0 L213.3,605.6 L214.9,606.1 L216.4,606.7 L217.9,607.3 L219.5,607.9 L221.0,608.5 L222.6,609.1 L224.1,609.7 L225.6,610.3 L227.2,610.9 L228.7,611.5 L230.3,612.1 L231.8,612.8 L233.3,613.4 L234.9,614.0 L236.4,614.7 L238.0,615.3 L239.5,616.0 L241.0,616.6 L242.6,617.3 L244.1,618.0 L245.6,618.7 L247.2,619.4 L248.7,620.1 L250.3,620.8 L251.8,621.5 L253.3,622.2 L254.9,622.9 L256.4,623.6 L258.0,624.4 L259.5,625.1 L261.0,625.8 L262.6,626.6 L264.1,627.3 L265.6,628.1 L267.2,628.9 L268.7,629.6 L270.3,630.4 L271.8,631.2 L273.3,632.0 L274.9,632.8 L276.4,633.6 L278.0,634.4 L279.5,635.2 L281.0,636.0 L282.6,636.8 L284.1,637.7 L285.7,638.5 L287.2,639.4 L288.7,640.2 L290.3,641.0 L291.8,641.9 L293.3,642.8 L294.9,643.6 L296.4,644.5 L298.0,645.4 L299.5,646.3 L301.0,647.1 L302.6,648.0 L304.1,648.9 L305.7,649.8 L307.2,650.7 L308.7,651.7 L310.3,652.6 L311.8,653.5 L313.3,654.4 L314.9,655.3 L316.4,656.3 L318.0,657.2 L319.5,658.2 L321.0,659.1 L322.6,660.1 L324.1,661.0 L325.7,662.0 L327.2,663.0 L328.7,663.9 L330.3,664.9 L331.8,665.9 L333.4,666.9 L334.9,667.8 L336.4,668.8 L338.0,669.8 L339.5,670.8 L341.0,671.8 L342.6,672.8 L344.1,673.9 L345.7,674.9 L347.2,675.9" fill="none" stroke="#d6d882" stroke-width="1.2" stroke-dasharray="1.2,2.1" stroke-linecap="butt" stroke-linejoin="round" clip-path="url(#cc)"/>
<path d="M41.0,615.1 L42.5,615.2 L44.1,615.4 L45.6,615.5 L47.2,615.7 L48.7,615.8 L50.2,616.0 L51.8,616.2 L53.3,616.3 L54.8,616.5 L56.4,616.7 L57.9,616.8 L59.5,617.0 L61.0,617.1 L62.5,617.3 L64.1,617.5 L65.6,617.6 L67.2,617.8 L68.7,618.0 L70.2,618.1 L71.8,618.3 L73.3,618.5 L74.9,618.7 L76.4,618.8 L77.9,619.0 L79.5,619.2 L81.0,619.3 L82.5,619.5 L84.1,619.7 L85.6,619.9 L87.2,620.0 L88.7,620.2 L90.2,620.4 L91.8,620.6 L93.3,620.8 L94.9,620.9 L96.4,621.1 L97.9,621.3 L99.5,621.5 L101.0,621.7 L102.5,621.8 L104.1,622.0 L105.6,622.2 L107.2,622.4 L108.7,622.6 L110.2,622.8 L111.8,623.0 L113.3,623.1 L114.9,623.3 L116.4,623.5 L117.9,623.7 L119.5,623.9 L121.0,624.1 L122.6,624.3 L124.1,624.5 L125.6,624.7 L127.2,624.9 L128.7,625.0 L130.2,625.2 L131.8,625.4 L133.3,625.6 L134.9,625.8 L136.4,626.0 L137.9,626.2 L139.5,626.4 L141.0,626.6 L142.6,626.8 L144.1,627.0 L145.6,627.2 L147.2,627.4 L148.7,627.6 L150.2,627.8 L151.8,628.0 L153.3,628.2 L154.9,628.4 L156.4,628.7 L157.9,628.9 L159.5,629.1 L161.0,629.3 L162.6,629.5 L164.1,629.7 L165.6,629.9 L167.2,630.1 L168.7,630.3 L170.3,630.5 L171.8,630.7 L173.3,631.0 L174.9,631.2 L176.4,631.4 L177.9,631.6 L179.5,631.8 L181.0,632.0 L182.6,632.3 L184.1,632.5 L185.6,632.7 L187.2,632.9 L188.7,633.1 L190.3,633.4 L191.8,633.6 L193.3,633.8 L194.9,634.0 L196.4,634.2 L197.9,634.5 L199.5,634.7 L201.0,634.9 L202.6,635.1 L204.1,635.4 L205.6,635.6 L207.2,635.8 L208.7,636.0 L210.3,636.3 L211.8,636.5 L213.3,636.7 L214.9,637.0 L216.4,637.2 L217.9,637.4 L219.5,637.7 L221.0,637.9 L222.6,638.1 L224.1,638.4 L225.6,638.6 L227.2,638.8 L228.7,639.1 L230.3,639.3 L231.8,639.6 L233.3,639.8 L234.9,640.0 L236.4,640.3 L238.0,640.5 L239.5,640.8 L241.0,641.0 L242.6,641.2 L244.1,641.5 L245.6,641.7 L247.2,642.0 L248.7,642.2 L250.3,642.5 L251.8,642.7 L253.3,643.0 L254.9,643.2 L256.4,643.5 L258.0,643.7 L259.5,644.0 L261.0,644.2 L262.6,644.5 L264.1,644.7 L265.6,645.0 L267.2,645.2 L268.7,645.5 L270.3,645.7 L271.8,646.0 L273.3,646.3 L274.9,646.5 L276.4,646.8 L278.0,647.0 L279.5,647.3 L281.0,647.5 L282.6,647.8 L284.1,648.1 L285.7,648.3 L287.2,648.6 L288.7,648.9 L290.3,649.1 L291.8,649.4 L293.3,649.6 L294.9,649.9 L296.4,650.2 L298.0,650.4 L299.5,650.7 L301.0,651.0 L302.6,651.3 L304.1,651.5 L305.7,651.8 L307.2,652.1 L308.7,652.3 L310.3,652.6 L311.8,652.9 L313.3,653.2 L314.9,653.4 L316.4,653.7 L318.0,654.0 L319.5,654.3 L321.0,654.5 L322.6,654.8 L324.1,655.1 L325.7,655.4 L327.2,655.7 L328.7,655.9 L330.3,656.2 L331.8,656.5 L333.4,656.8 L334.9,657.1 L336.4,657.3 L338.0,657.6 L339.5,657.9 L341.0,658.2 L342.6,658.5 L344.1,658.8 L345.7,659.1 L347.2,659.4" fill="none" stroke="#1de3f5" stroke-width="1.4" stroke-dasharray="1.3,1.7" stroke-linecap="butt" stroke-linejoin="round" clip-path="url(#cc)"/>
<path d="M41.0,600.2 L42.8,600.2 L44.7,600.1 L46.5,600.1 L48.4,600.1 L50.2,600.0 L52.1,599.9 L53.9,599.8 L55.8,599.7 L57.6,599.6 L59.5,599.4 L61.3,599.1 L63.2,598.7 L65.0,598.3 L66.9,597.8 L68.7,597.2 L70.6,596.6 L72.4,596.0 L74.3,595.3 L76.1,594.7 L78.0,594.1 L79.8,593.4 L81.7,592.9 L83.5,592.3 L85.4,591.7 L87.2,591.2 L89.1,590.6 L90.9,590.0 L92.8,589.4 L94.6,588.8 L96.5,588.1 L98.3,587.5 L100.2,586.9 L102.0,586.2 L103.9,585.6 L105.7,584.9 L107.6,584.2 L109.4,583.6 L111.3,582.9 L113.1,582.2 L115.0,581.5 L116.8,580.8 L118.7,580.1 L120.5,579.4 L122.4,578.6 L124.2,577.9 L126.1,577.1 L127.9,576.3 L129.8,575.5 L131.6,574.7 L133.5,573.8 L135.3,573.0 L137.2,572.2 L139.0,571.4 L140.9,570.7 L142.7,569.9 L144.6,569.2 L146.4,568.4 L148.3,567.7 L150.1,566.9 L152.0,566.2 L153.8,565.4 L155.7,564.7 L157.5,564.0 L159.4,563.2 L161.2,562.5 L163.1,561.8 L164.9,561.1 L166.8,560.4 L168.6,559.6 L170.5,558.9 L172.3,558.2 L174.2,557.5 L176.0,556.8 L177.9,556.1 L179.7,555.4 L181.6,554.6 L183.4,553.9 L185.3,553.2 L187.1,552.5 L189.0,551.8 L190.8,551.1 L192.7,550.4 L194.5,549.7 L196.4,549.0 L198.2,548.3 L200.1,547.6 L201.9,546.9 L203.8,546.2 L205.6,545.4 L207.5,544.7 L209.3,544.0 L211.2,543.3 L213.0,542.6 L214.9,541.9 L216.7,541.1 L218.6,540.4 L220.4,539.7 L222.3,539.0 L224.1,538.2 L226.0,537.5 L227.8,536.8 L229.7,536.0 L231.5,535.3 L233.4,534.5 L235.2,533.8 L237.1,533.0 L238.9,532.3 L240.7,531.5 L242.6,530.7 L244.4,530.0 L246.3,529.2 L248.1,528.4 L250.0,527.6 L251.8,526.9 L253.7,526.1 L255.5,525.3 L257.4,524.5 L259.2,523.7 L261.1,522.9 L262.9,522.1 L264.8,521.3 L266.6,520.5 L268.5,519.7 L270.3,518.9 L272.2,518.1 L274.0,517.3 L275.9,516.5 L277.7,515.6 L279.6,514.8 L281.4,514.0 L283.3,513.2 L285.1,512.4 L287.0,511.6 L288.8,510.7 L290.7,509.9 L292.5,509.1 L294.4,508.2 L296.2,507.4 L298.1,506.6 L299.9,505.7 L301.8,504.9 L303.6,504.0 L305.5,503.2 L307.3,502.3 L309.2,501.5 L311.0,500.6 L312.9,499.8 L314.7,498.9 L316.6,498.0" fill="none" stroke="#ffbb78" stroke-width="1.5" stroke-linecap="butt" stroke-linejoin="round" clip-path="url(#cc)"/>
<path d="M41.0,592.7 L42.5,592.8 L44.1,592.9 L45.6,593.1 L47.2,593.2 L48.7,593.3 L50.2,593.4 L51.8,593.5 L53.3,593.7 L54.8,593.8 L56.4,593.9 L57.9,594.0 L59.5,594.1 L61.0,594.3 L62.5,594.4 L64.1,594.5 L65.6,594.6 L67.2,594.7 L68.7,594.9 L70.2,595.0 L71.8,595.1 L73.3,595.2 L74.9,595.4 L76.4,595.5 L77.9,595.6 L79.5,595.7 L81.0,595.8 L82.5,596.0 L84.1,596.1 L85.6,596.2 L87.2,596.3 L88.7,596.5 L90.2,596.6 L91.8,596.7 L93.3,596.8 L94.9,597.0 L96.4,597.1 L97.9,597.2 L99.5,597.3 L101.0,597.5 L102.5,597.6 L104.1,597.7 L105.6,597.8 L107.2,598.0 L108.7,598.1 L110.2,598.2 L111.8,598.3 L113.3,598.5 L114.9,598.6 L116.4,598.7 L117.9,598.8 L119.5,599.0 L121.0,599.1 L122.6,599.2 L124.1,599.3 L125.6,599.5 L127.2,599.6 L128.7,599.7 L130.2,599.8 L131.8,600.0 L133.3,600.1 L134.9,600.2 L136.4,600.3 L137.9,600.5 L139.5,600.6 L141.0,600.7 L142.6,600.9 L144.1,601.0 L145.6,601.1 L147.2,601.2 L148.7,601.4 L150.2,601.5 L151.8,601.6 L153.3,601.8 L154.9,601.9 L156.4,602.0 L157.9,602.1 L159.5,602.3 L161.0,602.4 L162.6,602.5 L164.1,602.7 L165.6,602.8 L167.2,602.9 L168.7,603.0 L170.3,603.2 L171.8,603.3 L173.3,603.4 L174.9,603.6 L176.4,603.7 L177.9,603.8 L179.5,604.0 L181.0,604.1 L182.6,604.2 L184.1,604.3 L185.6,604.5 L187.2,604.6 L188.7,604.7 L190.3,604.9 L191.8,605.0 L193.3,605.1 L194.9,605.3 L196.4,605.4 L197.9,605.5 L199.5,605.7 L201.0,605.8 L202.6,605.9 L204.1,606.1 L205.6,606.2 L207.2,606.3 L208.7,606.5 L210.3,606.6 L211.8,606.7 L213.3,606.9 L214.9,607.0 L216.4,607.1 L217.9,607.3 L219.5,607.4 L221.0,607.5 L222.6,607.7 L224.1,607.8 L225.6,607.9 L227.2,608.1 L228.7,608.2 L230.3,608.3 L231.8,608.5 L233.3,608.6 L234.9,608.7 L236.4,608.9 L238.0,609.0 L239.5,609.2 L241.0,609.3 L242.6,609.4 L244.1,609.6 L245.6,609.7 L247.2,609.8 L248.7,610.0 L250.3,610.1 L251.8,610.2 L253.3,610.4 L254.9,610.5 L256.4,610.7 L258.0,610.8 L259.5,610.9 L261.0,611.1 L262.6,611.2 L264.1,611.3 L265.6,611.5 L267.2,611.6 L268.7,611.8 L270.3,611.9 L271.8,612.0 L273.3,612.2 L274.9,612.3 L276.4,612.4 L278.0,612.6 L279.5,612.7 L281.0,612.9 L282.6,613.0 L284.1,613.1 L285.7,613.3 L287.2,613.4 L288.7,613.6 L290.3,613.7 L291.8,613.8 L293.3,614.0 L294.9,614.1 L296.4,614.3 L298.0,614.4 L299.5,614.5 L301.0,614.7 L302.6,614.8 L304.1,615.0 L305.7,615.1 L307.2,615.2 L308.7,615.4 L310.3,615.5 L311.8,615.7 L313.3,615.8 L314.9,616.0 L316.4,616.1 L318.0,616.2 L319.5,616.4 L321.0,616.5 L322.6,616.7 L324.1,616.8 L325.7,617.0 L327.2,617.1 L328.7,617.2 L330.3,617.4 L331.8,617.5 L333.4,617.7 L334.9,617.8 L336.4,618.0 L338.0,618.1 L339.5,618.2 L341.0,618.4 L342.6,618.5 L344.1,618.7 L345.7,618.8 L347.2,619.0" fill="none" stroke="#1fb2cf" stroke-width="1.25" stroke-linecap="butt" stroke-linejoin="round" clip-path="url(#cc)"/>
<g clip-path="url(#cc)"><circle cx="41.61" cy="608.59" r="1.8" fill="#000"/><circle cx="44.52" cy="608.67" r="1.8" fill="#000"/><circle cx="47.43" cy="608.76" r="1.8" fill="#000"/><circle cx="50.34" cy="608.88" r="1.8" fill="#000"/><circle cx="53.25" cy="609.00" r="1.8" fill="#000"/><circle cx="56.16" cy="609.14" r="1.8" fill="#000"/><circle cx="59.07" cy="609.28" r="1.8" fill="#000"/><circle cx="61.97" cy="609.43" r="1.8" fill="#000"/><circle cx="64.88" cy="609.58" r="1.8" fill="#000"/><circle cx="67.79" cy="609.74" r="1.8" fill="#000"/><circle cx="70.70" cy="609.91" r="1.8" fill="#000"/><circle cx="73.61" cy="610.08" r="1.8" fill="#000"/><circle cx="76.52" cy="610.26" r="1.8" fill="#000"/><circle cx="79.43" cy="610.44" r="1.8" fill="#000"/><circle cx="82.34" cy="610.62" r="1.8" fill="#000"/><circle cx="85.25" cy="610.81" r="1.8" fill="#000"/><circle cx="88.15" cy="611.00" r="1.8" fill="#000"/></g>
<g font-family='"Liberation Sans", sans-serif' fill="#222">
<text x="38.70" y="729.37" font-size="9.08" text-anchor="end" textLength="15.75" lengthAdjust="spacingAndGlyphs">100</text>
<text x="38.70" y="693.75" font-size="9.08" text-anchor="end" textLength="15.75" lengthAdjust="spacingAndGlyphs">150</text>
<text x="38.70" y="658.14" font-size="9.08" text-anchor="end" textLength="15.75" lengthAdjust="spacingAndGlyphs">200</text>
<text x="38.70" y="622.52" font-size="9.08" text-anchor="end" textLength="15.75" lengthAdjust="spacingAndGlyphs">250</text>
<text x="38.70" y="586.91" font-size="9.08" text-anchor="end" textLength="15.75" lengthAdjust="spacingAndGlyphs">300</text>
<text x="38.70" y="551.29" font-size="9.08" text-anchor="end" textLength="15.75" lengthAdjust="spacingAndGlyphs">350</text>
<text x="38.70" y="515.68" font-size="9.08" text-anchor="end" textLength="15.75" lengthAdjust="spacingAndGlyphs">400</text>
<text x="41.00" y="735.80" font-size="9.08" text-anchor="middle" textLength="5.25" lengthAdjust="spacingAndGlyphs">0</text>
<text x="79.28" y="735.80" font-size="9.08" text-anchor="middle" textLength="15.75" lengthAdjust="spacingAndGlyphs">250</text>
<text x="117.55" y="735.80" font-size="9.08" text-anchor="middle" textLength="15.75" lengthAdjust="spacingAndGlyphs">500</text>
<text x="155.83" y="735.80" font-size="9.08" text-anchor="middle" textLength="15.75" lengthAdjust="spacingAndGlyphs">750</text>
<text x="194.10" y="735.80" font-size="9.08" text-anchor="middle" textLength="21.00" lengthAdjust="spacingAndGlyphs">1000</text>
<text x="232.38" y="735.80" font-size="9.08" text-anchor="middle" textLength="21.00" lengthAdjust="spacingAndGlyphs">1250</text>
<text x="270.65" y="735.80" font-size="9.08" text-anchor="middle" textLength="21.00" lengthAdjust="spacingAndGlyphs">1500</text>
<text x="308.93" y="735.80" font-size="9.08" text-anchor="middle" textLength="21.00" lengthAdjust="spacingAndGlyphs">1750</text>
<text x="347.20" y="735.80" font-size="9.08" text-anchor="middle" textLength="21.00" lengthAdjust="spacingAndGlyphs">2000</text>
<text x="194.50" y="746.00" font-size="9.45" text-anchor="middle" textLength="17.12" lengthAdjust="spacingAndGlyphs">T, K</text>
<text transform="translate(19.8,619.6) rotate(-90)" font-size="9.8" text-anchor="middle" textLength="29.2" lengthAdjust="spacingAndGlyphs">B, GPa</text>
</g>
<text x="0" y="518.0" font-family='"Liberation Serif", serif' font-size="16.5" fill="#111" stroke="#111" stroke-width="0.35">(c)</text>
<rect x="41.7" y="669.2" width="167.8" height="52.09999999999991" fill="#fff" fill-opacity="0.7" stroke="#e4e4e4" stroke-width="0.8" rx="1.5"/>
<g font-family='"Liberation Sans", sans-serif' fill="#222">
<path d="M45.6,673.90 L59.8,673.90" fill="none" stroke="#1f6cb3" stroke-width="2.3" stroke-linecap="butt" stroke-linejoin="round"/>
<text x="63.20" y="676.10" font-size="6.60" text-anchor="start" textLength="45.25" lengthAdjust="spacingAndGlyphs">VASP 5.4 (LDA)</text>
<path d="M45.6,682.68 L59.8,682.68" fill="none" stroke="#17b4c8" stroke-width="2.3" stroke-linecap="butt" stroke-linejoin="round"/>
<text x="63.20" y="684.88" font-size="6.60" text-anchor="start" textLength="44.82" lengthAdjust="spacingAndGlyphs">VASP 5.4 (PBE)</text>
<path d="M45.6,691.46 L59.8,691.46" fill="none" stroke="#808080" stroke-width="1.2" stroke-dasharray="3.6,2.4" stroke-linecap="butt" stroke-linejoin="round"/>
<text x="63.20" y="693.66" font-size="6.60" text-anchor="start" textLength="25.57" lengthAdjust="spacingAndGlyphs">Cak (14)</text>
<path d="M45.6,700.24 L59.8,700.24" fill="none" stroke="#ff7f0e" stroke-width="1.3" stroke-dasharray="3.6,2.4" stroke-linecap="butt" stroke-linejoin="round"/>
<text x="63.20" y="702.44" font-size="6.60" text-anchor="start" textLength="23.04" lengthAdjust="spacingAndGlyphs">Lin (14)</text>
<path d="M45.6,709.02 L59.8,709.02" fill="none" stroke="#c2abd6" stroke-width="1.2" stroke-dasharray="4.2,1.6,1,1.6" stroke-linecap="butt" stroke-linejoin="round"/>
<text x="63.20" y="711.22" font-size="6.60" text-anchor="start" textLength="27.19" lengthAdjust="spacingAndGlyphs">Park (12)</text>
<path d="M45.6,717.80 L59.8,717.80" fill="none" stroke="#ff9896" stroke-width="1.1" stroke-linecap="butt" stroke-linejoin="round"/>
<text x="63.20" y="720.00" font-size="6.60" text-anchor="start" textLength="38.68" lengthAdjust="spacingAndGlyphs">Starikov (18)</text>
<path d="M118.7,673.90 L132,673.90" fill="none" stroke="#e8262a" stroke-width="1.4" stroke-dasharray="1.3,1.7" stroke-linecap="butt" stroke-linejoin="round"/>
<text x="138.10" y="676.10" font-size="6.60" text-anchor="start" textLength="45.38" lengthAdjust="spacingAndGlyphs">Derlet&#160; Mo (07)</text>
<path d="M118.7,682.68 L132,682.68" fill="none" stroke="#d6d882" stroke-width="1.2" stroke-dasharray="1.2,2.1" stroke-linecap="butt" stroke-linejoin="round"/>
<text x="138.10" y="684.88" font-size="6.60" text-anchor="start" textLength="42.61" lengthAdjust="spacingAndGlyphs">Smirnova (13)</text>
<path d="M118.7,691.46 L132,691.46" fill="none" stroke="#1de3f5" stroke-width="1.4" stroke-dasharray="1.3,1.7" stroke-linecap="butt" stroke-linejoin="round"/>
<text x="138.10" y="693.66" font-size="6.60" text-anchor="start" textLength="29.61" lengthAdjust="spacingAndGlyphs">Zhou (04)</text>
<path d="M118.7,700.24 L132,700.24" fill="none" stroke="#ffbb78" stroke-width="1.5" stroke-linecap="butt" stroke-linejoin="round"/>
<text x="138.10" y="702.44" font-size="6.60" text-anchor="start" textLength="65.07" lengthAdjust="spacingAndGlyphs">Finnis-Sinclair (84,87)</text>
<path d="M118.7,709.02 L132,709.02" fill="none" stroke="#1fb2cf" stroke-width="1.25" stroke-linecap="butt" stroke-linejoin="round"/>
<text x="138.10" y="711.22" font-size="6.60" text-anchor="start" textLength="69.48" lengthAdjust="spacingAndGlyphs">Girifalco Mo HighCutoff</text>
<circle cx="125.35" cy="717.80" r="2.0" fill="#000"/>
<text x="138.10" y="720.00" font-size="6.60" text-anchor="start" textLength="13.06" lengthAdjust="spacingAndGlyphs">Exp.</text>
</g>
</svg>
</body></html>
